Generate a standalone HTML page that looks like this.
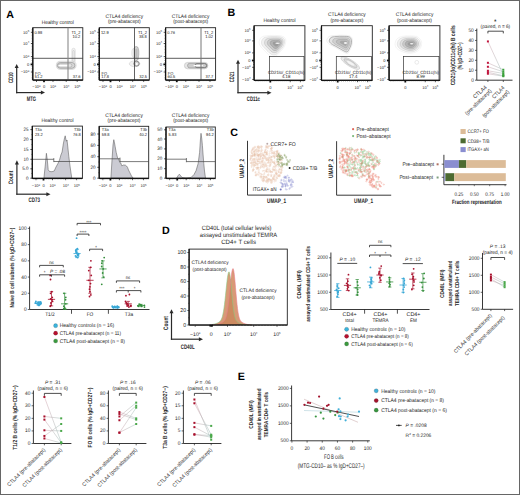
<!DOCTYPE html>
<html><head><meta charset="utf-8"><style>
html,body{margin:0;padding:0;background:#fff;width:520px;height:495px;overflow:hidden}
svg{display:block;font-family:"Liberation Sans", sans-serif;text-rendering:geometricPrecision}

</style></head><body>
<svg width="520" height="495" viewBox="0 0 520 495" font-family='"Liberation Sans", sans-serif'>
<rect width="520" height="495" fill="#fff"/>
<defs><linearGradient id="pg1" gradientUnits="userSpaceOnUse" x1="487.9" y1="0" x2="503.3" y2="0"><stop offset="0" stop-color="#d4a2ae"/><stop offset="1" stop-color="#9ac0b8"/></linearGradient>
<linearGradient id="pg2" gradientUnits="userSpaceOnUse" x1="490.9" y1="0" x2="504.6" y2="0"><stop offset="0" stop-color="#d4a2ae"/><stop offset="1" stop-color="#9ac0b8"/></linearGradient>
<linearGradient id="pg3" gradientUnits="userSpaceOnUse" x1="44.4" y1="0" x2="61.2" y2="0"><stop offset="0" stop-color="#d4a2ae"/><stop offset="1" stop-color="#9ac0b8"/></linearGradient>
<linearGradient id="pg4" gradientUnits="userSpaceOnUse" x1="119.4" y1="0" x2="136.20000000000002" y2="0"><stop offset="0" stop-color="#d4a2ae"/><stop offset="1" stop-color="#9ac0b8"/></linearGradient>
<linearGradient id="pg5" gradientUnits="userSpaceOnUse" x1="194.4" y1="0" x2="211.20000000000002" y2="0"><stop offset="0" stop-color="#d4a2ae"/><stop offset="1" stop-color="#9ac0b8"/></linearGradient></defs>
<rect x="0.5" y="0.5" width="519" height="494" fill="none" stroke="#666" stroke-width="1" />
<text x="6.2" y="17.5" font-size="10.7" font-weight="bold" fill="#000">A</text>
<text x="227.4" y="15.5" font-size="10.7" font-weight="bold" fill="#000">B</text>
<text x="230.2" y="136.1" font-size="10.7" font-weight="bold" fill="#000">C</text>
<text x="161.9" y="234.1" font-size="10.7" font-weight="bold" fill="#000">D</text>
<text x="237.7" y="379.8" font-size="10.7" font-weight="bold" fill="#000">E</text>
<text x="57.8" y="24" font-size="5.18" text-anchor="middle" fill="#262626" textLength="32.02" lengthAdjust="spacingAndGlyphs">Healthy control</text>
<rect x="71.9" y="48.3" width="3.3" height="14.5" rx="1.65" fill="#f4f4f4" stroke="#c4c4c4" stroke-width="0.45"/>
<rect x="72.8" y="50.5" width="1.5" height="11" rx="0.75" fill="none" stroke="#b4b4b4" stroke-width="0.4"/>
<rect x="56.3" y="61.2" width="19.8" height="8.2" rx="4.1" fill="#ededed" stroke="#bdbdbd" stroke-width="0.45"/>
<rect x="57.3" y="62.5" width="17.6" height="5.8" rx="2.9" fill="#d6d6d6" stroke="#8c8c8c" stroke-width="0.6"/>
<rect x="58.4" y="63.7" width="13.5" height="3.5" rx="1.75" fill="#e4e4e4" stroke="#9a9a9a" stroke-width="0.5"/>
<rect x="58.3" y="64.95" width="9.5" height="1.2" rx="0.6" fill="#fff"/>
<rect x="32.8" y="27.7" width="50" height="52.3" fill="none" stroke="#222" stroke-width="0.9" />
<line x1="32.8" y1="58.3" x2="82.8" y2="58.3" stroke="#333" stroke-width="0.8" />
<line x1="68" y1="27.7" x2="68" y2="80" stroke="#8a8a8a" stroke-width="1.1" />
<text x="34.4" y="33.6" font-size="4.32" fill="#262626" textLength="7.79" lengthAdjust="spacingAndGlyphs">0.98</text>
<text x="80.5" y="33.6" font-size="4.32" text-anchor="end" fill="#262626" textLength="9.12" lengthAdjust="spacingAndGlyphs">T1_2</text>
<text x="80.2" y="38" font-size="4.32" text-anchor="end" fill="#262626" textLength="7.79" lengthAdjust="spacingAndGlyphs">10.2</text>
<text x="35" y="74.6" font-size="4.32" fill="#262626" textLength="5.55" lengthAdjust="spacingAndGlyphs">FO</text>
<text x="34.7" y="78.4" font-size="4.32" fill="#262626" textLength="7.79" lengthAdjust="spacingAndGlyphs">51.2</text>
<text x="80.5" y="78.4" font-size="4.32" text-anchor="end" fill="#262626" textLength="7.79" lengthAdjust="spacingAndGlyphs">37.6</text>
<line x1="32.8" y1="27.7" x2="32.8" y2="80" stroke="#111" stroke-width="1.25" />
<line x1="31.7" y1="29.5" x2="32.8" y2="29.5" stroke="#222" stroke-width="0.5" />
<line x1="31.7" y1="30.8" x2="32.8" y2="30.8" stroke="#222" stroke-width="0.5" />
<line x1="31.7" y1="34" x2="32.8" y2="34" stroke="#222" stroke-width="0.5" />
<line x1="31.7" y1="35.5" x2="32.8" y2="35.5" stroke="#222" stroke-width="0.5" />
<line x1="31.7" y1="37" x2="32.8" y2="37" stroke="#222" stroke-width="0.5" />
<line x1="31.7" y1="38.5" x2="32.8" y2="38.5" stroke="#222" stroke-width="0.5" />
<line x1="31.7" y1="40" x2="32.8" y2="40" stroke="#222" stroke-width="0.5" />
<line x1="31.7" y1="41.5" x2="32.8" y2="41.5" stroke="#222" stroke-width="0.5" />
<line x1="31.7" y1="45" x2="32.8" y2="45" stroke="#222" stroke-width="0.5" />
<line x1="31.7" y1="46.5" x2="32.8" y2="46.5" stroke="#222" stroke-width="0.5" />
<line x1="31.7" y1="48" x2="32.8" y2="48" stroke="#222" stroke-width="0.5" />
<line x1="31.7" y1="49.5" x2="32.8" y2="49.5" stroke="#222" stroke-width="0.5" />
<line x1="31.7" y1="51" x2="32.8" y2="51" stroke="#222" stroke-width="0.5" />
<line x1="31.7" y1="52.5" x2="32.8" y2="52.5" stroke="#222" stroke-width="0.5" />
<line x1="31.7" y1="54" x2="32.8" y2="54" stroke="#222" stroke-width="0.5" />
<line x1="31.7" y1="58.5" x2="32.8" y2="58.5" stroke="#222" stroke-width="0.5" />
<line x1="31.7" y1="60.5" x2="32.8" y2="60.5" stroke="#222" stroke-width="0.5" />
<line x1="31.7" y1="62.5" x2="32.8" y2="62.5" stroke="#222" stroke-width="0.5" />
<line x1="31.7" y1="66.5" x2="32.8" y2="66.5" stroke="#222" stroke-width="0.5" />
<line x1="31.7" y1="68.5" x2="32.8" y2="68.5" stroke="#222" stroke-width="0.5" />
<line x1="31.7" y1="70.3" x2="32.8" y2="70.3" stroke="#222" stroke-width="0.5" />
<line x1="31.7" y1="74" x2="32.8" y2="74" stroke="#222" stroke-width="0.5" />
<line x1="31.7" y1="75.8" x2="32.8" y2="75.8" stroke="#222" stroke-width="0.5" />
<line x1="31.7" y1="77.6" x2="32.8" y2="77.6" stroke="#222" stroke-width="0.5" />
<line x1="31.7" y1="79" x2="32.8" y2="79" stroke="#222" stroke-width="0.5" />
<line x1="30.9" y1="32.3" x2="32.8" y2="32.3" stroke="#111" stroke-width="0.75" />
<text x="29.2" y="33.7" font-size="4.1" text-anchor="end" fill="#262626">10<tspan dy="-1.5" font-size="2.8">5</tspan></text>
<line x1="30.9" y1="43.5" x2="32.8" y2="43.5" stroke="#111" stroke-width="0.75" />
<text x="29.2" y="44.9" font-size="4.1" text-anchor="end" fill="#262626">10<tspan dy="-1.5" font-size="2.8">4</tspan></text>
<line x1="30.9" y1="56.6" x2="32.8" y2="56.6" stroke="#111" stroke-width="0.75" />
<text x="29.2" y="58" font-size="4.1" text-anchor="end" fill="#262626">10<tspan dy="-1.5" font-size="2.8">3</tspan></text>
<rect x="30.6" y="63.5" width="2.2" height="1.8" fill="#111" stroke="none" stroke-width="0.8" />
<text x="29.2" y="65.8" font-size="4.1" text-anchor="end" fill="#262626">0</text>
<line x1="30.9" y1="72" x2="32.8" y2="72" stroke="#111" stroke-width="0.75" />
<text x="29.2" y="73.4" font-size="4.1" text-anchor="end" fill="#262626">−10<tspan dy="-1.5" font-size="2.8">3</tspan></text>
<line x1="32.8" y1="80" x2="82.8" y2="80" stroke="#111" stroke-width="1.25" />
<line x1="33.8" y1="80" x2="33.8" y2="81.1" stroke="#222" stroke-width="0.5" />
<line x1="35.1" y1="80" x2="35.1" y2="81.1" stroke="#222" stroke-width="0.5" />
<line x1="38" y1="80" x2="38" y2="81.1" stroke="#222" stroke-width="0.5" />
<line x1="39.4" y1="80" x2="39.4" y2="81.1" stroke="#222" stroke-width="0.5" />
<line x1="40.8" y1="80" x2="40.8" y2="81.1" stroke="#222" stroke-width="0.5" />
<line x1="42.4" y1="80" x2="42.4" y2="81.1" stroke="#222" stroke-width="0.5" />
<line x1="45.6" y1="80" x2="45.6" y2="81.1" stroke="#222" stroke-width="0.5" />
<line x1="47.2" y1="80" x2="47.2" y2="81.1" stroke="#222" stroke-width="0.5" />
<line x1="48.8" y1="80" x2="48.8" y2="81.1" stroke="#222" stroke-width="0.5" />
<line x1="50.4" y1="80" x2="50.4" y2="81.1" stroke="#222" stroke-width="0.5" />
<line x1="51.8" y1="80" x2="51.8" y2="81.1" stroke="#222" stroke-width="0.5" />
<line x1="54.6" y1="80" x2="54.6" y2="81.1" stroke="#222" stroke-width="0.5" />
<line x1="56.3" y1="80" x2="56.3" y2="81.1" stroke="#222" stroke-width="0.5" />
<line x1="57.8" y1="80" x2="57.8" y2="81.1" stroke="#222" stroke-width="0.5" />
<line x1="59.3" y1="80" x2="59.3" y2="81.1" stroke="#222" stroke-width="0.5" />
<line x1="60.8" y1="80" x2="60.8" y2="81.1" stroke="#222" stroke-width="0.5" />
<line x1="62.3" y1="80" x2="62.3" y2="81.1" stroke="#222" stroke-width="0.5" />
<line x1="63.8" y1="80" x2="63.8" y2="81.1" stroke="#222" stroke-width="0.5" />
<line x1="64.8" y1="80" x2="64.8" y2="81.1" stroke="#222" stroke-width="0.5" />
<line x1="67.8" y1="80" x2="67.8" y2="81.1" stroke="#222" stroke-width="0.5" />
<line x1="69.3" y1="80" x2="69.3" y2="81.1" stroke="#222" stroke-width="0.5" />
<line x1="70.8" y1="80" x2="70.8" y2="81.1" stroke="#222" stroke-width="0.5" />
<line x1="72.3" y1="80" x2="72.3" y2="81.1" stroke="#222" stroke-width="0.5" />
<line x1="73.8" y1="80" x2="73.8" y2="81.1" stroke="#222" stroke-width="0.5" />
<line x1="75.3" y1="80" x2="75.3" y2="81.1" stroke="#222" stroke-width="0.5" />
<line x1="76.3" y1="80" x2="76.3" y2="81.1" stroke="#222" stroke-width="0.5" />
<line x1="78.8" y1="80" x2="78.8" y2="81.1" stroke="#222" stroke-width="0.5" />
<line x1="80.3" y1="80" x2="80.3" y2="81.1" stroke="#222" stroke-width="0.5" />
<line x1="81.8" y1="80" x2="81.8" y2="81.1" stroke="#222" stroke-width="0.5" />
<line x1="36.5" y1="80" x2="36.5" y2="81.9" stroke="#111" stroke-width="0.75" />
<text x="36.5" y="88.4" font-size="4" text-anchor="middle" fill="#262626">−10<tspan dy="-1.5" font-size="2.8">3</tspan></text>
<rect x="43.1" y="80" width="1.8" height="2.2" fill="#111" stroke="none" stroke-width="0.8" />
<text x="44" y="88.4" font-size="4" text-anchor="middle" fill="#262626">0</text>
<line x1="53" y1="80" x2="53" y2="81.9" stroke="#111" stroke-width="0.75" />
<text x="53" y="88.4" font-size="4" text-anchor="middle" fill="#262626">10<tspan dy="-1.5" font-size="2.8">3</tspan></text>
<line x1="66.2" y1="80" x2="66.2" y2="81.9" stroke="#111" stroke-width="0.75" />
<text x="66.2" y="88.4" font-size="4" text-anchor="middle" fill="#262626">10<tspan dy="-1.5" font-size="2.8">4</tspan></text>
<line x1="77.2" y1="80" x2="77.2" y2="81.9" stroke="#111" stroke-width="0.75" />
<text x="77.2" y="88.4" font-size="4" text-anchor="middle" fill="#262626">10<tspan dy="-1.5" font-size="2.8">5</tspan></text>
<text x="124.3" y="18.3" font-size="5.18" text-anchor="middle" fill="#262626" textLength="37.62" lengthAdjust="spacingAndGlyphs">CTLA4 deficiency</text>
<text x="124.3" y="23.4" font-size="5.18" text-anchor="middle" fill="#262626" textLength="32.82" lengthAdjust="spacingAndGlyphs">(pre-abatacept)</text>
<rect x="131.8" y="48.2" width="7.4" height="9.5" rx="3" fill="#f2f2f2" stroke="#d0d0d0" stroke-width="0.45"/>
<ellipse cx="134.6" cy="63.8" rx="5.3" ry="2.9" fill="#f0f0f0" stroke="#c4c4c4" stroke-width="0.45"/>
<rect x="134.2" y="46.6" width="4.0" height="14" rx="2" fill="#d8d8d8" stroke="#8c8c8c" stroke-width="0.6"/>
<rect x="135.3" y="48.5" width="1.8" height="10" rx="0.9" fill="#bdbdbd" stroke="none"/>
<ellipse cx="136.5" cy="63.7" rx="2.7" ry="2.5" fill="#cfcfcf" stroke="#707070" stroke-width="0.7"/>
<ellipse cx="136.8" cy="64.0" rx="1.0" ry="0.9" fill="#fff"/>
<rect x="99.3" y="27.7" width="50" height="52.3" fill="none" stroke="#222" stroke-width="0.9" />
<line x1="99.3" y1="58.3" x2="149.3" y2="58.3" stroke="#333" stroke-width="0.8" />
<line x1="134.5" y1="27.7" x2="134.5" y2="80" stroke="#3a3a3a" stroke-width="0.8" />
<text x="100.9" y="33.6" font-size="4.32" fill="#262626" textLength="7.79" lengthAdjust="spacingAndGlyphs">12.9</text>
<text x="147" y="33.6" font-size="4.32" text-anchor="end" fill="#262626" textLength="9.12" lengthAdjust="spacingAndGlyphs">T1_2</text>
<text x="146.7" y="38" font-size="4.32" text-anchor="end" fill="#262626" textLength="7.79" lengthAdjust="spacingAndGlyphs">38.8</text>
<text x="101.5" y="74.6" font-size="4.32" fill="#262626" textLength="5.55" lengthAdjust="spacingAndGlyphs">FO</text>
<text x="101.2" y="78.4" font-size="4.32" fill="#262626" textLength="7.79" lengthAdjust="spacingAndGlyphs">17.8</text>
<text x="147" y="78.4" font-size="4.32" text-anchor="end" fill="#262626" textLength="7.79" lengthAdjust="spacingAndGlyphs">32.5</text>
<line x1="99.3" y1="27.7" x2="99.3" y2="80" stroke="#111" stroke-width="1.25" />
<line x1="98.2" y1="29.5" x2="99.3" y2="29.5" stroke="#222" stroke-width="0.5" />
<line x1="98.2" y1="30.8" x2="99.3" y2="30.8" stroke="#222" stroke-width="0.5" />
<line x1="98.2" y1="34" x2="99.3" y2="34" stroke="#222" stroke-width="0.5" />
<line x1="98.2" y1="35.5" x2="99.3" y2="35.5" stroke="#222" stroke-width="0.5" />
<line x1="98.2" y1="37" x2="99.3" y2="37" stroke="#222" stroke-width="0.5" />
<line x1="98.2" y1="38.5" x2="99.3" y2="38.5" stroke="#222" stroke-width="0.5" />
<line x1="98.2" y1="40" x2="99.3" y2="40" stroke="#222" stroke-width="0.5" />
<line x1="98.2" y1="41.5" x2="99.3" y2="41.5" stroke="#222" stroke-width="0.5" />
<line x1="98.2" y1="45" x2="99.3" y2="45" stroke="#222" stroke-width="0.5" />
<line x1="98.2" y1="46.5" x2="99.3" y2="46.5" stroke="#222" stroke-width="0.5" />
<line x1="98.2" y1="48" x2="99.3" y2="48" stroke="#222" stroke-width="0.5" />
<line x1="98.2" y1="49.5" x2="99.3" y2="49.5" stroke="#222" stroke-width="0.5" />
<line x1="98.2" y1="51" x2="99.3" y2="51" stroke="#222" stroke-width="0.5" />
<line x1="98.2" y1="52.5" x2="99.3" y2="52.5" stroke="#222" stroke-width="0.5" />
<line x1="98.2" y1="54" x2="99.3" y2="54" stroke="#222" stroke-width="0.5" />
<line x1="98.2" y1="58.5" x2="99.3" y2="58.5" stroke="#222" stroke-width="0.5" />
<line x1="98.2" y1="60.5" x2="99.3" y2="60.5" stroke="#222" stroke-width="0.5" />
<line x1="98.2" y1="62.5" x2="99.3" y2="62.5" stroke="#222" stroke-width="0.5" />
<line x1="98.2" y1="66.5" x2="99.3" y2="66.5" stroke="#222" stroke-width="0.5" />
<line x1="98.2" y1="68.5" x2="99.3" y2="68.5" stroke="#222" stroke-width="0.5" />
<line x1="98.2" y1="70.3" x2="99.3" y2="70.3" stroke="#222" stroke-width="0.5" />
<line x1="98.2" y1="74" x2="99.3" y2="74" stroke="#222" stroke-width="0.5" />
<line x1="98.2" y1="75.8" x2="99.3" y2="75.8" stroke="#222" stroke-width="0.5" />
<line x1="98.2" y1="77.6" x2="99.3" y2="77.6" stroke="#222" stroke-width="0.5" />
<line x1="98.2" y1="79" x2="99.3" y2="79" stroke="#222" stroke-width="0.5" />
<line x1="97.4" y1="32.3" x2="99.3" y2="32.3" stroke="#111" stroke-width="0.75" />
<text x="95.7" y="33.7" font-size="4.1" text-anchor="end" fill="#262626">10<tspan dy="-1.5" font-size="2.8">5</tspan></text>
<line x1="97.4" y1="43.5" x2="99.3" y2="43.5" stroke="#111" stroke-width="0.75" />
<text x="95.7" y="44.9" font-size="4.1" text-anchor="end" fill="#262626">10<tspan dy="-1.5" font-size="2.8">4</tspan></text>
<line x1="97.4" y1="56.6" x2="99.3" y2="56.6" stroke="#111" stroke-width="0.75" />
<text x="95.7" y="58" font-size="4.1" text-anchor="end" fill="#262626">10<tspan dy="-1.5" font-size="2.8">3</tspan></text>
<rect x="97.1" y="63.5" width="2.2" height="1.8" fill="#111" stroke="none" stroke-width="0.8" />
<text x="95.7" y="65.8" font-size="4.1" text-anchor="end" fill="#262626">0</text>
<line x1="97.4" y1="72" x2="99.3" y2="72" stroke="#111" stroke-width="0.75" />
<text x="95.7" y="73.4" font-size="4.1" text-anchor="end" fill="#262626">−10<tspan dy="-1.5" font-size="2.8">3</tspan></text>
<line x1="99.3" y1="80" x2="149.3" y2="80" stroke="#111" stroke-width="1.25" />
<line x1="100.3" y1="80" x2="100.3" y2="81.1" stroke="#222" stroke-width="0.5" />
<line x1="101.6" y1="80" x2="101.6" y2="81.1" stroke="#222" stroke-width="0.5" />
<line x1="104.5" y1="80" x2="104.5" y2="81.1" stroke="#222" stroke-width="0.5" />
<line x1="105.9" y1="80" x2="105.9" y2="81.1" stroke="#222" stroke-width="0.5" />
<line x1="107.3" y1="80" x2="107.3" y2="81.1" stroke="#222" stroke-width="0.5" />
<line x1="108.9" y1="80" x2="108.9" y2="81.1" stroke="#222" stroke-width="0.5" />
<line x1="112.1" y1="80" x2="112.1" y2="81.1" stroke="#222" stroke-width="0.5" />
<line x1="113.7" y1="80" x2="113.7" y2="81.1" stroke="#222" stroke-width="0.5" />
<line x1="115.3" y1="80" x2="115.3" y2="81.1" stroke="#222" stroke-width="0.5" />
<line x1="116.9" y1="80" x2="116.9" y2="81.1" stroke="#222" stroke-width="0.5" />
<line x1="118.3" y1="80" x2="118.3" y2="81.1" stroke="#222" stroke-width="0.5" />
<line x1="121.1" y1="80" x2="121.1" y2="81.1" stroke="#222" stroke-width="0.5" />
<line x1="122.8" y1="80" x2="122.8" y2="81.1" stroke="#222" stroke-width="0.5" />
<line x1="124.3" y1="80" x2="124.3" y2="81.1" stroke="#222" stroke-width="0.5" />
<line x1="125.8" y1="80" x2="125.8" y2="81.1" stroke="#222" stroke-width="0.5" />
<line x1="127.3" y1="80" x2="127.3" y2="81.1" stroke="#222" stroke-width="0.5" />
<line x1="128.8" y1="80" x2="128.8" y2="81.1" stroke="#222" stroke-width="0.5" />
<line x1="130.3" y1="80" x2="130.3" y2="81.1" stroke="#222" stroke-width="0.5" />
<line x1="131.3" y1="80" x2="131.3" y2="81.1" stroke="#222" stroke-width="0.5" />
<line x1="134.3" y1="80" x2="134.3" y2="81.1" stroke="#222" stroke-width="0.5" />
<line x1="135.8" y1="80" x2="135.8" y2="81.1" stroke="#222" stroke-width="0.5" />
<line x1="137.3" y1="80" x2="137.3" y2="81.1" stroke="#222" stroke-width="0.5" />
<line x1="138.8" y1="80" x2="138.8" y2="81.1" stroke="#222" stroke-width="0.5" />
<line x1="140.3" y1="80" x2="140.3" y2="81.1" stroke="#222" stroke-width="0.5" />
<line x1="141.8" y1="80" x2="141.8" y2="81.1" stroke="#222" stroke-width="0.5" />
<line x1="142.8" y1="80" x2="142.8" y2="81.1" stroke="#222" stroke-width="0.5" />
<line x1="145.3" y1="80" x2="145.3" y2="81.1" stroke="#222" stroke-width="0.5" />
<line x1="146.8" y1="80" x2="146.8" y2="81.1" stroke="#222" stroke-width="0.5" />
<line x1="148.3" y1="80" x2="148.3" y2="81.1" stroke="#222" stroke-width="0.5" />
<line x1="103" y1="80" x2="103" y2="81.9" stroke="#111" stroke-width="0.75" />
<text x="103" y="88.4" font-size="4" text-anchor="middle" fill="#262626">−10<tspan dy="-1.5" font-size="2.8">3</tspan></text>
<rect x="109.6" y="80" width="1.8" height="2.2" fill="#111" stroke="none" stroke-width="0.8" />
<text x="110.5" y="88.4" font-size="4" text-anchor="middle" fill="#262626">0</text>
<line x1="119.5" y1="80" x2="119.5" y2="81.9" stroke="#111" stroke-width="0.75" />
<text x="119.5" y="88.4" font-size="4" text-anchor="middle" fill="#262626">10<tspan dy="-1.5" font-size="2.8">3</tspan></text>
<line x1="132.7" y1="80" x2="132.7" y2="81.9" stroke="#111" stroke-width="0.75" />
<text x="132.7" y="88.4" font-size="4" text-anchor="middle" fill="#262626">10<tspan dy="-1.5" font-size="2.8">4</tspan></text>
<line x1="143.7" y1="80" x2="143.7" y2="81.9" stroke="#111" stroke-width="0.75" />
<text x="143.7" y="88.4" font-size="4" text-anchor="middle" fill="#262626">10<tspan dy="-1.5" font-size="2.8">5</tspan></text>
<text x="190.6" y="18.3" font-size="5.18" text-anchor="middle" fill="#262626" textLength="37.62" lengthAdjust="spacingAndGlyphs">CTLA4 deficiency</text>
<text x="190.6" y="23.4" font-size="5.18" text-anchor="middle" fill="#262626" textLength="34.95" lengthAdjust="spacingAndGlyphs">(post-abatacept)</text>
<rect x="184.4" y="62.4" width="23.5" height="6.4" rx="3.2" fill="#e6e6e6" stroke="#b4b4b4" stroke-width="0.5"/>
<rect x="187.5" y="63.3" width="19.6" height="4.6" rx="2.3" fill="#cccccc" stroke="#8a8a8a" stroke-width="0.55"/>
<rect x="195" y="63.6" width="11.6" height="4.0" rx="2.0" fill="none" stroke="#666" stroke-width="0.7"/>
<rect x="193.5" y="64.9" width="9.5" height="1.3" rx="0.65" fill="#fff"/>
<rect x="165.6" y="27.7" width="50" height="52.3" fill="none" stroke="#222" stroke-width="0.9" />
<line x1="165.6" y1="58.3" x2="215.6" y2="58.3" stroke="#333" stroke-width="0.8" />
<line x1="201" y1="27.7" x2="201" y2="80" stroke="#777" stroke-width="1" />
<text x="167.2" y="33.6" font-size="4.32" fill="#262626" textLength="7.79" lengthAdjust="spacingAndGlyphs">0.76</text>
<text x="213.3" y="33.6" font-size="4.32" text-anchor="end" fill="#262626" textLength="9.12" lengthAdjust="spacingAndGlyphs">T1_2</text>
<text x="213" y="38" font-size="4.32" text-anchor="end" fill="#262626" textLength="7.79" lengthAdjust="spacingAndGlyphs">1.02</text>
<text x="167.8" y="74.6" font-size="4.32" fill="#262626" textLength="5.55" lengthAdjust="spacingAndGlyphs">FO</text>
<text x="167.5" y="78.4" font-size="4.32" fill="#262626" textLength="7.79" lengthAdjust="spacingAndGlyphs">60.5</text>
<text x="213.3" y="78.4" font-size="4.32" text-anchor="end" fill="#262626" textLength="7.79" lengthAdjust="spacingAndGlyphs">37.7</text>
<line x1="165.6" y1="27.7" x2="165.6" y2="80" stroke="#111" stroke-width="1.25" />
<line x1="164.5" y1="29.5" x2="165.6" y2="29.5" stroke="#222" stroke-width="0.5" />
<line x1="164.5" y1="30.8" x2="165.6" y2="30.8" stroke="#222" stroke-width="0.5" />
<line x1="164.5" y1="34" x2="165.6" y2="34" stroke="#222" stroke-width="0.5" />
<line x1="164.5" y1="35.5" x2="165.6" y2="35.5" stroke="#222" stroke-width="0.5" />
<line x1="164.5" y1="37" x2="165.6" y2="37" stroke="#222" stroke-width="0.5" />
<line x1="164.5" y1="38.5" x2="165.6" y2="38.5" stroke="#222" stroke-width="0.5" />
<line x1="164.5" y1="40" x2="165.6" y2="40" stroke="#222" stroke-width="0.5" />
<line x1="164.5" y1="41.5" x2="165.6" y2="41.5" stroke="#222" stroke-width="0.5" />
<line x1="164.5" y1="45" x2="165.6" y2="45" stroke="#222" stroke-width="0.5" />
<line x1="164.5" y1="46.5" x2="165.6" y2="46.5" stroke="#222" stroke-width="0.5" />
<line x1="164.5" y1="48" x2="165.6" y2="48" stroke="#222" stroke-width="0.5" />
<line x1="164.5" y1="49.5" x2="165.6" y2="49.5" stroke="#222" stroke-width="0.5" />
<line x1="164.5" y1="51" x2="165.6" y2="51" stroke="#222" stroke-width="0.5" />
<line x1="164.5" y1="52.5" x2="165.6" y2="52.5" stroke="#222" stroke-width="0.5" />
<line x1="164.5" y1="54" x2="165.6" y2="54" stroke="#222" stroke-width="0.5" />
<line x1="164.5" y1="58.5" x2="165.6" y2="58.5" stroke="#222" stroke-width="0.5" />
<line x1="164.5" y1="60.5" x2="165.6" y2="60.5" stroke="#222" stroke-width="0.5" />
<line x1="164.5" y1="62.5" x2="165.6" y2="62.5" stroke="#222" stroke-width="0.5" />
<line x1="164.5" y1="66.5" x2="165.6" y2="66.5" stroke="#222" stroke-width="0.5" />
<line x1="164.5" y1="68.5" x2="165.6" y2="68.5" stroke="#222" stroke-width="0.5" />
<line x1="164.5" y1="70.3" x2="165.6" y2="70.3" stroke="#222" stroke-width="0.5" />
<line x1="164.5" y1="74" x2="165.6" y2="74" stroke="#222" stroke-width="0.5" />
<line x1="164.5" y1="75.8" x2="165.6" y2="75.8" stroke="#222" stroke-width="0.5" />
<line x1="164.5" y1="77.6" x2="165.6" y2="77.6" stroke="#222" stroke-width="0.5" />
<line x1="164.5" y1="79" x2="165.6" y2="79" stroke="#222" stroke-width="0.5" />
<line x1="163.7" y1="32.3" x2="165.6" y2="32.3" stroke="#111" stroke-width="0.75" />
<text x="162" y="33.7" font-size="4.1" text-anchor="end" fill="#262626">10<tspan dy="-1.5" font-size="2.8">5</tspan></text>
<line x1="163.7" y1="43.5" x2="165.6" y2="43.5" stroke="#111" stroke-width="0.75" />
<text x="162" y="44.9" font-size="4.1" text-anchor="end" fill="#262626">10<tspan dy="-1.5" font-size="2.8">4</tspan></text>
<line x1="163.7" y1="56.6" x2="165.6" y2="56.6" stroke="#111" stroke-width="0.75" />
<text x="162" y="58" font-size="4.1" text-anchor="end" fill="#262626">10<tspan dy="-1.5" font-size="2.8">3</tspan></text>
<rect x="163.4" y="63.5" width="2.2" height="1.8" fill="#111" stroke="none" stroke-width="0.8" />
<text x="162" y="65.8" font-size="4.1" text-anchor="end" fill="#262626">0</text>
<line x1="163.7" y1="72" x2="165.6" y2="72" stroke="#111" stroke-width="0.75" />
<text x="162" y="73.4" font-size="4.1" text-anchor="end" fill="#262626">−10<tspan dy="-1.5" font-size="2.8">3</tspan></text>
<line x1="165.6" y1="80" x2="215.6" y2="80" stroke="#111" stroke-width="1.25" />
<line x1="166.6" y1="80" x2="166.6" y2="81.1" stroke="#222" stroke-width="0.5" />
<line x1="167.9" y1="80" x2="167.9" y2="81.1" stroke="#222" stroke-width="0.5" />
<line x1="170.8" y1="80" x2="170.8" y2="81.1" stroke="#222" stroke-width="0.5" />
<line x1="172.2" y1="80" x2="172.2" y2="81.1" stroke="#222" stroke-width="0.5" />
<line x1="173.6" y1="80" x2="173.6" y2="81.1" stroke="#222" stroke-width="0.5" />
<line x1="175.2" y1="80" x2="175.2" y2="81.1" stroke="#222" stroke-width="0.5" />
<line x1="178.4" y1="80" x2="178.4" y2="81.1" stroke="#222" stroke-width="0.5" />
<line x1="180" y1="80" x2="180" y2="81.1" stroke="#222" stroke-width="0.5" />
<line x1="181.6" y1="80" x2="181.6" y2="81.1" stroke="#222" stroke-width="0.5" />
<line x1="183.2" y1="80" x2="183.2" y2="81.1" stroke="#222" stroke-width="0.5" />
<line x1="184.6" y1="80" x2="184.6" y2="81.1" stroke="#222" stroke-width="0.5" />
<line x1="187.4" y1="80" x2="187.4" y2="81.1" stroke="#222" stroke-width="0.5" />
<line x1="189.1" y1="80" x2="189.1" y2="81.1" stroke="#222" stroke-width="0.5" />
<line x1="190.6" y1="80" x2="190.6" y2="81.1" stroke="#222" stroke-width="0.5" />
<line x1="192.1" y1="80" x2="192.1" y2="81.1" stroke="#222" stroke-width="0.5" />
<line x1="193.6" y1="80" x2="193.6" y2="81.1" stroke="#222" stroke-width="0.5" />
<line x1="195.1" y1="80" x2="195.1" y2="81.1" stroke="#222" stroke-width="0.5" />
<line x1="196.6" y1="80" x2="196.6" y2="81.1" stroke="#222" stroke-width="0.5" />
<line x1="197.6" y1="80" x2="197.6" y2="81.1" stroke="#222" stroke-width="0.5" />
<line x1="200.6" y1="80" x2="200.6" y2="81.1" stroke="#222" stroke-width="0.5" />
<line x1="202.1" y1="80" x2="202.1" y2="81.1" stroke="#222" stroke-width="0.5" />
<line x1="203.6" y1="80" x2="203.6" y2="81.1" stroke="#222" stroke-width="0.5" />
<line x1="205.1" y1="80" x2="205.1" y2="81.1" stroke="#222" stroke-width="0.5" />
<line x1="206.6" y1="80" x2="206.6" y2="81.1" stroke="#222" stroke-width="0.5" />
<line x1="208.1" y1="80" x2="208.1" y2="81.1" stroke="#222" stroke-width="0.5" />
<line x1="209.1" y1="80" x2="209.1" y2="81.1" stroke="#222" stroke-width="0.5" />
<line x1="211.6" y1="80" x2="211.6" y2="81.1" stroke="#222" stroke-width="0.5" />
<line x1="213.1" y1="80" x2="213.1" y2="81.1" stroke="#222" stroke-width="0.5" />
<line x1="214.6" y1="80" x2="214.6" y2="81.1" stroke="#222" stroke-width="0.5" />
<line x1="169.3" y1="80" x2="169.3" y2="81.9" stroke="#111" stroke-width="0.75" />
<text x="169.3" y="88.4" font-size="4" text-anchor="middle" fill="#262626">−10<tspan dy="-1.5" font-size="2.8">3</tspan></text>
<rect x="175.9" y="80" width="1.8" height="2.2" fill="#111" stroke="none" stroke-width="0.8" />
<text x="176.8" y="88.4" font-size="4" text-anchor="middle" fill="#262626">0</text>
<line x1="185.8" y1="80" x2="185.8" y2="81.9" stroke="#111" stroke-width="0.75" />
<text x="185.8" y="88.4" font-size="4" text-anchor="middle" fill="#262626">10<tspan dy="-1.5" font-size="2.8">3</tspan></text>
<line x1="199" y1="80" x2="199" y2="81.9" stroke="#111" stroke-width="0.75" />
<text x="199" y="88.4" font-size="4" text-anchor="middle" fill="#262626">10<tspan dy="-1.5" font-size="2.8">4</tspan></text>
<line x1="210" y1="80" x2="210" y2="81.9" stroke="#111" stroke-width="0.75" />
<text x="210" y="88.4" font-size="4" text-anchor="middle" fill="#262626">10<tspan dy="-1.5" font-size="2.8">5</tspan></text>
<line x1="16.7" y1="67.5" x2="16.7" y2="93.2" stroke="#2a2a2a" stroke-width="1.2" />
<line x1="16.1" y1="92.6" x2="41.5" y2="92.6" stroke="#2a2a2a" stroke-width="1.2" />
<path d="M14.7,68.1 L16.7,64.0 L18.7,68.1 Z" fill="#2a2a2a" stroke="none" stroke-width="0.8" />
<path d="M40.9,90.6 L45.0,92.6 L40.9,94.6 Z" fill="#2a2a2a" stroke="none" stroke-width="0.8" />
<text x="31.4" y="101" font-size="6.48" text-anchor="middle" font-weight="bold" fill="#262626" textLength="9.2" lengthAdjust="spacingAndGlyphs">MTG</text>
<text x="12.6" y="77.8" font-size="6.48" text-anchor="middle" font-weight="bold" fill="#262626" textLength="10.6" lengthAdjust="spacingAndGlyphs" transform="rotate(-90 12.6 77.8)">CD10</text>
<text x="57.5" y="122" font-size="5.18" text-anchor="middle" fill="#262626" textLength="32.02" lengthAdjust="spacingAndGlyphs">Healthy control</text>
<path d="M43.9,178.2 L45.2,166 L46.4,153.3 L47.3,160 L48.2,169.7 L49.5,171.5 L52,171.7 L54.2,171 L56,167 L57.9,163.6 L59.5,160 L60.9,155 L62.1,152 L63.3,144 L64.3,139 L65.2,135.8 L65.8,139 L66.4,141.2 L67,140 L67.6,145 L68.8,156.4 L70,166 L71,173 L71.8,178.2 Z" fill="#cbcbd3" stroke="#5a5a5a" stroke-width="0.55" />
<rect x="32.3" y="126.1" width="50.1" height="52.2" fill="none" stroke="#222" stroke-width="0.9" />
<path d="M32.3,159.3 L53.8,159.3 M53.8,158.10000000000002 L53.8,162.1 M53.8,161.5 L82.4,161.5" fill="none" stroke="#444" stroke-width="0.7" />
<text x="34.9" y="131" font-size="4.32" fill="#262626" textLength="6.89" lengthAdjust="spacingAndGlyphs">T3a</text>
<text x="34.9" y="135.7" font-size="4.32" fill="#262626" textLength="7.79" lengthAdjust="spacingAndGlyphs">23.2</text>
<text x="80.8" y="131" font-size="4.32" text-anchor="end" fill="#262626" textLength="6.89" lengthAdjust="spacingAndGlyphs">T3b</text>
<text x="80.8" y="135.7" font-size="4.32" text-anchor="end" fill="#262626" textLength="7.79" lengthAdjust="spacingAndGlyphs">76.8</text>
<line x1="32.3" y1="126.1" x2="32.3" y2="178.3" stroke="#111" stroke-width="1.25" />
<line x1="30.4" y1="129.6" x2="32.3" y2="129.6" stroke="#111" stroke-width="0.75" />
<text x="28.5" y="131.1" font-size="4.86" text-anchor="end" fill="#262626" textLength="5.01" lengthAdjust="spacingAndGlyphs">25</text>
<line x1="30.4" y1="139.6" x2="32.3" y2="139.6" stroke="#111" stroke-width="0.75" />
<text x="28.5" y="141.1" font-size="4.86" text-anchor="end" fill="#262626" textLength="5.01" lengthAdjust="spacingAndGlyphs">20</text>
<line x1="30.4" y1="149.5" x2="32.3" y2="149.5" stroke="#111" stroke-width="0.75" />
<text x="28.5" y="151" font-size="4.86" text-anchor="end" fill="#262626" textLength="5.01" lengthAdjust="spacingAndGlyphs">15</text>
<line x1="30.4" y1="159.3" x2="32.3" y2="159.3" stroke="#111" stroke-width="0.75" />
<text x="28.5" y="160.8" font-size="4.86" text-anchor="end" fill="#262626" textLength="5.01" lengthAdjust="spacingAndGlyphs">10</text>
<line x1="30.4" y1="168.8" x2="32.3" y2="168.8" stroke="#111" stroke-width="0.75" />
<text x="28.5" y="170.3" font-size="4.86" text-anchor="end" fill="#262626" textLength="6.26" lengthAdjust="spacingAndGlyphs">5.0</text>
<line x1="30.4" y1="178.2" x2="32.3" y2="178.2" stroke="#111" stroke-width="0.75" />
<text x="28.5" y="179.7" font-size="4.86" text-anchor="end" fill="#262626" textLength="2.5" lengthAdjust="spacingAndGlyphs">0</text>
<line x1="31.3" y1="134.6" x2="32.3" y2="134.6" stroke="#222" stroke-width="0.45" />
<line x1="31.3" y1="144.55" x2="32.3" y2="144.55" stroke="#222" stroke-width="0.45" />
<line x1="31.3" y1="154.4" x2="32.3" y2="154.4" stroke="#222" stroke-width="0.45" />
<line x1="31.3" y1="164.05" x2="32.3" y2="164.05" stroke="#222" stroke-width="0.45" />
<line x1="31.3" y1="173.5" x2="32.3" y2="173.5" stroke="#222" stroke-width="0.45" />
<line x1="32.3" y1="178.3" x2="82.4" y2="178.3" stroke="#111" stroke-width="1.25" />
<line x1="33.3" y1="178.3" x2="33.3" y2="179.4" stroke="#222" stroke-width="0.5" />
<line x1="34.6" y1="178.3" x2="34.6" y2="179.4" stroke="#222" stroke-width="0.5" />
<line x1="37.5" y1="178.3" x2="37.5" y2="179.4" stroke="#222" stroke-width="0.5" />
<line x1="38.9" y1="178.3" x2="38.9" y2="179.4" stroke="#222" stroke-width="0.5" />
<line x1="40.3" y1="178.3" x2="40.3" y2="179.4" stroke="#222" stroke-width="0.5" />
<line x1="41.9" y1="178.3" x2="41.9" y2="179.4" stroke="#222" stroke-width="0.5" />
<line x1="45.1" y1="178.3" x2="45.1" y2="179.4" stroke="#222" stroke-width="0.5" />
<line x1="46.7" y1="178.3" x2="46.7" y2="179.4" stroke="#222" stroke-width="0.5" />
<line x1="48.3" y1="178.3" x2="48.3" y2="179.4" stroke="#222" stroke-width="0.5" />
<line x1="49.9" y1="178.3" x2="49.9" y2="179.4" stroke="#222" stroke-width="0.5" />
<line x1="51.3" y1="178.3" x2="51.3" y2="179.4" stroke="#222" stroke-width="0.5" />
<line x1="54.1" y1="178.3" x2="54.1" y2="179.4" stroke="#222" stroke-width="0.5" />
<line x1="55.8" y1="178.3" x2="55.8" y2="179.4" stroke="#222" stroke-width="0.5" />
<line x1="57.3" y1="178.3" x2="57.3" y2="179.4" stroke="#222" stroke-width="0.5" />
<line x1="58.8" y1="178.3" x2="58.8" y2="179.4" stroke="#222" stroke-width="0.5" />
<line x1="60.3" y1="178.3" x2="60.3" y2="179.4" stroke="#222" stroke-width="0.5" />
<line x1="61.8" y1="178.3" x2="61.8" y2="179.4" stroke="#222" stroke-width="0.5" />
<line x1="63.3" y1="178.3" x2="63.3" y2="179.4" stroke="#222" stroke-width="0.5" />
<line x1="64.3" y1="178.3" x2="64.3" y2="179.4" stroke="#222" stroke-width="0.5" />
<line x1="67.3" y1="178.3" x2="67.3" y2="179.4" stroke="#222" stroke-width="0.5" />
<line x1="68.8" y1="178.3" x2="68.8" y2="179.4" stroke="#222" stroke-width="0.5" />
<line x1="70.3" y1="178.3" x2="70.3" y2="179.4" stroke="#222" stroke-width="0.5" />
<line x1="71.8" y1="178.3" x2="71.8" y2="179.4" stroke="#222" stroke-width="0.5" />
<line x1="73.3" y1="178.3" x2="73.3" y2="179.4" stroke="#222" stroke-width="0.5" />
<line x1="74.8" y1="178.3" x2="74.8" y2="179.4" stroke="#222" stroke-width="0.5" />
<line x1="75.8" y1="178.3" x2="75.8" y2="179.4" stroke="#222" stroke-width="0.5" />
<line x1="78.3" y1="178.3" x2="78.3" y2="179.4" stroke="#222" stroke-width="0.5" />
<line x1="79.8" y1="178.3" x2="79.8" y2="179.4" stroke="#222" stroke-width="0.5" />
<line x1="81.3" y1="178.3" x2="81.3" y2="179.4" stroke="#222" stroke-width="0.5" />
<line x1="36" y1="178.3" x2="36" y2="180.2" stroke="#111" stroke-width="0.75" />
<text x="36" y="187.4" font-size="4" text-anchor="middle" fill="#262626">−10<tspan dy="-1.5" font-size="2.8">3</tspan></text>
<rect x="42.6" y="178.3" width="1.8" height="2.2" fill="#111" stroke="none" stroke-width="0.8" />
<text x="43.5" y="187.4" font-size="4" text-anchor="middle" fill="#262626">0</text>
<line x1="52.5" y1="178.3" x2="52.5" y2="180.2" stroke="#111" stroke-width="0.75" />
<text x="52.5" y="187.4" font-size="4" text-anchor="middle" fill="#262626">10<tspan dy="-1.5" font-size="2.8">3</tspan></text>
<line x1="65.7" y1="178.3" x2="65.7" y2="180.2" stroke="#111" stroke-width="0.75" />
<text x="65.7" y="187.4" font-size="4" text-anchor="middle" fill="#262626">10<tspan dy="-1.5" font-size="2.8">4</tspan></text>
<line x1="76.7" y1="178.3" x2="76.7" y2="180.2" stroke="#111" stroke-width="0.75" />
<text x="76.7" y="187.4" font-size="4" text-anchor="middle" fill="#262626">10<tspan dy="-1.5" font-size="2.8">5</tspan></text>
<text x="124" y="116.7" font-size="5.18" text-anchor="middle" fill="#262626" textLength="37.62" lengthAdjust="spacingAndGlyphs">CTLA4 deficiency</text>
<text x="124" y="122.3" font-size="5.18" text-anchor="middle" fill="#262626" textLength="32.82" lengthAdjust="spacingAndGlyphs">(pre-abatacept)</text>
<path d="M110.9,178.2 L112,160 L113,145 L113.8,139.7 L114.5,143 L115.2,146.8 L116.2,152.4 L117.6,158 L118.6,159 L119.7,162.3 L120.8,163 L121.8,165.9 L123.5,165 L125.4,165.2 L126.5,166 L127.5,167.3 L128.5,170 L129.6,172.2 L131.5,176 L133.1,178.2 Z" fill="#cbcbd3" stroke="#5a5a5a" stroke-width="0.55" />
<rect x="99.2" y="126.3" width="49.5" height="52" fill="none" stroke="#222" stroke-width="0.9" />
<path d="M99.2,158.8 L120.0,158.8 M120.0,157.60000000000002 L120.0,162.2 M120.0,161.6 L148.7,161.6" fill="none" stroke="#444" stroke-width="0.7" />
<text x="101.8" y="131" font-size="4.32" fill="#262626" textLength="6.89" lengthAdjust="spacingAndGlyphs">T3a</text>
<text x="101.8" y="135.7" font-size="4.32" fill="#262626" textLength="7.79" lengthAdjust="spacingAndGlyphs">59.8</text>
<text x="147.1" y="131" font-size="4.32" text-anchor="end" fill="#262626" textLength="6.89" lengthAdjust="spacingAndGlyphs">T3b</text>
<text x="147.1" y="135.7" font-size="4.32" text-anchor="end" fill="#262626" textLength="7.79" lengthAdjust="spacingAndGlyphs">40.2</text>
<line x1="99.2" y1="126.3" x2="99.2" y2="178.3" stroke="#111" stroke-width="1.25" />
<line x1="97.3" y1="134" x2="99.2" y2="134" stroke="#111" stroke-width="0.75" />
<text x="95.4" y="135.5" font-size="4.86" text-anchor="end" fill="#262626" textLength="5.01" lengthAdjust="spacingAndGlyphs">80</text>
<line x1="97.3" y1="145.4" x2="99.2" y2="145.4" stroke="#111" stroke-width="0.75" />
<text x="95.4" y="146.9" font-size="4.86" text-anchor="end" fill="#262626" textLength="5.01" lengthAdjust="spacingAndGlyphs">60</text>
<line x1="97.3" y1="156.7" x2="99.2" y2="156.7" stroke="#111" stroke-width="0.75" />
<text x="95.4" y="158.2" font-size="4.86" text-anchor="end" fill="#262626" textLength="5.01" lengthAdjust="spacingAndGlyphs">40</text>
<line x1="97.3" y1="167.3" x2="99.2" y2="167.3" stroke="#111" stroke-width="0.75" />
<text x="95.4" y="168.8" font-size="4.86" text-anchor="end" fill="#262626" textLength="5.01" lengthAdjust="spacingAndGlyphs">20</text>
<line x1="97.3" y1="178.2" x2="99.2" y2="178.2" stroke="#111" stroke-width="0.75" />
<text x="95.4" y="179.7" font-size="4.86" text-anchor="end" fill="#262626" textLength="2.5" lengthAdjust="spacingAndGlyphs">0</text>
<line x1="98.2" y1="139.7" x2="99.2" y2="139.7" stroke="#222" stroke-width="0.45" />
<line x1="98.2" y1="151.05" x2="99.2" y2="151.05" stroke="#222" stroke-width="0.45" />
<line x1="98.2" y1="162" x2="99.2" y2="162" stroke="#222" stroke-width="0.45" />
<line x1="98.2" y1="172.75" x2="99.2" y2="172.75" stroke="#222" stroke-width="0.45" />
<line x1="99.2" y1="178.3" x2="148.7" y2="178.3" stroke="#111" stroke-width="1.25" />
<line x1="100.2" y1="178.3" x2="100.2" y2="179.4" stroke="#222" stroke-width="0.5" />
<line x1="101.5" y1="178.3" x2="101.5" y2="179.4" stroke="#222" stroke-width="0.5" />
<line x1="104.4" y1="178.3" x2="104.4" y2="179.4" stroke="#222" stroke-width="0.5" />
<line x1="105.8" y1="178.3" x2="105.8" y2="179.4" stroke="#222" stroke-width="0.5" />
<line x1="107.2" y1="178.3" x2="107.2" y2="179.4" stroke="#222" stroke-width="0.5" />
<line x1="108.8" y1="178.3" x2="108.8" y2="179.4" stroke="#222" stroke-width="0.5" />
<line x1="112" y1="178.3" x2="112" y2="179.4" stroke="#222" stroke-width="0.5" />
<line x1="113.6" y1="178.3" x2="113.6" y2="179.4" stroke="#222" stroke-width="0.5" />
<line x1="115.2" y1="178.3" x2="115.2" y2="179.4" stroke="#222" stroke-width="0.5" />
<line x1="116.8" y1="178.3" x2="116.8" y2="179.4" stroke="#222" stroke-width="0.5" />
<line x1="118.2" y1="178.3" x2="118.2" y2="179.4" stroke="#222" stroke-width="0.5" />
<line x1="121" y1="178.3" x2="121" y2="179.4" stroke="#222" stroke-width="0.5" />
<line x1="122.7" y1="178.3" x2="122.7" y2="179.4" stroke="#222" stroke-width="0.5" />
<line x1="124.2" y1="178.3" x2="124.2" y2="179.4" stroke="#222" stroke-width="0.5" />
<line x1="125.7" y1="178.3" x2="125.7" y2="179.4" stroke="#222" stroke-width="0.5" />
<line x1="127.2" y1="178.3" x2="127.2" y2="179.4" stroke="#222" stroke-width="0.5" />
<line x1="128.7" y1="178.3" x2="128.7" y2="179.4" stroke="#222" stroke-width="0.5" />
<line x1="130.2" y1="178.3" x2="130.2" y2="179.4" stroke="#222" stroke-width="0.5" />
<line x1="131.2" y1="178.3" x2="131.2" y2="179.4" stroke="#222" stroke-width="0.5" />
<line x1="134.2" y1="178.3" x2="134.2" y2="179.4" stroke="#222" stroke-width="0.5" />
<line x1="135.7" y1="178.3" x2="135.7" y2="179.4" stroke="#222" stroke-width="0.5" />
<line x1="137.2" y1="178.3" x2="137.2" y2="179.4" stroke="#222" stroke-width="0.5" />
<line x1="138.7" y1="178.3" x2="138.7" y2="179.4" stroke="#222" stroke-width="0.5" />
<line x1="140.2" y1="178.3" x2="140.2" y2="179.4" stroke="#222" stroke-width="0.5" />
<line x1="141.7" y1="178.3" x2="141.7" y2="179.4" stroke="#222" stroke-width="0.5" />
<line x1="142.7" y1="178.3" x2="142.7" y2="179.4" stroke="#222" stroke-width="0.5" />
<line x1="145.2" y1="178.3" x2="145.2" y2="179.4" stroke="#222" stroke-width="0.5" />
<line x1="146.7" y1="178.3" x2="146.7" y2="179.4" stroke="#222" stroke-width="0.5" />
<line x1="148.2" y1="178.3" x2="148.2" y2="179.4" stroke="#222" stroke-width="0.5" />
<line x1="102.9" y1="178.3" x2="102.9" y2="180.2" stroke="#111" stroke-width="0.75" />
<text x="102.9" y="187.4" font-size="4" text-anchor="middle" fill="#262626">−10<tspan dy="-1.5" font-size="2.8">3</tspan></text>
<rect x="109.5" y="178.3" width="1.8" height="2.2" fill="#111" stroke="none" stroke-width="0.8" />
<text x="110.4" y="187.4" font-size="4" text-anchor="middle" fill="#262626">0</text>
<line x1="119.4" y1="178.3" x2="119.4" y2="180.2" stroke="#111" stroke-width="0.75" />
<text x="119.4" y="187.4" font-size="4" text-anchor="middle" fill="#262626">10<tspan dy="-1.5" font-size="2.8">3</tspan></text>
<line x1="132.6" y1="178.3" x2="132.6" y2="180.2" stroke="#111" stroke-width="0.75" />
<text x="132.6" y="187.4" font-size="4" text-anchor="middle" fill="#262626">10<tspan dy="-1.5" font-size="2.8">4</tspan></text>
<line x1="143.6" y1="178.3" x2="143.6" y2="180.2" stroke="#111" stroke-width="0.75" />
<text x="143.6" y="187.4" font-size="4" text-anchor="middle" fill="#262626">10<tspan dy="-1.5" font-size="2.8">5</tspan></text>
<text x="190.6" y="116.7" font-size="5.18" text-anchor="middle" fill="#262626" textLength="37.62" lengthAdjust="spacingAndGlyphs">CTLA4 deficiency</text>
<text x="190.6" y="122.3" font-size="5.18" text-anchor="middle" fill="#262626" textLength="34.95" lengthAdjust="spacingAndGlyphs">(post-abatacept)</text>
<path d="M176.5,178.2 L178.2,175.5 L179.3,174.2 L180.5,175.5 L182,177.5 L186,178 L191,177.5 L194,174.5 L196,170.8 L198.1,163.7 L199.6,152.4 L200.4,140 L201,133.3 L201.8,139 L202.4,145.4 L203.1,155 L203.8,163.7 L204.5,171 L205.5,178.2 Z" fill="#cbcbd3" stroke="#5a5a5a" stroke-width="0.55" />
<rect x="166" y="127" width="49.3" height="51.3" fill="none" stroke="#222" stroke-width="0.9" />
<path d="M166.0,159.2 L186.4,159.2 M186.4,158.0 L186.4,162.2 M186.4,161.6 L215.3,161.6" fill="none" stroke="#444" stroke-width="0.7" />
<text x="168.6" y="131" font-size="4.32" fill="#262626" textLength="6.89" lengthAdjust="spacingAndGlyphs">T3a</text>
<text x="168.6" y="135.7" font-size="4.32" fill="#262626" textLength="7.79" lengthAdjust="spacingAndGlyphs">5.83</text>
<text x="213.7" y="131" font-size="4.32" text-anchor="end" fill="#262626" textLength="6.89" lengthAdjust="spacingAndGlyphs">T3b</text>
<text x="213.7" y="135.7" font-size="4.32" text-anchor="end" fill="#262626" textLength="7.79" lengthAdjust="spacingAndGlyphs">94.2</text>
<line x1="166" y1="127" x2="166" y2="178.3" stroke="#111" stroke-width="1.25" />
<line x1="164.1" y1="129.8" x2="166" y2="129.8" stroke="#111" stroke-width="0.75" />
<text x="162.2" y="131.3" font-size="4.86" text-anchor="end" fill="#262626" textLength="5.01" lengthAdjust="spacingAndGlyphs">50</text>
<line x1="164.1" y1="139" x2="166" y2="139" stroke="#111" stroke-width="0.75" />
<text x="162.2" y="140.5" font-size="4.86" text-anchor="end" fill="#262626" textLength="5.01" lengthAdjust="spacingAndGlyphs">40</text>
<line x1="164.1" y1="148.9" x2="166" y2="148.9" stroke="#111" stroke-width="0.75" />
<text x="162.2" y="150.4" font-size="4.86" text-anchor="end" fill="#262626" textLength="5.01" lengthAdjust="spacingAndGlyphs">30</text>
<line x1="164.1" y1="158.8" x2="166" y2="158.8" stroke="#111" stroke-width="0.75" />
<text x="162.2" y="160.3" font-size="4.86" text-anchor="end" fill="#262626" textLength="5.01" lengthAdjust="spacingAndGlyphs">20</text>
<line x1="164.1" y1="168.7" x2="166" y2="168.7" stroke="#111" stroke-width="0.75" />
<text x="162.2" y="170.2" font-size="4.86" text-anchor="end" fill="#262626" textLength="5.01" lengthAdjust="spacingAndGlyphs">10</text>
<line x1="164.1" y1="178.2" x2="166" y2="178.2" stroke="#111" stroke-width="0.75" />
<text x="162.2" y="179.7" font-size="4.86" text-anchor="end" fill="#262626" textLength="2.5" lengthAdjust="spacingAndGlyphs">0</text>
<line x1="165" y1="134.4" x2="166" y2="134.4" stroke="#222" stroke-width="0.45" />
<line x1="165" y1="143.95" x2="166" y2="143.95" stroke="#222" stroke-width="0.45" />
<line x1="165" y1="153.85" x2="166" y2="153.85" stroke="#222" stroke-width="0.45" />
<line x1="165" y1="163.75" x2="166" y2="163.75" stroke="#222" stroke-width="0.45" />
<line x1="165" y1="173.45" x2="166" y2="173.45" stroke="#222" stroke-width="0.45" />
<line x1="166" y1="178.3" x2="215.3" y2="178.3" stroke="#111" stroke-width="1.25" />
<line x1="167" y1="178.3" x2="167" y2="179.4" stroke="#222" stroke-width="0.5" />
<line x1="168.3" y1="178.3" x2="168.3" y2="179.4" stroke="#222" stroke-width="0.5" />
<line x1="171.2" y1="178.3" x2="171.2" y2="179.4" stroke="#222" stroke-width="0.5" />
<line x1="172.6" y1="178.3" x2="172.6" y2="179.4" stroke="#222" stroke-width="0.5" />
<line x1="174" y1="178.3" x2="174" y2="179.4" stroke="#222" stroke-width="0.5" />
<line x1="175.6" y1="178.3" x2="175.6" y2="179.4" stroke="#222" stroke-width="0.5" />
<line x1="178.8" y1="178.3" x2="178.8" y2="179.4" stroke="#222" stroke-width="0.5" />
<line x1="180.4" y1="178.3" x2="180.4" y2="179.4" stroke="#222" stroke-width="0.5" />
<line x1="182" y1="178.3" x2="182" y2="179.4" stroke="#222" stroke-width="0.5" />
<line x1="183.6" y1="178.3" x2="183.6" y2="179.4" stroke="#222" stroke-width="0.5" />
<line x1="185" y1="178.3" x2="185" y2="179.4" stroke="#222" stroke-width="0.5" />
<line x1="187.8" y1="178.3" x2="187.8" y2="179.4" stroke="#222" stroke-width="0.5" />
<line x1="189.5" y1="178.3" x2="189.5" y2="179.4" stroke="#222" stroke-width="0.5" />
<line x1="191" y1="178.3" x2="191" y2="179.4" stroke="#222" stroke-width="0.5" />
<line x1="192.5" y1="178.3" x2="192.5" y2="179.4" stroke="#222" stroke-width="0.5" />
<line x1="194" y1="178.3" x2="194" y2="179.4" stroke="#222" stroke-width="0.5" />
<line x1="195.5" y1="178.3" x2="195.5" y2="179.4" stroke="#222" stroke-width="0.5" />
<line x1="197" y1="178.3" x2="197" y2="179.4" stroke="#222" stroke-width="0.5" />
<line x1="198" y1="178.3" x2="198" y2="179.4" stroke="#222" stroke-width="0.5" />
<line x1="201" y1="178.3" x2="201" y2="179.4" stroke="#222" stroke-width="0.5" />
<line x1="202.5" y1="178.3" x2="202.5" y2="179.4" stroke="#222" stroke-width="0.5" />
<line x1="204" y1="178.3" x2="204" y2="179.4" stroke="#222" stroke-width="0.5" />
<line x1="205.5" y1="178.3" x2="205.5" y2="179.4" stroke="#222" stroke-width="0.5" />
<line x1="207" y1="178.3" x2="207" y2="179.4" stroke="#222" stroke-width="0.5" />
<line x1="208.5" y1="178.3" x2="208.5" y2="179.4" stroke="#222" stroke-width="0.5" />
<line x1="209.5" y1="178.3" x2="209.5" y2="179.4" stroke="#222" stroke-width="0.5" />
<line x1="212" y1="178.3" x2="212" y2="179.4" stroke="#222" stroke-width="0.5" />
<line x1="213.5" y1="178.3" x2="213.5" y2="179.4" stroke="#222" stroke-width="0.5" />
<line x1="215" y1="178.3" x2="215" y2="179.4" stroke="#222" stroke-width="0.5" />
<line x1="169.7" y1="178.3" x2="169.7" y2="180.2" stroke="#111" stroke-width="0.75" />
<text x="169.7" y="187.4" font-size="4" text-anchor="middle" fill="#262626">−10<tspan dy="-1.5" font-size="2.8">3</tspan></text>
<rect x="176.3" y="178.3" width="1.8" height="2.2" fill="#111" stroke="none" stroke-width="0.8" />
<text x="177.2" y="187.4" font-size="4" text-anchor="middle" fill="#262626">0</text>
<line x1="186.2" y1="178.3" x2="186.2" y2="180.2" stroke="#111" stroke-width="0.75" />
<text x="186.2" y="187.4" font-size="4" text-anchor="middle" fill="#262626">10<tspan dy="-1.5" font-size="2.8">3</tspan></text>
<line x1="199.4" y1="178.3" x2="199.4" y2="180.2" stroke="#111" stroke-width="0.75" />
<text x="199.4" y="187.4" font-size="4" text-anchor="middle" fill="#262626">10<tspan dy="-1.5" font-size="2.8">4</tspan></text>
<line x1="210.4" y1="178.3" x2="210.4" y2="180.2" stroke="#111" stroke-width="0.75" />
<text x="210.4" y="187.4" font-size="4" text-anchor="middle" fill="#262626">10<tspan dy="-1.5" font-size="2.8">5</tspan></text>
<line x1="16.9" y1="163.8" x2="16.9" y2="194.8" stroke="#2a2a2a" stroke-width="1.2" />
<line x1="16.3" y1="194.2" x2="47" y2="194.2" stroke="#2a2a2a" stroke-width="1.2" />
<path d="M14.899999999999999,164.4 L16.9,160.3 L18.9,164.4 Z" fill="#2a2a2a" stroke="none" stroke-width="0.8" />
<path d="M46.4,192.2 L50.5,194.2 L46.4,196.2 Z" fill="#2a2a2a" stroke="none" stroke-width="0.8" />
<text x="34.3" y="201.6" font-size="6.48" text-anchor="middle" font-weight="bold" fill="#262626" textLength="11.4" lengthAdjust="spacingAndGlyphs">CD73</text>
<text x="12.6" y="177.5" font-size="6.48" text-anchor="middle" font-weight="bold" fill="#262626" textLength="13.5" lengthAdjust="spacingAndGlyphs" transform="rotate(-90 12.6 177.5)">Count</text>
<text x="279.5" y="22.3" font-size="5.18" text-anchor="middle" fill="#262626" textLength="32.02" lengthAdjust="spacingAndGlyphs">Healthy control</text>
<path d="M259.18,41.20 C259.46,39.86 260.23,38.08 261.48,37.17 C262.72,36.27 264.64,36.08 266.65,35.79 C268.66,35.51 271.25,35.45 273.55,35.45 C275.85,35.45 278.57,35.41 280.45,35.79 C282.33,36.18 283.94,36.75 284.82,37.75 C285.70,38.75 285.86,40.24 285.74,41.77 C285.62,43.31 285.01,45.32 284.13,46.95 C283.25,48.58 281.83,50.02 280.45,51.55 C279.07,53.08 277.48,55.38 275.85,56.15 C274.22,56.92 272.21,56.72 270.68,56.15 C269.14,55.58 267.99,53.95 266.65,52.70 C265.31,51.45 263.77,49.92 262.62,48.67 C261.48,47.43 260.32,46.47 259.75,45.23 C259.18,43.98 258.89,42.54 259.18,41.20 Z" fill="none" stroke="#e0e0e0" stroke-width="0.35" />
<path d="M261.50,41.50 C261.75,40.33 262.42,38.78 263.50,38.00 C264.58,37.22 266.25,37.05 268.00,36.80 C269.75,36.55 272.00,36.50 274.00,36.50 C276.00,36.50 278.37,36.47 280.00,36.80 C281.63,37.13 283.03,37.63 283.80,38.50 C284.57,39.37 284.70,40.67 284.60,42.00 C284.50,43.33 283.97,45.08 283.20,46.50 C282.43,47.92 281.20,49.17 280.00,50.50 C278.80,51.83 277.42,53.83 276.00,54.50 C274.58,55.17 272.83,55.00 271.50,54.50 C270.17,54.00 269.17,52.58 268.00,51.50 C266.83,50.42 265.50,49.08 264.50,48.00 C263.50,46.92 262.50,46.08 262.00,45.00 C261.50,43.92 261.25,42.67 261.50,41.50 Z" fill="#f0f0f0" stroke="#cdcdcd" stroke-width="0.4" />
<path d="M264.60,41.90 C264.80,40.97 265.33,39.73 266.20,39.10 C267.07,38.47 268.40,38.34 269.80,38.14 C271.20,37.94 273.00,37.90 274.60,37.90 C276.20,37.90 278.09,37.87 279.40,38.14 C280.71,38.41 281.83,38.81 282.44,39.50 C283.05,40.19 283.16,41.23 283.08,42.30 C283.00,43.37 282.57,44.77 281.96,45.90 C281.35,47.03 280.36,48.03 279.40,49.10 C278.44,50.17 277.33,51.77 276.20,52.30 C275.07,52.83 273.67,52.70 272.60,52.30 C271.53,51.90 270.73,50.77 269.80,49.90 C268.87,49.03 267.80,47.97 267.00,47.10 C266.20,46.23 265.40,45.57 265.00,44.70 C264.60,43.83 264.40,42.83 264.60,41.90 Z" fill="#e0e0e0" stroke="#b6b6b6" stroke-width="0.45" />
<path d="M267.39,42.26 C267.54,41.54 267.96,40.58 268.63,40.09 C269.30,39.60 270.34,39.50 271.42,39.35 C272.50,39.19 273.90,39.16 275.14,39.16 C276.38,39.16 277.85,39.14 278.86,39.35 C279.87,39.55 280.74,39.86 281.22,40.40 C281.69,40.94 281.77,41.74 281.71,42.57 C281.65,43.40 281.32,44.48 280.84,45.36 C280.37,46.24 279.60,47.01 278.86,47.84 C278.12,48.67 277.26,49.91 276.38,50.32 C275.50,50.73 274.42,50.63 273.59,50.32 C272.76,50.01 272.14,49.13 271.42,48.46 C270.70,47.79 269.87,46.96 269.25,46.29 C268.63,45.62 268.01,45.10 267.70,44.43 C267.39,43.76 267.24,42.98 267.39,42.26 Z" fill="#cbcbcb" stroke="#a2a2a2" stroke-width="0.45" />
<path d="M270.18,42.62 C270.29,42.11 270.58,41.42 271.06,41.08 C271.54,40.74 272.27,40.66 273.04,40.55 C273.81,40.44 274.80,40.42 275.68,40.42 C276.56,40.42 277.60,40.41 278.32,40.55 C279.04,40.70 279.65,40.92 279.99,41.30 C280.33,41.68 280.39,42.25 280.34,42.84 C280.30,43.43 280.07,44.20 279.73,44.82 C279.39,45.44 278.85,45.99 278.32,46.58 C277.79,47.17 277.18,48.05 276.56,48.34 C275.94,48.63 275.17,48.56 274.58,48.34 C273.99,48.12 273.55,47.50 273.04,47.02 C272.53,46.54 271.94,45.96 271.50,45.48 C271.06,45.00 270.62,44.64 270.40,44.16 C270.18,43.68 270.07,43.13 270.18,42.62 Z" fill="#b3b3b3" stroke="#929292" stroke-width="0.45" />
<path d="M272.81,42.96 C272.88,42.65 273.06,42.23 273.36,42.02 C273.65,41.80 274.10,41.76 274.57,41.69 C275.04,41.62 275.65,41.61 276.19,41.61 C276.73,41.61 277.37,41.60 277.81,41.69 C278.25,41.78 278.63,41.92 278.84,42.15 C279.04,42.38 279.08,42.73 279.05,43.09 C279.03,43.45 278.88,43.93 278.67,44.31 C278.47,44.69 278.13,45.03 277.81,45.39 C277.49,45.75 277.11,46.29 276.73,46.47 C276.35,46.65 275.88,46.60 275.51,46.47 C275.15,46.34 274.88,45.95 274.57,45.66 C274.25,45.37 273.89,45.01 273.62,44.72 C273.36,44.42 273.08,44.20 272.95,43.91 C272.81,43.61 272.75,43.27 272.81,42.96 Z" fill="#9c9c9c" stroke="none" stroke-width="0" />
<ellipse cx="277.5" cy="43.2" rx="2.2" ry="0.8" fill="#fff" fill-opacity="0.85"/>
<rect x="254.1" y="25.7" width="50.8" height="54.6" fill="none" stroke="#222" stroke-width="0.9" />
<rect x="269.4" y="56.4" width="34.6" height="23.9" fill="none" stroke="#333" stroke-width="0.7" />
<text x="286.15" y="73.6" font-size="4.64" text-anchor="middle" fill="#262626" textLength="36.5" lengthAdjust="spacingAndGlyphs">CD21lo/_CD11c(hi)</text>
<text x="286.15" y="77.7" font-size="4.64" text-anchor="middle" fill="#262626" textLength="8.37" lengthAdjust="spacingAndGlyphs">4.18</text>
<line x1="254.1" y1="25.7" x2="254.1" y2="80.3" stroke="#111" stroke-width="1.25" />
<line x1="253" y1="28" x2="254.1" y2="28" stroke="#222" stroke-width="0.5" />
<line x1="253" y1="29" x2="254.1" y2="29" stroke="#222" stroke-width="0.5" />
<line x1="253" y1="32" x2="254.1" y2="32" stroke="#222" stroke-width="0.5" />
<line x1="253" y1="34" x2="254.1" y2="34" stroke="#222" stroke-width="0.5" />
<line x1="253" y1="36" x2="254.1" y2="36" stroke="#222" stroke-width="0.5" />
<line x1="253" y1="38" x2="254.1" y2="38" stroke="#222" stroke-width="0.5" />
<line x1="253" y1="43" x2="254.1" y2="43" stroke="#222" stroke-width="0.5" />
<line x1="253" y1="45" x2="254.1" y2="45" stroke="#222" stroke-width="0.5" />
<line x1="253" y1="47" x2="254.1" y2="47" stroke="#222" stroke-width="0.5" />
<line x1="253" y1="49" x2="254.1" y2="49" stroke="#222" stroke-width="0.5" />
<line x1="253" y1="51" x2="254.1" y2="51" stroke="#222" stroke-width="0.5" />
<line x1="253" y1="55" x2="254.1" y2="55" stroke="#222" stroke-width="0.5" />
<line x1="253" y1="57" x2="254.1" y2="57" stroke="#222" stroke-width="0.5" />
<line x1="253" y1="58.5" x2="254.1" y2="58.5" stroke="#222" stroke-width="0.5" />
<line x1="253" y1="62.5" x2="254.1" y2="62.5" stroke="#222" stroke-width="0.5" />
<line x1="253" y1="64.5" x2="254.1" y2="64.5" stroke="#222" stroke-width="0.5" />
<line x1="253" y1="69" x2="254.1" y2="69" stroke="#222" stroke-width="0.5" />
<line x1="253" y1="71" x2="254.1" y2="71" stroke="#222" stroke-width="0.5" />
<line x1="253" y1="73" x2="254.1" y2="73" stroke="#222" stroke-width="0.5" />
<line x1="253" y1="75" x2="254.1" y2="75" stroke="#222" stroke-width="0.5" />
<line x1="253" y1="77" x2="254.1" y2="77" stroke="#222" stroke-width="0.5" />
<line x1="252.2" y1="30.3" x2="254.1" y2="30.3" stroke="#111" stroke-width="0.75" />
<text x="250.5" y="31.7" font-size="4.1" text-anchor="end" fill="#262626">10<tspan dy="-1.5" font-size="2.8">5</tspan></text>
<line x1="252.2" y1="40.9" x2="254.1" y2="40.9" stroke="#111" stroke-width="0.75" />
<text x="250.5" y="42.3" font-size="4.1" text-anchor="end" fill="#262626">10<tspan dy="-1.5" font-size="2.8">4</tspan></text>
<line x1="252.2" y1="52.9" x2="254.1" y2="52.9" stroke="#111" stroke-width="0.75" />
<text x="250.5" y="54.3" font-size="4.1" text-anchor="end" fill="#262626">10<tspan dy="-1.5" font-size="2.8">3</tspan></text>
<rect x="251.9" y="59.6" width="2.2" height="1.8" fill="#111" stroke="none" stroke-width="0.8" />
<text x="250.5" y="61.9" font-size="4.1" text-anchor="end" fill="#262626">0</text>
<line x1="252.2" y1="67.3" x2="254.1" y2="67.3" stroke="#111" stroke-width="0.75" />
<text x="250.5" y="68.7" font-size="4.1" text-anchor="end" fill="#262626">−10<tspan dy="-1.5" font-size="2.8">3</tspan></text>
<line x1="252.2" y1="79.4" x2="254.1" y2="79.4" stroke="#111" stroke-width="0.75" />
<text x="250.5" y="80.8" font-size="4.1" text-anchor="end" fill="#262626">−10<tspan dy="-1.5" font-size="2.8">4</tspan></text>
<line x1="254.1" y1="80.3" x2="304.9" y2="80.3" stroke="#111" stroke-width="1.25" />
<line x1="255.6" y1="80.3" x2="255.6" y2="81.4" stroke="#222" stroke-width="0.5" />
<line x1="257.1" y1="80.3" x2="257.1" y2="81.4" stroke="#222" stroke-width="0.5" />
<line x1="258.6" y1="80.3" x2="258.6" y2="81.4" stroke="#222" stroke-width="0.5" />
<line x1="260.1" y1="80.3" x2="260.1" y2="81.4" stroke="#222" stroke-width="0.5" />
<line x1="262.1" y1="80.3" x2="262.1" y2="81.4" stroke="#222" stroke-width="0.5" />
<line x1="264.1" y1="80.3" x2="264.1" y2="81.4" stroke="#222" stroke-width="0.5" />
<line x1="266.1" y1="80.3" x2="266.1" y2="81.4" stroke="#222" stroke-width="0.5" />
<line x1="268.1" y1="80.3" x2="268.1" y2="81.4" stroke="#222" stroke-width="0.5" />
<line x1="272.1" y1="80.3" x2="272.1" y2="81.4" stroke="#222" stroke-width="0.5" />
<line x1="274.1" y1="80.3" x2="274.1" y2="81.4" stroke="#222" stroke-width="0.5" />
<line x1="276.1" y1="80.3" x2="276.1" y2="81.4" stroke="#222" stroke-width="0.5" />
<line x1="278.1" y1="80.3" x2="278.1" y2="81.4" stroke="#222" stroke-width="0.5" />
<line x1="280.1" y1="80.3" x2="280.1" y2="81.4" stroke="#222" stroke-width="0.5" />
<line x1="282.1" y1="80.3" x2="282.1" y2="81.4" stroke="#222" stroke-width="0.5" />
<line x1="284.1" y1="80.3" x2="284.1" y2="81.4" stroke="#222" stroke-width="0.5" />
<line x1="286.1" y1="80.3" x2="286.1" y2="81.4" stroke="#222" stroke-width="0.5" />
<line x1="288.1" y1="80.3" x2="288.1" y2="81.4" stroke="#222" stroke-width="0.5" />
<line x1="292.1" y1="80.3" x2="292.1" y2="81.4" stroke="#222" stroke-width="0.5" />
<line x1="294.1" y1="80.3" x2="294.1" y2="81.4" stroke="#222" stroke-width="0.5" />
<line x1="296.1" y1="80.3" x2="296.1" y2="81.4" stroke="#222" stroke-width="0.5" />
<line x1="298.1" y1="80.3" x2="298.1" y2="81.4" stroke="#222" stroke-width="0.5" />
<line x1="302.1" y1="80.3" x2="302.1" y2="81.4" stroke="#222" stroke-width="0.5" />
<line x1="303.6" y1="80.3" x2="303.6" y2="81.4" stroke="#222" stroke-width="0.5" />
<rect x="269.4" y="80.3" width="1.8" height="2.2" fill="#111" stroke="none" stroke-width="0.8" />
<text x="270.3" y="88.8" font-size="4" text-anchor="middle" fill="#262626">0</text>
<line x1="290.2" y1="80.3" x2="290.2" y2="82.2" stroke="#111" stroke-width="0.75" />
<text x="290.2" y="88.8" font-size="4" text-anchor="middle" fill="#262626">10<tspan dy="-1.5" font-size="2.8">4</tspan></text>
<line x1="300.3" y1="80.3" x2="300.3" y2="82.2" stroke="#111" stroke-width="0.75" />
<text x="300.3" y="88.8" font-size="4" text-anchor="middle" fill="#262626">10<tspan dy="-1.5" font-size="2.8">5</tspan></text>
<text x="346.9" y="15.7" font-size="5.18" text-anchor="middle" fill="#262626" textLength="37.62" lengthAdjust="spacingAndGlyphs">CTLA4 deficiency</text>
<text x="346.9" y="21.7" font-size="5.18" text-anchor="middle" fill="#262626" textLength="32.82" lengthAdjust="spacingAndGlyphs">(pre-abatacept)</text>
<path d="M326.83,40.70 C326.73,39.45 327.60,37.54 328.90,36.67 C330.20,35.81 332.35,35.75 334.65,35.52 C336.95,35.30 340.11,35.20 342.70,35.29 C345.29,35.39 348.55,35.30 350.18,36.10 C351.80,36.91 352.19,38.59 352.48,40.12 C352.76,41.66 352.38,43.57 351.90,45.30 C351.42,47.02 350.37,49.13 349.60,50.48 C348.83,51.82 348.45,53.16 347.30,53.35 C346.15,53.54 344.62,52.58 342.70,51.62 C340.78,50.67 338.00,48.85 335.80,47.60 C333.60,46.35 330.97,45.30 329.48,44.15 C327.98,43.00 326.93,41.95 326.83,40.70 Z" fill="none" stroke="#d4d4d4" stroke-width="0.35" />
<path d="M329.20,41.00 C329.12,39.92 329.87,38.25 331.00,37.50 C332.13,36.75 334.00,36.70 336.00,36.50 C338.00,36.30 340.75,36.22 343.00,36.30 C345.25,36.38 348.08,36.30 349.50,37.00 C350.92,37.70 351.25,39.17 351.50,40.50 C351.75,41.83 351.42,43.50 351.00,45.00 C350.58,46.50 349.67,48.33 349.00,49.50 C348.33,50.67 348.00,51.83 347.00,52.00 C346.00,52.17 344.67,51.33 343.00,50.50 C341.33,49.67 338.92,48.08 337.00,47.00 C335.08,45.92 332.80,45.00 331.50,44.00 C330.20,43.00 329.28,42.08 329.20,41.00 Z" fill="#e4e4e4" stroke="#8a8a8a" stroke-width="0.6" />
<path d="M332.68,41.44 C332.61,40.59 333.20,39.30 334.08,38.71 C334.96,38.12 336.42,38.09 337.98,37.93 C339.54,37.77 341.69,37.71 343.44,37.77 C345.19,37.84 347.40,37.77 348.51,38.32 C349.62,38.87 349.88,40.01 350.07,41.05 C350.26,42.09 350.00,43.39 349.68,44.56 C349.36,45.73 348.64,47.16 348.12,48.07 C347.60,48.98 347.34,49.89 346.56,50.02 C345.78,50.15 344.74,49.50 343.44,48.85 C342.14,48.20 340.25,46.96 338.76,46.12 C337.26,45.27 335.48,44.56 334.47,43.78 C333.46,43.00 332.74,42.28 332.68,41.44 Z" fill="#d0d0d0" stroke="#a0a0a0" stroke-width="0.45" />
<path d="M336.31,41.90 C336.26,41.30 336.68,40.39 337.30,39.98 C337.92,39.56 338.95,39.53 340.05,39.42 C341.15,39.31 342.66,39.27 343.90,39.31 C345.14,39.36 346.70,39.32 347.48,39.70 C348.25,40.09 348.44,40.89 348.57,41.62 C348.71,42.36 348.53,43.27 348.30,44.10 C348.07,44.93 347.57,45.93 347.20,46.58 C346.83,47.22 346.65,47.86 346.10,47.95 C345.55,48.04 344.82,47.58 343.90,47.12 C342.98,46.67 341.65,45.80 340.60,45.20 C339.55,44.60 338.29,44.10 337.57,43.55 C336.86,43.00 336.36,42.50 336.31,41.90 Z" fill="#c0c0c0" stroke="#9a9a9a" stroke-width="0.45" />
<path d="M339.79,42.34 C339.76,41.98 340.01,41.43 340.38,41.19 C340.75,40.94 341.37,40.92 342.03,40.85 C342.69,40.79 343.60,40.76 344.34,40.79 C345.08,40.82 346.02,40.79 346.49,41.02 C346.95,41.25 347.06,41.73 347.14,42.17 C347.23,42.61 347.12,43.16 346.98,43.66 C346.84,44.16 346.54,44.76 346.32,45.15 C346.10,45.53 345.99,45.91 345.66,45.97 C345.33,46.02 344.89,45.75 344.34,45.48 C343.79,45.20 342.99,44.68 342.36,44.32 C341.73,43.96 340.97,43.66 340.55,43.33 C340.12,43.00 339.81,42.70 339.79,42.34 Z" fill="#a8a8a8" stroke="none" stroke-width="0" />
<ellipse cx="345.5" cy="43.0" rx="1.6" ry="1.0" fill="#fff" fill-opacity="0.85"/>
<path d="M359.46,68.82 C359.18,69.28 358.39,69.50 357.38,69.41 C356.38,69.33 354.87,68.91 353.41,68.31 C351.95,67.71 350.13,66.77 348.60,65.81 C347.08,64.86 345.43,63.64 344.25,62.59 C343.07,61.54 342.04,60.37 341.52,59.50 C341.00,58.63 340.86,57.83 341.14,57.38 C341.42,56.92 342.21,56.70 343.22,56.79 C344.22,56.87 345.73,57.29 347.19,57.89 C348.65,58.49 350.47,59.43 352.00,60.39 C353.52,61.34 355.17,62.56 356.35,63.61 C357.53,64.66 358.56,65.83 359.08,66.70 C359.60,67.57 359.74,68.37 359.46,68.82 Z" fill="#ececec" stroke="#b4b4b4" stroke-width="0.45" />
<path d="M356.92,67.20 C356.72,67.51 356.17,67.67 355.47,67.61 C354.76,67.55 353.71,67.26 352.69,66.84 C351.66,66.42 350.39,65.76 349.32,65.09 C348.25,64.42 347.10,63.57 346.28,62.83 C345.45,62.10 344.73,61.28 344.36,60.67 C344.00,60.06 343.90,59.50 344.10,59.18 C344.30,58.87 344.85,58.71 345.55,58.77 C346.26,58.83 347.31,59.12 348.33,59.54 C349.36,59.96 350.63,60.62 351.70,61.29 C352.77,61.96 353.92,62.81 354.74,63.55 C355.57,64.28 356.29,65.10 356.66,65.71 C357.02,66.32 357.12,66.88 356.92,67.20 Z" fill="#dadada" stroke="#a0a0a0" stroke-width="0.45" />
<path d="M354.38,65.57 C354.27,65.75 353.96,65.84 353.55,65.81 C353.15,65.77 352.55,65.60 351.96,65.36 C351.38,65.12 350.65,64.75 350.04,64.37 C349.43,63.98 348.77,63.50 348.30,63.08 C347.83,62.65 347.42,62.19 347.21,61.84 C347.00,61.49 346.94,61.17 347.06,60.99 C347.17,60.81 347.48,60.72 347.89,60.75 C348.29,60.79 348.89,60.96 349.48,61.20 C350.06,61.44 350.79,61.81 351.40,62.19 C352.01,62.58 352.67,63.06 353.14,63.48 C353.61,63.91 354.02,64.37 354.23,64.72 C354.44,65.07 354.50,65.39 354.38,65.57 Z" fill="#f4f4f4" stroke="none" stroke-width="0" />
<rect x="321.5" y="25.7" width="50.8" height="54.6" fill="none" stroke="#222" stroke-width="0.9" />
<rect x="336.3" y="56.4" width="35.1" height="23.9" fill="none" stroke="#333" stroke-width="0.7" />
<text x="353.3" y="73.6" font-size="4.64" text-anchor="middle" fill="#262626" textLength="36.5" lengthAdjust="spacingAndGlyphs">CD21lo/_CD11c(hi)</text>
<text x="353.3" y="77.7" font-size="4.64" text-anchor="middle" fill="#262626" textLength="8.37" lengthAdjust="spacingAndGlyphs">17.4</text>
<line x1="321.5" y1="25.7" x2="321.5" y2="80.3" stroke="#111" stroke-width="1.25" />
<line x1="320.4" y1="28" x2="321.5" y2="28" stroke="#222" stroke-width="0.5" />
<line x1="320.4" y1="29" x2="321.5" y2="29" stroke="#222" stroke-width="0.5" />
<line x1="320.4" y1="32" x2="321.5" y2="32" stroke="#222" stroke-width="0.5" />
<line x1="320.4" y1="34" x2="321.5" y2="34" stroke="#222" stroke-width="0.5" />
<line x1="320.4" y1="36" x2="321.5" y2="36" stroke="#222" stroke-width="0.5" />
<line x1="320.4" y1="38" x2="321.5" y2="38" stroke="#222" stroke-width="0.5" />
<line x1="320.4" y1="43" x2="321.5" y2="43" stroke="#222" stroke-width="0.5" />
<line x1="320.4" y1="45" x2="321.5" y2="45" stroke="#222" stroke-width="0.5" />
<line x1="320.4" y1="47" x2="321.5" y2="47" stroke="#222" stroke-width="0.5" />
<line x1="320.4" y1="49" x2="321.5" y2="49" stroke="#222" stroke-width="0.5" />
<line x1="320.4" y1="51" x2="321.5" y2="51" stroke="#222" stroke-width="0.5" />
<line x1="320.4" y1="55" x2="321.5" y2="55" stroke="#222" stroke-width="0.5" />
<line x1="320.4" y1="57" x2="321.5" y2="57" stroke="#222" stroke-width="0.5" />
<line x1="320.4" y1="58.5" x2="321.5" y2="58.5" stroke="#222" stroke-width="0.5" />
<line x1="320.4" y1="62.5" x2="321.5" y2="62.5" stroke="#222" stroke-width="0.5" />
<line x1="320.4" y1="64.5" x2="321.5" y2="64.5" stroke="#222" stroke-width="0.5" />
<line x1="320.4" y1="69" x2="321.5" y2="69" stroke="#222" stroke-width="0.5" />
<line x1="320.4" y1="71" x2="321.5" y2="71" stroke="#222" stroke-width="0.5" />
<line x1="320.4" y1="73" x2="321.5" y2="73" stroke="#222" stroke-width="0.5" />
<line x1="320.4" y1="75" x2="321.5" y2="75" stroke="#222" stroke-width="0.5" />
<line x1="320.4" y1="77" x2="321.5" y2="77" stroke="#222" stroke-width="0.5" />
<line x1="319.6" y1="30.3" x2="321.5" y2="30.3" stroke="#111" stroke-width="0.75" />
<text x="317.9" y="31.7" font-size="4.1" text-anchor="end" fill="#262626">10<tspan dy="-1.5" font-size="2.8">5</tspan></text>
<line x1="319.6" y1="40.9" x2="321.5" y2="40.9" stroke="#111" stroke-width="0.75" />
<text x="317.9" y="42.3" font-size="4.1" text-anchor="end" fill="#262626">10<tspan dy="-1.5" font-size="2.8">4</tspan></text>
<line x1="319.6" y1="52.9" x2="321.5" y2="52.9" stroke="#111" stroke-width="0.75" />
<text x="317.9" y="54.3" font-size="4.1" text-anchor="end" fill="#262626">10<tspan dy="-1.5" font-size="2.8">3</tspan></text>
<rect x="319.3" y="59.6" width="2.2" height="1.8" fill="#111" stroke="none" stroke-width="0.8" />
<text x="317.9" y="61.9" font-size="4.1" text-anchor="end" fill="#262626">0</text>
<line x1="319.6" y1="67.3" x2="321.5" y2="67.3" stroke="#111" stroke-width="0.75" />
<text x="317.9" y="68.7" font-size="4.1" text-anchor="end" fill="#262626">−10<tspan dy="-1.5" font-size="2.8">3</tspan></text>
<line x1="319.6" y1="79.4" x2="321.5" y2="79.4" stroke="#111" stroke-width="0.75" />
<text x="317.9" y="80.8" font-size="4.1" text-anchor="end" fill="#262626">−10<tspan dy="-1.5" font-size="2.8">4</tspan></text>
<line x1="321.5" y1="80.3" x2="372.3" y2="80.3" stroke="#111" stroke-width="1.25" />
<line x1="323" y1="80.3" x2="323" y2="81.4" stroke="#222" stroke-width="0.5" />
<line x1="324.5" y1="80.3" x2="324.5" y2="81.4" stroke="#222" stroke-width="0.5" />
<line x1="326" y1="80.3" x2="326" y2="81.4" stroke="#222" stroke-width="0.5" />
<line x1="327.5" y1="80.3" x2="327.5" y2="81.4" stroke="#222" stroke-width="0.5" />
<line x1="329.5" y1="80.3" x2="329.5" y2="81.4" stroke="#222" stroke-width="0.5" />
<line x1="331.5" y1="80.3" x2="331.5" y2="81.4" stroke="#222" stroke-width="0.5" />
<line x1="333.5" y1="80.3" x2="333.5" y2="81.4" stroke="#222" stroke-width="0.5" />
<line x1="335.5" y1="80.3" x2="335.5" y2="81.4" stroke="#222" stroke-width="0.5" />
<line x1="339.5" y1="80.3" x2="339.5" y2="81.4" stroke="#222" stroke-width="0.5" />
<line x1="341.5" y1="80.3" x2="341.5" y2="81.4" stroke="#222" stroke-width="0.5" />
<line x1="343.5" y1="80.3" x2="343.5" y2="81.4" stroke="#222" stroke-width="0.5" />
<line x1="345.5" y1="80.3" x2="345.5" y2="81.4" stroke="#222" stroke-width="0.5" />
<line x1="347.5" y1="80.3" x2="347.5" y2="81.4" stroke="#222" stroke-width="0.5" />
<line x1="349.5" y1="80.3" x2="349.5" y2="81.4" stroke="#222" stroke-width="0.5" />
<line x1="351.5" y1="80.3" x2="351.5" y2="81.4" stroke="#222" stroke-width="0.5" />
<line x1="353.5" y1="80.3" x2="353.5" y2="81.4" stroke="#222" stroke-width="0.5" />
<line x1="355.5" y1="80.3" x2="355.5" y2="81.4" stroke="#222" stroke-width="0.5" />
<line x1="359.5" y1="80.3" x2="359.5" y2="81.4" stroke="#222" stroke-width="0.5" />
<line x1="361.5" y1="80.3" x2="361.5" y2="81.4" stroke="#222" stroke-width="0.5" />
<line x1="363.5" y1="80.3" x2="363.5" y2="81.4" stroke="#222" stroke-width="0.5" />
<line x1="365.5" y1="80.3" x2="365.5" y2="81.4" stroke="#222" stroke-width="0.5" />
<line x1="369.5" y1="80.3" x2="369.5" y2="81.4" stroke="#222" stroke-width="0.5" />
<line x1="371" y1="80.3" x2="371" y2="81.4" stroke="#222" stroke-width="0.5" />
<rect x="336.8" y="80.3" width="1.8" height="2.2" fill="#111" stroke="none" stroke-width="0.8" />
<text x="337.7" y="88.8" font-size="4" text-anchor="middle" fill="#262626">0</text>
<line x1="357.6" y1="80.3" x2="357.6" y2="82.2" stroke="#111" stroke-width="0.75" />
<text x="357.6" y="88.8" font-size="4" text-anchor="middle" fill="#262626">10<tspan dy="-1.5" font-size="2.8">4</tspan></text>
<line x1="367.7" y1="80.3" x2="367.7" y2="82.2" stroke="#111" stroke-width="0.75" />
<text x="367.7" y="88.8" font-size="4" text-anchor="middle" fill="#262626">10<tspan dy="-1.5" font-size="2.8">5</tspan></text>
<text x="414.5" y="15.7" font-size="5.18" text-anchor="middle" fill="#262626" textLength="37.62" lengthAdjust="spacingAndGlyphs">CTLA4 deficiency</text>
<text x="414.5" y="21.7" font-size="5.18" text-anchor="middle" fill="#262626" textLength="34.95" lengthAdjust="spacingAndGlyphs">(post-abatacept)</text>
<path d="M395.06,44.00 C395.15,42.47 395.82,40.11 397.12,38.83 C398.43,37.54 400.77,36.77 402.88,36.29 C404.98,35.82 407.47,35.91 409.77,35.95 C412.07,35.99 414.85,35.85 416.68,36.52 C418.50,37.20 419.88,38.63 420.70,39.98 C421.52,41.32 421.81,43.04 421.62,44.58 C421.43,46.11 420.76,47.83 419.55,49.17 C418.34,50.52 416.39,51.95 414.38,52.62 C412.36,53.30 409.78,53.49 407.48,53.20 C405.18,52.91 402.40,51.76 400.57,50.90 C398.75,50.04 397.47,49.17 396.55,48.02 C395.63,46.88 394.96,45.53 395.06,44.00 Z" fill="none" stroke="#e0e0e0" stroke-width="0.35" />
<path d="M397.20,44.00 C397.28,42.67 397.87,40.62 399.00,39.50 C400.13,38.38 402.17,37.72 404.00,37.30 C405.83,36.88 408.00,36.97 410.00,37.00 C412.00,37.03 414.42,36.92 416.00,37.50 C417.58,38.08 418.78,39.33 419.50,40.50 C420.22,41.67 420.47,43.17 420.30,44.50 C420.13,45.83 419.55,47.33 418.50,48.50 C417.45,49.67 415.75,50.92 414.00,51.50 C412.25,52.08 410.00,52.25 408.00,52.00 C406.00,51.75 403.58,50.75 402.00,50.00 C400.42,49.25 399.30,48.50 398.50,47.50 C397.70,46.50 397.12,45.33 397.20,44.00 Z" fill="#f0f0f0" stroke="#cdcdcd" stroke-width="0.4" />
<path d="M400.06,44.00 C400.13,42.93 400.59,41.29 401.50,40.40 C402.41,39.51 404.03,38.97 405.50,38.64 C406.97,38.31 408.70,38.37 410.30,38.40 C411.90,38.43 413.83,38.33 415.10,38.80 C416.37,39.27 417.33,40.27 417.90,41.20 C418.47,42.13 418.67,43.33 418.54,44.40 C418.41,45.47 417.94,46.67 417.10,47.60 C416.26,48.53 414.90,49.53 413.50,50.00 C412.10,50.47 410.30,50.60 408.70,50.40 C407.10,50.20 405.17,49.40 403.90,48.80 C402.63,48.20 401.74,47.60 401.10,46.80 C400.46,46.00 399.99,45.07 400.06,44.00 Z" fill="#e0e0e0" stroke="#b6b6b6" stroke-width="0.45" />
<path d="M402.63,44.00 C402.69,43.17 403.05,41.90 403.75,41.21 C404.45,40.52 405.71,40.10 406.85,39.85 C407.99,39.59 409.33,39.64 410.57,39.66 C411.81,39.68 413.31,39.61 414.29,39.97 C415.27,40.33 416.02,41.11 416.46,41.83 C416.90,42.55 417.06,43.48 416.96,44.31 C416.85,45.14 416.49,46.07 415.84,46.79 C415.19,47.51 414.13,48.29 413.05,48.65 C411.97,49.01 410.57,49.12 409.33,48.96 C408.09,48.80 406.59,48.19 405.61,47.72 C404.63,47.25 403.94,46.79 403.44,46.17 C402.94,45.55 402.58,44.83 402.63,44.00 Z" fill="#cbcbcb" stroke="#a2a2a2" stroke-width="0.45" />
<path d="M405.21,44.00 C405.24,43.41 405.50,42.51 406.00,42.02 C406.50,41.53 407.39,41.24 408.20,41.05 C409.01,40.87 409.96,40.91 410.84,40.92 C411.72,40.93 412.78,40.88 413.48,41.14 C414.18,41.40 414.70,41.95 415.02,42.46 C415.34,42.97 415.45,43.63 415.37,44.22 C415.30,44.81 415.04,45.47 414.58,45.98 C414.12,46.49 413.37,47.04 412.60,47.30 C411.83,47.56 410.84,47.63 409.96,47.52 C409.08,47.41 408.02,46.97 407.32,46.64 C406.62,46.31 406.13,45.98 405.78,45.54 C405.43,45.10 405.17,44.59 405.21,44.00 Z" fill="#b3b3b3" stroke="#929292" stroke-width="0.45" />
<path d="M407.64,44.00 C407.66,43.64 407.82,43.09 408.12,42.78 C408.43,42.48 408.98,42.30 409.48,42.19 C409.97,42.08 410.56,42.10 411.10,42.11 C411.63,42.12 412.29,42.09 412.71,42.24 C413.14,42.40 413.47,42.74 413.66,43.05 C413.85,43.37 413.92,43.77 413.88,44.13 C413.83,44.49 413.67,44.90 413.39,45.22 C413.11,45.53 412.65,45.87 412.18,46.02 C411.70,46.18 411.10,46.23 410.56,46.16 C410.01,46.09 409.36,45.82 408.94,45.62 C408.51,45.42 408.21,45.22 407.99,44.95 C407.77,44.67 407.62,44.36 407.64,44.00 Z" fill="#9c9c9c" stroke="none" stroke-width="0" />
<ellipse cx="411.7" cy="43.8" rx="1.8" ry="0.8" fill="#fff" fill-opacity="0.85"/>
<circle cx="416.8" cy="62.3" r="1.9" fill="none" stroke="#cfcfcf" stroke-width="0.45"/>
<rect x="389.1" y="25.7" width="50.8" height="54.6" fill="none" stroke="#222" stroke-width="0.9" />
<rect x="403.6" y="56.4" width="35.4" height="23.9" fill="none" stroke="#333" stroke-width="0.7" />
<text x="420.75" y="73.6" font-size="4.64" text-anchor="middle" fill="#262626" textLength="36.5" lengthAdjust="spacingAndGlyphs">CD21lo/_CD11c(hi)</text>
<text x="420.75" y="77.7" font-size="4.64" text-anchor="middle" fill="#262626" textLength="8.37" lengthAdjust="spacingAndGlyphs">8.99</text>
<line x1="389.1" y1="25.7" x2="389.1" y2="80.3" stroke="#111" stroke-width="1.25" />
<line x1="388" y1="28" x2="389.1" y2="28" stroke="#222" stroke-width="0.5" />
<line x1="388" y1="29" x2="389.1" y2="29" stroke="#222" stroke-width="0.5" />
<line x1="388" y1="32" x2="389.1" y2="32" stroke="#222" stroke-width="0.5" />
<line x1="388" y1="34" x2="389.1" y2="34" stroke="#222" stroke-width="0.5" />
<line x1="388" y1="36" x2="389.1" y2="36" stroke="#222" stroke-width="0.5" />
<line x1="388" y1="38" x2="389.1" y2="38" stroke="#222" stroke-width="0.5" />
<line x1="388" y1="43" x2="389.1" y2="43" stroke="#222" stroke-width="0.5" />
<line x1="388" y1="45" x2="389.1" y2="45" stroke="#222" stroke-width="0.5" />
<line x1="388" y1="47" x2="389.1" y2="47" stroke="#222" stroke-width="0.5" />
<line x1="388" y1="49" x2="389.1" y2="49" stroke="#222" stroke-width="0.5" />
<line x1="388" y1="51" x2="389.1" y2="51" stroke="#222" stroke-width="0.5" />
<line x1="388" y1="55" x2="389.1" y2="55" stroke="#222" stroke-width="0.5" />
<line x1="388" y1="57" x2="389.1" y2="57" stroke="#222" stroke-width="0.5" />
<line x1="388" y1="58.5" x2="389.1" y2="58.5" stroke="#222" stroke-width="0.5" />
<line x1="388" y1="62.5" x2="389.1" y2="62.5" stroke="#222" stroke-width="0.5" />
<line x1="388" y1="64.5" x2="389.1" y2="64.5" stroke="#222" stroke-width="0.5" />
<line x1="388" y1="69" x2="389.1" y2="69" stroke="#222" stroke-width="0.5" />
<line x1="388" y1="71" x2="389.1" y2="71" stroke="#222" stroke-width="0.5" />
<line x1="388" y1="73" x2="389.1" y2="73" stroke="#222" stroke-width="0.5" />
<line x1="388" y1="75" x2="389.1" y2="75" stroke="#222" stroke-width="0.5" />
<line x1="388" y1="77" x2="389.1" y2="77" stroke="#222" stroke-width="0.5" />
<line x1="387.2" y1="30.3" x2="389.1" y2="30.3" stroke="#111" stroke-width="0.75" />
<text x="385.5" y="31.7" font-size="4.1" text-anchor="end" fill="#262626">10<tspan dy="-1.5" font-size="2.8">5</tspan></text>
<line x1="387.2" y1="40.9" x2="389.1" y2="40.9" stroke="#111" stroke-width="0.75" />
<text x="385.5" y="42.3" font-size="4.1" text-anchor="end" fill="#262626">10<tspan dy="-1.5" font-size="2.8">4</tspan></text>
<line x1="387.2" y1="52.9" x2="389.1" y2="52.9" stroke="#111" stroke-width="0.75" />
<text x="385.5" y="54.3" font-size="4.1" text-anchor="end" fill="#262626">10<tspan dy="-1.5" font-size="2.8">3</tspan></text>
<rect x="386.9" y="59.6" width="2.2" height="1.8" fill="#111" stroke="none" stroke-width="0.8" />
<text x="385.5" y="61.9" font-size="4.1" text-anchor="end" fill="#262626">0</text>
<line x1="387.2" y1="67.3" x2="389.1" y2="67.3" stroke="#111" stroke-width="0.75" />
<text x="385.5" y="68.7" font-size="4.1" text-anchor="end" fill="#262626">−10<tspan dy="-1.5" font-size="2.8">3</tspan></text>
<line x1="387.2" y1="79.4" x2="389.1" y2="79.4" stroke="#111" stroke-width="0.75" />
<text x="385.5" y="80.8" font-size="4.1" text-anchor="end" fill="#262626">−10<tspan dy="-1.5" font-size="2.8">4</tspan></text>
<line x1="389.1" y1="80.3" x2="439.9" y2="80.3" stroke="#111" stroke-width="1.25" />
<line x1="390.6" y1="80.3" x2="390.6" y2="81.4" stroke="#222" stroke-width="0.5" />
<line x1="392.1" y1="80.3" x2="392.1" y2="81.4" stroke="#222" stroke-width="0.5" />
<line x1="393.6" y1="80.3" x2="393.6" y2="81.4" stroke="#222" stroke-width="0.5" />
<line x1="395.1" y1="80.3" x2="395.1" y2="81.4" stroke="#222" stroke-width="0.5" />
<line x1="397.1" y1="80.3" x2="397.1" y2="81.4" stroke="#222" stroke-width="0.5" />
<line x1="399.1" y1="80.3" x2="399.1" y2="81.4" stroke="#222" stroke-width="0.5" />
<line x1="401.1" y1="80.3" x2="401.1" y2="81.4" stroke="#222" stroke-width="0.5" />
<line x1="403.1" y1="80.3" x2="403.1" y2="81.4" stroke="#222" stroke-width="0.5" />
<line x1="407.1" y1="80.3" x2="407.1" y2="81.4" stroke="#222" stroke-width="0.5" />
<line x1="409.1" y1="80.3" x2="409.1" y2="81.4" stroke="#222" stroke-width="0.5" />
<line x1="411.1" y1="80.3" x2="411.1" y2="81.4" stroke="#222" stroke-width="0.5" />
<line x1="413.1" y1="80.3" x2="413.1" y2="81.4" stroke="#222" stroke-width="0.5" />
<line x1="415.1" y1="80.3" x2="415.1" y2="81.4" stroke="#222" stroke-width="0.5" />
<line x1="417.1" y1="80.3" x2="417.1" y2="81.4" stroke="#222" stroke-width="0.5" />
<line x1="419.1" y1="80.3" x2="419.1" y2="81.4" stroke="#222" stroke-width="0.5" />
<line x1="421.1" y1="80.3" x2="421.1" y2="81.4" stroke="#222" stroke-width="0.5" />
<line x1="423.1" y1="80.3" x2="423.1" y2="81.4" stroke="#222" stroke-width="0.5" />
<line x1="427.1" y1="80.3" x2="427.1" y2="81.4" stroke="#222" stroke-width="0.5" />
<line x1="429.1" y1="80.3" x2="429.1" y2="81.4" stroke="#222" stroke-width="0.5" />
<line x1="431.1" y1="80.3" x2="431.1" y2="81.4" stroke="#222" stroke-width="0.5" />
<line x1="433.1" y1="80.3" x2="433.1" y2="81.4" stroke="#222" stroke-width="0.5" />
<line x1="437.1" y1="80.3" x2="437.1" y2="81.4" stroke="#222" stroke-width="0.5" />
<line x1="438.6" y1="80.3" x2="438.6" y2="81.4" stroke="#222" stroke-width="0.5" />
<rect x="404.4" y="80.3" width="1.8" height="2.2" fill="#111" stroke="none" stroke-width="0.8" />
<text x="405.3" y="88.8" font-size="4" text-anchor="middle" fill="#262626">0</text>
<line x1="425.2" y1="80.3" x2="425.2" y2="82.2" stroke="#111" stroke-width="0.75" />
<text x="425.2" y="88.8" font-size="4" text-anchor="middle" fill="#262626">10<tspan dy="-1.5" font-size="2.8">4</tspan></text>
<line x1="435.3" y1="80.3" x2="435.3" y2="82.2" stroke="#111" stroke-width="0.75" />
<text x="435.3" y="88.8" font-size="4" text-anchor="middle" fill="#262626">10<tspan dy="-1.5" font-size="2.8">5</tspan></text>
<line x1="238" y1="63.2" x2="238" y2="93.3" stroke="#2a2a2a" stroke-width="1.2" />
<line x1="237.4" y1="92.7" x2="268" y2="92.7" stroke="#2a2a2a" stroke-width="1.2" />
<path d="M236.0,63.800000000000004 L238.0,59.7 L240.0,63.800000000000004 Z" fill="#2a2a2a" stroke="none" stroke-width="0.8" />
<path d="M267.4,90.7 L271.5,92.7 L267.4,94.7 Z" fill="#2a2a2a" stroke="none" stroke-width="0.8" />
<text x="253.4" y="101" font-size="6.48" text-anchor="middle" font-weight="bold" fill="#262626" textLength="13.2" lengthAdjust="spacingAndGlyphs">CD11c</text>
<text x="233.6" y="77" font-size="6.48" text-anchor="middle" font-weight="bold" fill="#262626" textLength="10.6" lengthAdjust="spacingAndGlyphs" transform="rotate(-90 233.6 77)">CD21</text>
<line x1="476.8" y1="28.6" x2="476.8" y2="80.2" stroke="#222" stroke-width="0.9" />
<line x1="476.8" y1="80.2" x2="512.5" y2="80.2" stroke="#222" stroke-width="0.9" />
<line x1="475" y1="80.2" x2="476.8" y2="80.2" stroke="#222" stroke-width="0.7" />
<text x="473.8" y="81.7" font-size="5.18" text-anchor="end" fill="#262626" textLength="2.67" lengthAdjust="spacingAndGlyphs">0</text>
<line x1="475" y1="70.26" x2="476.8" y2="70.26" stroke="#222" stroke-width="0.7" />
<text x="473.8" y="71.76" font-size="5.18" text-anchor="end" fill="#262626" textLength="5.34" lengthAdjust="spacingAndGlyphs">10</text>
<line x1="475" y1="60.32" x2="476.8" y2="60.32" stroke="#222" stroke-width="0.7" />
<text x="473.8" y="61.82" font-size="5.18" text-anchor="end" fill="#262626" textLength="5.34" lengthAdjust="spacingAndGlyphs">20</text>
<line x1="475" y1="50.38" x2="476.8" y2="50.38" stroke="#222" stroke-width="0.7" />
<text x="473.8" y="51.88" font-size="5.18" text-anchor="end" fill="#262626" textLength="5.34" lengthAdjust="spacingAndGlyphs">30</text>
<line x1="475" y1="40.44" x2="476.8" y2="40.44" stroke="#222" stroke-width="0.7" />
<text x="473.8" y="41.94" font-size="5.18" text-anchor="end" fill="#262626" textLength="5.34" lengthAdjust="spacingAndGlyphs">40</text>
<line x1="475" y1="30.5" x2="476.8" y2="30.5" stroke="#222" stroke-width="0.7" />
<text x="473.8" y="32" font-size="5.18" text-anchor="end" fill="#262626" textLength="5.34" lengthAdjust="spacingAndGlyphs">50</text>
<line x1="487.9" y1="80.2" x2="487.9" y2="82" stroke="#222" stroke-width="0.7" />
<line x1="503.3" y1="80.2" x2="503.3" y2="82" stroke="#222" stroke-width="0.7" />
<line x1="487.9" y1="41.43" x2="503.3" y2="74.73" stroke="url(#pg1)" stroke-width="0.5" />
<line x1="487.9" y1="62.8" x2="503.3" y2="69.76" stroke="url(#pg1)" stroke-width="0.5" />
<line x1="487.9" y1="66.78" x2="503.3" y2="71.75" stroke="url(#pg1)" stroke-width="0.5" />
<line x1="487.9" y1="70.76" x2="503.3" y2="73.44" stroke="url(#pg1)" stroke-width="0.5" />
<line x1="487.9" y1="72.25" x2="503.3" y2="75.73" stroke="url(#pg1)" stroke-width="0.5" />
<line x1="487.9" y1="73.74" x2="503.3" y2="76.22" stroke="url(#pg1)" stroke-width="0.5" />
<rect x="486.9" y="40.43" width="2" height="2" fill="#c0143c" stroke="none" stroke-width="0.8" />
<rect x="486.9" y="61.8" width="2" height="2" fill="#c0143c" stroke="none" stroke-width="0.8" />
<rect x="486.9" y="65.78" width="2" height="2" fill="#c0143c" stroke="none" stroke-width="0.8" />
<rect x="486.9" y="69.76" width="2" height="2" fill="#c0143c" stroke="none" stroke-width="0.8" />
<rect x="486.9" y="71.25" width="2" height="2" fill="#c0143c" stroke="none" stroke-width="0.8" />
<rect x="486.9" y="72.74" width="2" height="2" fill="#c0143c" stroke="none" stroke-width="0.8" />
<rect x="502.3" y="68.76" width="2" height="2" fill="#3aa03a" stroke="none" stroke-width="0.8" />
<rect x="502.3" y="70.75" width="2" height="2" fill="#3aa03a" stroke="none" stroke-width="0.8" />
<rect x="502.3" y="72.44" width="2" height="2" fill="#3aa03a" stroke="none" stroke-width="0.8" />
<rect x="502.3" y="73.73" width="2" height="2" fill="#3aa03a" stroke="none" stroke-width="0.8" />
<rect x="502.3" y="74.73" width="2" height="2" fill="#3aa03a" stroke="none" stroke-width="0.8" />
<rect x="502.3" y="75.22" width="2" height="2" fill="#3aa03a" stroke="none" stroke-width="0.8" />
<path d="M487.9,33.4 L487.9,31.2 L503.3,31.2 L503.3,33.4" fill="none" stroke="#222" stroke-width="0.8" />
<text x="495.4" y="28" font-size="4.97" text-anchor="middle" fill="#262626" textLength="29.6" lengthAdjust="spacingAndGlyphs">(paired, n = 6)</text>
<text x="495.3" y="24.4" font-size="7.02" text-anchor="middle" textLength="2.53" lengthAdjust="spacingAndGlyphs">*</text>
<text x="455" y="55.3" font-size="6.16" text-anchor="middle" font-weight="bold" fill="#262626" textLength="60" lengthAdjust="spacingAndGlyphs" transform="rotate(-90 455 55.3)">CD21(lo)CD11c(hi) B cells</text>
<text x="461.8" y="56" font-size="6.16" text-anchor="middle" font-weight="bold" fill="#262626" textLength="27" lengthAdjust="spacingAndGlyphs" transform="rotate(-90 461.8 56)">(% IgD+CD27−)</text>
<text x="475.03" y="98.86" font-size="5.51" fill="#333" textLength="16.43" lengthAdjust="spacingAndGlyphs" transform="rotate(-42.04 475.03 98.86)">CTLA4</text>
<text x="467.08" y="115.51" font-size="5.51" fill="#333" textLength="34.65" lengthAdjust="spacingAndGlyphs" transform="rotate(-44.3 467.08 115.51)">(pre-abatacept)</text>
<text x="494.32" y="99.07" font-size="5.51" fill="#333" textLength="15.28" lengthAdjust="spacingAndGlyphs" transform="rotate(-46.06 494.32 99.07)">CTLA4</text>
<text x="484.4" y="117.8" font-size="5.51" fill="#333" textLength="35.85" lengthAdjust="spacingAndGlyphs" transform="rotate(-45.11 484.4 117.8)">(post-abatacept)</text>
<line x1="247.5" y1="140.8" x2="247.5" y2="195.1" stroke="#222" stroke-width="0.9" />
<line x1="247.5" y1="195.1" x2="302" y2="195.1" stroke="#222" stroke-width="0.9" />
<text x="276.5" y="203" font-size="6.48" text-anchor="middle" font-weight="bold" fill="#262626" textLength="19" lengthAdjust="spacingAndGlyphs">UMAP_1</text>
<text x="243.8" y="168.5" font-size="6.48" text-anchor="middle" font-weight="bold" fill="#262626" textLength="19" lengthAdjust="spacingAndGlyphs" transform="rotate(-90 243.8 168.5)">UMAP_2</text>
<circle cx="260.82" cy="151.32" r="0.62" fill="none" stroke="#e8c2aa" stroke-width="0.3" />
<circle cx="271.46" cy="148.35" r="0.62" fill="none" stroke="#e8c2aa" stroke-width="0.3" />
<circle cx="267.72" cy="159.46" r="0.62" fill="none" stroke="#e8c2aa" stroke-width="0.3" />
<circle cx="252.18" cy="164.83" r="0.62" fill="none" stroke="#e8c2aa" stroke-width="0.3" />
<circle cx="251.52" cy="162.04" r="0.62" fill="none" stroke="#e8c2aa" stroke-width="0.3" />
<circle cx="252.57" cy="149.04" r="0.62" fill="none" stroke="#e8c2aa" stroke-width="0.3" />
<circle cx="264.1" cy="176.94" r="0.62" fill="none" stroke="#e8c2aa" stroke-width="0.3" />
<circle cx="254.32" cy="154.06" r="0.62" fill="none" stroke="#e8c2aa" stroke-width="0.3" />
<circle cx="270.69" cy="181.52" r="0.62" fill="none" stroke="#e8c2aa" stroke-width="0.3" />
<circle cx="269.06" cy="160.63" r="0.62" fill="none" stroke="#e8c2aa" stroke-width="0.3" />
<circle cx="278.2" cy="156.58" r="0.62" fill="none" stroke="#e8c2aa" stroke-width="0.3" />
<circle cx="254.99" cy="150.06" r="0.62" fill="none" stroke="#e8c2aa" stroke-width="0.3" />
<circle cx="260.33" cy="176.53" r="0.62" fill="none" stroke="#e8c2aa" stroke-width="0.3" />
<circle cx="256.17" cy="167.64" r="0.62" fill="none" stroke="#e8c2aa" stroke-width="0.3" />
<circle cx="271.06" cy="159.71" r="0.62" fill="none" stroke="#e8c2aa" stroke-width="0.3" />
<circle cx="268.1" cy="147.98" r="0.62" fill="none" stroke="#e8c2aa" stroke-width="0.3" />
<circle cx="252.24" cy="153.41" r="0.62" fill="none" stroke="#e8c2aa" stroke-width="0.3" />
<circle cx="272.41" cy="161.81" r="0.62" fill="none" stroke="#e8c2aa" stroke-width="0.3" />
<circle cx="260.51" cy="167.79" r="0.62" fill="none" stroke="#e8c2aa" stroke-width="0.3" />
<circle cx="265.03" cy="156.96" r="0.62" fill="none" stroke="#e8c2aa" stroke-width="0.3" />
<circle cx="276.12" cy="172.09" r="0.62" fill="none" stroke="#e8c2aa" stroke-width="0.3" />
<circle cx="258.23" cy="167.37" r="0.62" fill="none" stroke="#e8c2aa" stroke-width="0.3" />
<circle cx="267.37" cy="178.77" r="0.62" fill="none" stroke="#e8c2aa" stroke-width="0.3" />
<circle cx="274.01" cy="156.51" r="0.62" fill="none" stroke="#e8c2aa" stroke-width="0.3" />
<circle cx="263.89" cy="174.3" r="0.62" fill="none" stroke="#e8c2aa" stroke-width="0.3" />
<circle cx="255.24" cy="164.13" r="0.62" fill="none" stroke="#e8c2aa" stroke-width="0.3" />
<circle cx="275.15" cy="167.32" r="0.62" fill="none" stroke="#e8c2aa" stroke-width="0.3" />
<circle cx="278.75" cy="157.49" r="0.62" fill="none" stroke="#e8c2aa" stroke-width="0.3" />
<circle cx="272.9" cy="168.13" r="0.62" fill="none" stroke="#e8c2aa" stroke-width="0.3" />
<circle cx="269.15" cy="162.89" r="0.62" fill="none" stroke="#e8c2aa" stroke-width="0.3" />
<circle cx="265.71" cy="170.77" r="0.62" fill="none" stroke="#e8c2aa" stroke-width="0.3" />
<circle cx="277.01" cy="156.39" r="0.62" fill="none" stroke="#e8c2aa" stroke-width="0.3" />
<circle cx="262.84" cy="170.94" r="0.62" fill="none" stroke="#e8c2aa" stroke-width="0.3" />
<circle cx="251.03" cy="163.1" r="0.62" fill="none" stroke="#e8c2aa" stroke-width="0.3" />
<circle cx="255.76" cy="150.04" r="0.62" fill="none" stroke="#e8c2aa" stroke-width="0.3" />
<circle cx="254.5" cy="154.98" r="0.62" fill="none" stroke="#e8c2aa" stroke-width="0.3" />
<circle cx="263.01" cy="178.63" r="0.62" fill="none" stroke="#e8c2aa" stroke-width="0.3" />
<circle cx="252.92" cy="162.62" r="0.62" fill="none" stroke="#e8c2aa" stroke-width="0.3" />
<circle cx="268.16" cy="179.08" r="0.62" fill="none" stroke="#e8c2aa" stroke-width="0.3" />
<circle cx="276.93" cy="178.35" r="0.62" fill="none" stroke="#e8c2aa" stroke-width="0.3" />
<circle cx="259.35" cy="161.34" r="0.62" fill="none" stroke="#e8c2aa" stroke-width="0.3" />
<circle cx="261.96" cy="179.11" r="0.62" fill="none" stroke="#e8c2aa" stroke-width="0.3" />
<circle cx="256.03" cy="154.39" r="0.62" fill="none" stroke="#e8c2aa" stroke-width="0.3" />
<circle cx="257.88" cy="163.98" r="0.62" fill="none" stroke="#e8c2aa" stroke-width="0.3" />
<circle cx="269.45" cy="155.56" r="0.62" fill="none" stroke="#e8c2aa" stroke-width="0.3" />
<circle cx="262.3" cy="167.06" r="0.62" fill="none" stroke="#e8c2aa" stroke-width="0.3" />
<circle cx="281.28" cy="171.77" r="0.62" fill="none" stroke="#e8c2aa" stroke-width="0.3" />
<circle cx="267.05" cy="169.01" r="0.62" fill="none" stroke="#e8c2aa" stroke-width="0.3" />
<circle cx="272.28" cy="147.65" r="0.62" fill="none" stroke="#e8c2aa" stroke-width="0.3" />
<circle cx="279.53" cy="175.16" r="0.62" fill="none" stroke="#e8c2aa" stroke-width="0.3" />
<circle cx="278.72" cy="175.84" r="0.62" fill="none" stroke="#e8c2aa" stroke-width="0.3" />
<circle cx="263.05" cy="160.72" r="0.62" fill="none" stroke="#e8c2aa" stroke-width="0.3" />
<circle cx="253.66" cy="169.64" r="0.62" fill="none" stroke="#e8c2aa" stroke-width="0.3" />
<circle cx="257.08" cy="151.75" r="0.62" fill="none" stroke="#e8c2aa" stroke-width="0.3" />
<circle cx="261.35" cy="147.59" r="0.62" fill="none" stroke="#e8c2aa" stroke-width="0.3" />
<circle cx="253.6" cy="159.38" r="0.62" fill="none" stroke="#e8c2aa" stroke-width="0.3" />
<circle cx="270.26" cy="151.23" r="0.62" fill="none" stroke="#e8c2aa" stroke-width="0.3" />
<circle cx="258.5" cy="158.77" r="0.62" fill="none" stroke="#e8c2aa" stroke-width="0.3" />
<circle cx="262.14" cy="150.26" r="0.62" fill="none" stroke="#e8c2aa" stroke-width="0.3" />
<circle cx="265.44" cy="163.94" r="0.62" fill="none" stroke="#e8c2aa" stroke-width="0.3" />
<circle cx="253.09" cy="149.47" r="0.62" fill="none" stroke="#e8c2aa" stroke-width="0.3" />
<circle cx="261.44" cy="155.63" r="0.62" fill="none" stroke="#e8c2aa" stroke-width="0.3" />
<circle cx="277.24" cy="151.72" r="0.62" fill="none" stroke="#e8c2aa" stroke-width="0.3" />
<circle cx="267.47" cy="151.16" r="0.62" fill="none" stroke="#e8c2aa" stroke-width="0.3" />
<circle cx="267.95" cy="146.62" r="0.62" fill="none" stroke="#e8c2aa" stroke-width="0.3" />
<circle cx="267.46" cy="182.69" r="0.62" fill="none" stroke="#e8c2aa" stroke-width="0.3" />
<circle cx="278.36" cy="171.99" r="0.62" fill="none" stroke="#e8c2aa" stroke-width="0.3" />
<circle cx="258.79" cy="159.5" r="0.62" fill="none" stroke="#e8c2aa" stroke-width="0.3" />
<circle cx="255.73" cy="174.86" r="0.62" fill="none" stroke="#e8c2aa" stroke-width="0.3" />
<circle cx="267.61" cy="175.13" r="0.62" fill="none" stroke="#e8c2aa" stroke-width="0.3" />
<circle cx="261.01" cy="154.05" r="0.62" fill="none" stroke="#e8c2aa" stroke-width="0.3" />
<circle cx="278.01" cy="176.15" r="0.62" fill="none" stroke="#e8c2aa" stroke-width="0.3" />
<circle cx="276.9" cy="173.64" r="0.62" fill="none" stroke="#e8c2aa" stroke-width="0.3" />
<circle cx="257.67" cy="165.22" r="0.62" fill="none" stroke="#e8c2aa" stroke-width="0.3" />
<circle cx="261.86" cy="146.7" r="0.62" fill="none" stroke="#e8c2aa" stroke-width="0.3" />
<circle cx="251.21" cy="156.19" r="0.62" fill="none" stroke="#e8c2aa" stroke-width="0.3" />
<circle cx="258.72" cy="171.85" r="0.62" fill="none" stroke="#e8c2aa" stroke-width="0.3" />
<circle cx="281.39" cy="162.55" r="0.62" fill="none" stroke="#e8c2aa" stroke-width="0.3" />
<circle cx="281.34" cy="159.42" r="0.62" fill="none" stroke="#e8c2aa" stroke-width="0.3" />
<circle cx="257.47" cy="154.2" r="0.62" fill="none" stroke="#e8c2aa" stroke-width="0.3" />
<circle cx="256.69" cy="153.35" r="0.62" fill="none" stroke="#e8c2aa" stroke-width="0.3" />
<circle cx="270.58" cy="179.72" r="0.62" fill="none" stroke="#e8c2aa" stroke-width="0.3" />
<circle cx="277.61" cy="163.77" r="0.62" fill="none" stroke="#e8c2aa" stroke-width="0.3" />
<circle cx="271.52" cy="175.91" r="0.62" fill="none" stroke="#e8c2aa" stroke-width="0.3" />
<circle cx="253.06" cy="170.64" r="0.62" fill="none" stroke="#e8c2aa" stroke-width="0.3" />
<circle cx="279.87" cy="175.25" r="0.62" fill="none" stroke="#e8c2aa" stroke-width="0.3" />
<circle cx="274.68" cy="163.72" r="0.62" fill="none" stroke="#e8c2aa" stroke-width="0.3" />
<circle cx="256.1" cy="175.51" r="0.62" fill="none" stroke="#e8c2aa" stroke-width="0.3" />
<circle cx="261.11" cy="175.95" r="0.62" fill="none" stroke="#e8c2aa" stroke-width="0.3" />
<circle cx="281.88" cy="160.6" r="0.62" fill="none" stroke="#e8c2aa" stroke-width="0.3" />
<circle cx="263.35" cy="181.48" r="0.62" fill="none" stroke="#e8c2aa" stroke-width="0.3" />
<circle cx="273.86" cy="152.04" r="0.62" fill="none" stroke="#e8c2aa" stroke-width="0.3" />
<circle cx="254.43" cy="151.33" r="0.62" fill="none" stroke="#e8c2aa" stroke-width="0.3" />
<circle cx="279.71" cy="176.17" r="0.62" fill="none" stroke="#e8c2aa" stroke-width="0.3" />
<circle cx="261.69" cy="166.39" r="0.62" fill="none" stroke="#e8c2aa" stroke-width="0.3" />
<circle cx="281.85" cy="170.22" r="0.62" fill="none" stroke="#e8c2aa" stroke-width="0.3" />
<circle cx="267.41" cy="180.98" r="0.62" fill="none" stroke="#e8c2aa" stroke-width="0.3" />
<circle cx="264.4" cy="178.64" r="0.62" fill="none" stroke="#e8c2aa" stroke-width="0.3" />
<circle cx="277.15" cy="153.6" r="0.62" fill="none" stroke="#e8c2aa" stroke-width="0.3" />
<circle cx="258.48" cy="156.7" r="0.62" fill="none" stroke="#e8c2aa" stroke-width="0.3" />
<circle cx="258.12" cy="167.83" r="0.62" fill="none" stroke="#e8c2aa" stroke-width="0.3" />
<circle cx="258.73" cy="161.48" r="0.62" fill="none" stroke="#e8c2aa" stroke-width="0.3" />
<circle cx="261.8" cy="162.96" r="0.62" fill="none" stroke="#e8c2aa" stroke-width="0.3" />
<circle cx="269.26" cy="179.87" r="0.62" fill="none" stroke="#e8c2aa" stroke-width="0.3" />
<circle cx="263.97" cy="180.38" r="0.62" fill="none" stroke="#e8c2aa" stroke-width="0.3" />
<circle cx="266.6" cy="165.76" r="0.62" fill="none" stroke="#e8c2aa" stroke-width="0.3" />
<circle cx="267.31" cy="146.31" r="0.62" fill="none" stroke="#e8c2aa" stroke-width="0.3" />
<circle cx="264.6" cy="152.54" r="0.62" fill="none" stroke="#e8c2aa" stroke-width="0.3" />
<circle cx="255.9" cy="163.55" r="0.62" fill="none" stroke="#e8c2aa" stroke-width="0.3" />
<circle cx="273.87" cy="166.69" r="0.62" fill="none" stroke="#e8c2aa" stroke-width="0.3" />
<circle cx="260.89" cy="165.25" r="0.62" fill="none" stroke="#e8c2aa" stroke-width="0.3" />
<circle cx="268.35" cy="175.32" r="0.62" fill="none" stroke="#e8c2aa" stroke-width="0.3" />
<circle cx="253.75" cy="166.84" r="0.62" fill="none" stroke="#e8c2aa" stroke-width="0.3" />
<circle cx="258.38" cy="156.1" r="0.62" fill="none" stroke="#e8c2aa" stroke-width="0.3" />
<circle cx="275.4" cy="164.84" r="0.62" fill="none" stroke="#e8c2aa" stroke-width="0.3" />
<circle cx="268.56" cy="174.4" r="0.62" fill="none" stroke="#e8c2aa" stroke-width="0.3" />
<circle cx="279.96" cy="162.4" r="0.62" fill="none" stroke="#e8c2aa" stroke-width="0.3" />
<circle cx="270.21" cy="164.76" r="0.62" fill="none" stroke="#e8c2aa" stroke-width="0.3" />
<circle cx="266.95" cy="171.85" r="0.62" fill="none" stroke="#e8c2aa" stroke-width="0.3" />
<circle cx="265" cy="165.81" r="0.62" fill="none" stroke="#e8c2aa" stroke-width="0.3" />
<circle cx="265.84" cy="181.28" r="0.62" fill="none" stroke="#e8c2aa" stroke-width="0.3" />
<circle cx="273.02" cy="178.82" r="0.62" fill="none" stroke="#e8c2aa" stroke-width="0.3" />
<circle cx="280.92" cy="155.44" r="0.62" fill="none" stroke="#e8c2aa" stroke-width="0.3" />
<circle cx="268.48" cy="181.35" r="0.62" fill="none" stroke="#e8c2aa" stroke-width="0.3" />
<circle cx="277.6" cy="150.8" r="0.62" fill="none" stroke="#e8c2aa" stroke-width="0.3" />
<circle cx="254.25" cy="162.36" r="0.62" fill="none" stroke="#e8c2aa" stroke-width="0.3" />
<circle cx="252.66" cy="154.72" r="0.62" fill="none" stroke="#e8c2aa" stroke-width="0.3" />
<circle cx="252.68" cy="170.97" r="0.62" fill="none" stroke="#e8c2aa" stroke-width="0.3" />
<circle cx="275.78" cy="179.6" r="0.62" fill="none" stroke="#e8c2aa" stroke-width="0.3" />
<circle cx="255.32" cy="172.74" r="0.62" fill="none" stroke="#e8c2aa" stroke-width="0.3" />
<circle cx="271.76" cy="151.02" r="0.62" fill="none" stroke="#e8c2aa" stroke-width="0.3" />
<circle cx="263.24" cy="164.07" r="0.62" fill="none" stroke="#e8c2aa" stroke-width="0.3" />
<circle cx="255.55" cy="161.95" r="0.62" fill="none" stroke="#e8c2aa" stroke-width="0.3" />
<circle cx="267.06" cy="158.45" r="0.62" fill="none" stroke="#e8c2aa" stroke-width="0.3" />
<circle cx="256.66" cy="157.67" r="0.62" fill="none" stroke="#e8c2aa" stroke-width="0.3" />
<circle cx="268.31" cy="162.29" r="0.62" fill="none" stroke="#e8c2aa" stroke-width="0.3" />
<circle cx="250.89" cy="158.16" r="0.62" fill="none" stroke="#e8c2aa" stroke-width="0.3" />
<circle cx="270.58" cy="165.01" r="0.62" fill="none" stroke="#e8c2aa" stroke-width="0.3" />
<circle cx="253.71" cy="155.66" r="0.62" fill="none" stroke="#e8c2aa" stroke-width="0.3" />
<circle cx="259.09" cy="150.51" r="0.62" fill="none" stroke="#e8c2aa" stroke-width="0.3" />
<circle cx="264.02" cy="180.14" r="0.62" fill="none" stroke="#e8c2aa" stroke-width="0.3" />
<circle cx="276.92" cy="155.4" r="0.62" fill="none" stroke="#e8c2aa" stroke-width="0.3" />
<circle cx="268.84" cy="172.15" r="0.62" fill="none" stroke="#e8c2aa" stroke-width="0.3" />
<circle cx="253.21" cy="147.78" r="0.62" fill="none" stroke="#e8c2aa" stroke-width="0.3" />
<circle cx="272.67" cy="161.72" r="0.62" fill="none" stroke="#e8c2aa" stroke-width="0.3" />
<circle cx="270.92" cy="175.98" r="0.62" fill="none" stroke="#e8c2aa" stroke-width="0.3" />
<circle cx="265.05" cy="158.45" r="0.62" fill="none" stroke="#e8c2aa" stroke-width="0.3" />
<circle cx="268.27" cy="180.72" r="0.62" fill="none" stroke="#e8c2aa" stroke-width="0.3" />
<circle cx="259.01" cy="150.5" r="0.62" fill="none" stroke="#e8c2aa" stroke-width="0.3" />
<circle cx="267.42" cy="154.64" r="0.62" fill="none" stroke="#e8c2aa" stroke-width="0.3" />
<circle cx="253.86" cy="151.72" r="0.62" fill="none" stroke="#e8c2aa" stroke-width="0.3" />
<circle cx="251.94" cy="153.25" r="0.62" fill="none" stroke="#e8c2aa" stroke-width="0.3" />
<circle cx="260.44" cy="157.16" r="0.62" fill="none" stroke="#e8c2aa" stroke-width="0.3" />
<circle cx="274.98" cy="156.59" r="0.62" fill="none" stroke="#e8c2aa" stroke-width="0.3" />
<circle cx="266.55" cy="152.34" r="0.62" fill="none" stroke="#e8c2aa" stroke-width="0.3" />
<circle cx="261.58" cy="146.29" r="0.62" fill="none" stroke="#e8c2aa" stroke-width="0.3" />
<circle cx="258.44" cy="146.18" r="0.62" fill="none" stroke="#e8c2aa" stroke-width="0.3" />
<circle cx="274.13" cy="166.48" r="0.62" fill="none" stroke="#e8c2aa" stroke-width="0.3" />
<circle cx="256.46" cy="163.59" r="0.62" fill="none" stroke="#e8c2aa" stroke-width="0.3" />
<circle cx="276.91" cy="161.98" r="0.62" fill="none" stroke="#e8c2aa" stroke-width="0.3" />
<circle cx="266.39" cy="177.23" r="0.62" fill="none" stroke="#e8c2aa" stroke-width="0.3" />
<circle cx="263.08" cy="164.8" r="0.62" fill="none" stroke="#e8c2aa" stroke-width="0.3" />
<circle cx="261.44" cy="177.14" r="0.62" fill="none" stroke="#e8c2aa" stroke-width="0.3" />
<circle cx="273.27" cy="169.7" r="0.62" fill="none" stroke="#e8c2aa" stroke-width="0.3" />
<circle cx="263.45" cy="158.77" r="0.62" fill="none" stroke="#e8c2aa" stroke-width="0.3" />
<circle cx="252.07" cy="150.52" r="0.62" fill="none" stroke="#e8c2aa" stroke-width="0.3" />
<circle cx="258.61" cy="151.79" r="0.62" fill="none" stroke="#e8c2aa" stroke-width="0.3" />
<circle cx="278.59" cy="171.01" r="0.62" fill="none" stroke="#e8c2aa" stroke-width="0.3" />
<circle cx="259.46" cy="154.78" r="0.62" fill="none" stroke="#e8c2aa" stroke-width="0.3" />
<circle cx="259.82" cy="163.01" r="0.62" fill="none" stroke="#e8c2aa" stroke-width="0.3" />
<circle cx="255.42" cy="162.5" r="0.62" fill="none" stroke="#e8c2aa" stroke-width="0.3" />
<circle cx="281.91" cy="166.33" r="0.62" fill="none" stroke="#e8c2aa" stroke-width="0.3" />
<circle cx="260.36" cy="159.11" r="0.62" fill="none" stroke="#e8c2aa" stroke-width="0.3" />
<circle cx="250.33" cy="160.06" r="0.62" fill="none" stroke="#e8c2aa" stroke-width="0.3" />
<circle cx="265.73" cy="164.65" r="0.62" fill="none" stroke="#e8c2aa" stroke-width="0.3" />
<circle cx="256.83" cy="164.73" r="0.62" fill="none" stroke="#e8c2aa" stroke-width="0.3" />
<circle cx="250.46" cy="155.61" r="0.62" fill="none" stroke="#e8c2aa" stroke-width="0.3" />
<circle cx="253.22" cy="160.74" r="0.62" fill="none" stroke="#e8c2aa" stroke-width="0.3" />
<circle cx="260.19" cy="154.42" r="0.62" fill="none" stroke="#e8c2aa" stroke-width="0.3" />
<circle cx="269.33" cy="165.66" r="0.62" fill="none" stroke="#e8c2aa" stroke-width="0.3" />
<circle cx="274.69" cy="170.52" r="0.62" fill="none" stroke="#e8c2aa" stroke-width="0.3" />
<circle cx="273.57" cy="178.92" r="0.62" fill="none" stroke="#e8c2aa" stroke-width="0.3" />
<circle cx="262.96" cy="157.96" r="0.62" fill="none" stroke="#e8c2aa" stroke-width="0.3" />
<circle cx="273.84" cy="169.98" r="0.62" fill="none" stroke="#e8c2aa" stroke-width="0.3" />
<circle cx="279.29" cy="169.38" r="0.62" fill="none" stroke="#e8c2aa" stroke-width="0.3" />
<circle cx="274.15" cy="176.38" r="0.62" fill="none" stroke="#e8c2aa" stroke-width="0.3" />
<circle cx="254.83" cy="165.45" r="0.62" fill="none" stroke="#e8c2aa" stroke-width="0.3" />
<circle cx="266.69" cy="177.24" r="0.62" fill="none" stroke="#e8c2aa" stroke-width="0.3" />
<circle cx="276.45" cy="176.92" r="0.62" fill="none" stroke="#e8c2aa" stroke-width="0.3" />
<circle cx="269.28" cy="179.44" r="0.62" fill="none" stroke="#e8c2aa" stroke-width="0.3" />
<circle cx="272.49" cy="171.88" r="0.62" fill="none" stroke="#e8c2aa" stroke-width="0.3" />
<circle cx="257.77" cy="146.78" r="0.62" fill="none" stroke="#e8c2aa" stroke-width="0.3" />
<circle cx="254.63" cy="159.27" r="0.62" fill="none" stroke="#e8c2aa" stroke-width="0.3" />
<circle cx="268.45" cy="169.39" r="0.62" fill="none" stroke="#e8c2aa" stroke-width="0.3" />
<circle cx="270.65" cy="171.4" r="0.62" fill="none" stroke="#e8c2aa" stroke-width="0.3" />
<circle cx="266.2" cy="145.73" r="0.62" fill="none" stroke="#e8c2aa" stroke-width="0.3" />
<circle cx="276.23" cy="173.96" r="0.62" fill="none" stroke="#e8c2aa" stroke-width="0.3" />
<circle cx="266.65" cy="165.88" r="0.62" fill="none" stroke="#e8c2aa" stroke-width="0.3" />
<circle cx="271.73" cy="148.1" r="0.62" fill="none" stroke="#e8c2aa" stroke-width="0.3" />
<circle cx="274.25" cy="155.16" r="0.62" fill="none" stroke="#e8c2aa" stroke-width="0.3" />
<circle cx="252.72" cy="155.66" r="0.62" fill="none" stroke="#e8c2aa" stroke-width="0.3" />
<circle cx="274" cy="153.38" r="0.62" fill="none" stroke="#e8c2aa" stroke-width="0.3" />
<circle cx="266.35" cy="160.1" r="0.62" fill="none" stroke="#e8c2aa" stroke-width="0.3" />
<circle cx="265.87" cy="171.51" r="0.62" fill="none" stroke="#e8c2aa" stroke-width="0.3" />
<circle cx="275.23" cy="168.98" r="0.62" fill="none" stroke="#e8c2aa" stroke-width="0.3" />
<circle cx="271.19" cy="148.54" r="0.62" fill="none" stroke="#e8c2aa" stroke-width="0.3" />
<circle cx="255.09" cy="155.22" r="0.62" fill="none" stroke="#e8c2aa" stroke-width="0.3" />
<circle cx="274.45" cy="157.14" r="0.62" fill="none" stroke="#e8c2aa" stroke-width="0.3" />
<circle cx="268.75" cy="146.07" r="0.62" fill="none" stroke="#e8c2aa" stroke-width="0.3" />
<circle cx="252.27" cy="155.79" r="0.62" fill="none" stroke="#e8c2aa" stroke-width="0.3" />
<circle cx="272.14" cy="171.83" r="0.62" fill="none" stroke="#e8c2aa" stroke-width="0.3" />
<circle cx="272.26" cy="156.62" r="0.62" fill="none" stroke="#e8c2aa" stroke-width="0.3" />
<circle cx="267.09" cy="163.21" r="0.62" fill="none" stroke="#e8c2aa" stroke-width="0.3" />
<circle cx="265.46" cy="150.09" r="0.62" fill="none" stroke="#e8c2aa" stroke-width="0.3" />
<circle cx="279.34" cy="153.15" r="0.62" fill="none" stroke="#e8c2aa" stroke-width="0.3" />
<circle cx="250.87" cy="162.99" r="0.62" fill="none" stroke="#e8c2aa" stroke-width="0.3" />
<circle cx="264.91" cy="155.78" r="0.62" fill="none" stroke="#e8c2aa" stroke-width="0.3" />
<circle cx="257.15" cy="167.64" r="0.62" fill="none" stroke="#e8c2aa" stroke-width="0.3" />
<circle cx="254.91" cy="165.46" r="0.62" fill="none" stroke="#e8c2aa" stroke-width="0.3" />
<circle cx="276.96" cy="164.88" r="0.62" fill="none" stroke="#e8c2aa" stroke-width="0.3" />
<circle cx="279.12" cy="172.26" r="0.62" fill="none" stroke="#e8c2aa" stroke-width="0.3" />
<circle cx="266.1" cy="146.54" r="0.62" fill="none" stroke="#e8c2aa" stroke-width="0.3" />
<circle cx="264.95" cy="157.04" r="0.62" fill="none" stroke="#e8c2aa" stroke-width="0.3" />
<circle cx="254.87" cy="158.64" r="0.62" fill="none" stroke="#e8c2aa" stroke-width="0.3" />
<circle cx="260.57" cy="177.44" r="0.62" fill="none" stroke="#e8c2aa" stroke-width="0.3" />
<circle cx="280.41" cy="172.62" r="0.62" fill="none" stroke="#e8c2aa" stroke-width="0.3" />
<circle cx="279.6" cy="156.58" r="0.62" fill="none" stroke="#e8c2aa" stroke-width="0.3" />
<circle cx="262.4" cy="160.49" r="0.62" fill="none" stroke="#e8c2aa" stroke-width="0.3" />
<circle cx="262.02" cy="161.82" r="0.62" fill="none" stroke="#e8c2aa" stroke-width="0.3" />
<circle cx="259.24" cy="147.43" r="0.62" fill="none" stroke="#e8c2aa" stroke-width="0.3" />
<circle cx="258.4" cy="155.67" r="0.62" fill="none" stroke="#e8c2aa" stroke-width="0.3" />
<circle cx="266.91" cy="152.8" r="0.62" fill="none" stroke="#e8c2aa" stroke-width="0.3" />
<circle cx="279.04" cy="176.37" r="0.62" fill="none" stroke="#e8c2aa" stroke-width="0.3" />
<circle cx="270.8" cy="180.22" r="0.62" fill="none" stroke="#e8c2aa" stroke-width="0.3" />
<circle cx="280.87" cy="166.42" r="0.62" fill="none" stroke="#e8c2aa" stroke-width="0.3" />
<circle cx="274.1" cy="162.69" r="0.62" fill="none" stroke="#e8c2aa" stroke-width="0.3" />
<circle cx="274.76" cy="170.03" r="0.62" fill="none" stroke="#e8c2aa" stroke-width="0.3" />
<circle cx="259.6" cy="147.46" r="0.62" fill="none" stroke="#e8c2aa" stroke-width="0.3" />
<circle cx="265.65" cy="158.62" r="0.62" fill="none" stroke="#e8c2aa" stroke-width="0.3" />
<circle cx="259.98" cy="173.61" r="0.62" fill="none" stroke="#e8c2aa" stroke-width="0.3" />
<circle cx="271.62" cy="157" r="0.62" fill="none" stroke="#e8c2aa" stroke-width="0.3" />
<circle cx="268.41" cy="160.55" r="0.62" fill="none" stroke="#e8c2aa" stroke-width="0.3" />
<circle cx="255.74" cy="151.73" r="0.62" fill="none" stroke="#e8c2aa" stroke-width="0.3" />
<circle cx="266.45" cy="153.94" r="0.62" fill="none" stroke="#e8c2aa" stroke-width="0.3" />
<circle cx="264.92" cy="150.89" r="0.62" fill="none" stroke="#e8c2aa" stroke-width="0.3" />
<circle cx="256.55" cy="149.04" r="0.62" fill="none" stroke="#e8c2aa" stroke-width="0.3" />
<circle cx="261.41" cy="149.05" r="0.62" fill="none" stroke="#e8c2aa" stroke-width="0.3" />
<circle cx="258.07" cy="155.39" r="0.62" fill="none" stroke="#e8c2aa" stroke-width="0.3" />
<circle cx="268.81" cy="179.23" r="0.62" fill="none" stroke="#e8c2aa" stroke-width="0.3" />
<circle cx="274.66" cy="161.24" r="0.62" fill="none" stroke="#e8c2aa" stroke-width="0.3" />
<circle cx="263.75" cy="165.47" r="0.62" fill="none" stroke="#e8c2aa" stroke-width="0.3" />
<circle cx="262.55" cy="158.42" r="0.62" fill="none" stroke="#e8c2aa" stroke-width="0.3" />
<circle cx="252.32" cy="156.12" r="0.62" fill="none" stroke="#e8c2aa" stroke-width="0.3" />
<circle cx="266.66" cy="169.46" r="0.62" fill="none" stroke="#e8c2aa" stroke-width="0.3" />
<circle cx="278.34" cy="153.79" r="0.62" fill="none" stroke="#e8c2aa" stroke-width="0.3" />
<circle cx="259.11" cy="155.02" r="0.62" fill="none" stroke="#e8c2aa" stroke-width="0.3" />
<circle cx="263.29" cy="162.5" r="0.62" fill="none" stroke="#e8c2aa" stroke-width="0.3" />
<circle cx="279.41" cy="163.54" r="0.62" fill="none" stroke="#e8c2aa" stroke-width="0.3" />
<circle cx="263.02" cy="180.73" r="0.62" fill="none" stroke="#e8c2aa" stroke-width="0.3" />
<circle cx="277.13" cy="178.02" r="0.62" fill="none" stroke="#e8c2aa" stroke-width="0.3" />
<circle cx="253.84" cy="151.45" r="0.62" fill="none" stroke="#e8c2aa" stroke-width="0.3" />
<circle cx="267.28" cy="171.45" r="0.62" fill="none" stroke="#e8c2aa" stroke-width="0.3" />
<circle cx="280.9" cy="172.95" r="0.62" fill="none" stroke="#e8c2aa" stroke-width="0.3" />
<circle cx="271.34" cy="174.59" r="0.62" fill="none" stroke="#e8c2aa" stroke-width="0.3" />
<circle cx="265.16" cy="166.5" r="0.62" fill="none" stroke="#e8c2aa" stroke-width="0.3" />
<circle cx="271.28" cy="157.11" r="0.62" fill="none" stroke="#e8c2aa" stroke-width="0.3" />
<circle cx="254.46" cy="155.14" r="0.62" fill="none" stroke="#e8c2aa" stroke-width="0.3" />
<circle cx="270.98" cy="172.08" r="0.62" fill="none" stroke="#e8c2aa" stroke-width="0.3" />
<circle cx="253.94" cy="148.27" r="0.62" fill="none" stroke="#e8c2aa" stroke-width="0.3" />
<circle cx="267.34" cy="167.69" r="0.62" fill="none" stroke="#e8c2aa" stroke-width="0.3" />
<circle cx="262.91" cy="154.07" r="0.62" fill="none" stroke="#e8c2aa" stroke-width="0.3" />
<circle cx="269.83" cy="146" r="0.62" fill="none" stroke="#e8c2aa" stroke-width="0.3" />
<circle cx="260.1" cy="163.06" r="0.62" fill="none" stroke="#e8c2aa" stroke-width="0.3" />
<circle cx="281.47" cy="170.03" r="0.62" fill="none" stroke="#e8c2aa" stroke-width="0.3" />
<circle cx="279.02" cy="163.61" r="0.62" fill="none" stroke="#e8c2aa" stroke-width="0.3" />
<circle cx="257.93" cy="154.96" r="0.62" fill="none" stroke="#e8c2aa" stroke-width="0.3" />
<circle cx="281.52" cy="172.31" r="0.62" fill="none" stroke="#e8c2aa" stroke-width="0.3" />
<circle cx="260.29" cy="146.43" r="0.62" fill="none" stroke="#e8c2aa" stroke-width="0.3" />
<circle cx="266.5" cy="171.16" r="0.62" fill="none" stroke="#e8c2aa" stroke-width="0.3" />
<circle cx="263.95" cy="155.35" r="0.62" fill="none" stroke="#e8c2aa" stroke-width="0.3" />
<circle cx="271.99" cy="180.66" r="0.62" fill="none" stroke="#e8c2aa" stroke-width="0.3" />
<circle cx="257.67" cy="146.89" r="0.62" fill="none" stroke="#e8c2aa" stroke-width="0.3" />
<circle cx="261.29" cy="161.54" r="0.62" fill="none" stroke="#e8c2aa" stroke-width="0.3" />
<circle cx="272.48" cy="153.11" r="0.62" fill="none" stroke="#e8c2aa" stroke-width="0.3" />
<circle cx="276.2" cy="173.61" r="0.62" fill="none" stroke="#e8c2aa" stroke-width="0.3" />
<circle cx="266.71" cy="153.38" r="0.62" fill="none" stroke="#e8c2aa" stroke-width="0.3" />
<circle cx="276.95" cy="154.35" r="0.62" fill="none" stroke="#e8c2aa" stroke-width="0.3" />
<circle cx="257.5" cy="174.42" r="0.62" fill="none" stroke="#e8c2aa" stroke-width="0.3" />
<circle cx="266.41" cy="152.7" r="0.62" fill="none" stroke="#e8c2aa" stroke-width="0.3" />
<circle cx="257.56" cy="161.41" r="0.62" fill="none" stroke="#e8c2aa" stroke-width="0.3" />
<circle cx="271.92" cy="181.56" r="0.62" fill="none" stroke="#e8c2aa" stroke-width="0.3" />
<circle cx="255.06" cy="160.51" r="0.62" fill="none" stroke="#e8c2aa" stroke-width="0.3" />
<circle cx="254.91" cy="147.56" r="0.62" fill="none" stroke="#e8c2aa" stroke-width="0.3" />
<circle cx="252.25" cy="160.51" r="0.62" fill="none" stroke="#e8c2aa" stroke-width="0.3" />
<circle cx="280.58" cy="158.08" r="0.62" fill="none" stroke="#e8c2aa" stroke-width="0.3" />
<circle cx="271.89" cy="159.95" r="0.62" fill="none" stroke="#e8c2aa" stroke-width="0.3" />
<circle cx="262.45" cy="158.17" r="0.62" fill="none" stroke="#e8c2aa" stroke-width="0.3" />
<circle cx="259.39" cy="158.92" r="0.62" fill="none" stroke="#e8c2aa" stroke-width="0.3" />
<circle cx="261.89" cy="176.74" r="0.62" fill="none" stroke="#e8c2aa" stroke-width="0.3" />
<circle cx="277.02" cy="161.99" r="0.62" fill="none" stroke="#e8c2aa" stroke-width="0.3" />
<circle cx="251.9" cy="163.54" r="0.62" fill="none" stroke="#e8c2aa" stroke-width="0.3" />
<circle cx="262.41" cy="180.45" r="0.62" fill="none" stroke="#e8c2aa" stroke-width="0.3" />
<circle cx="256.57" cy="159.41" r="0.62" fill="none" stroke="#e8c2aa" stroke-width="0.3" />
<circle cx="263.65" cy="176.37" r="0.62" fill="none" stroke="#e8c2aa" stroke-width="0.3" />
<circle cx="280.2" cy="155.34" r="0.62" fill="none" stroke="#e8c2aa" stroke-width="0.3" />
<circle cx="274.59" cy="179.66" r="0.62" fill="none" stroke="#e8c2aa" stroke-width="0.3" />
<circle cx="261.32" cy="155.92" r="0.62" fill="none" stroke="#e8c2aa" stroke-width="0.3" />
<circle cx="281.42" cy="168.98" r="0.62" fill="none" stroke="#e8c2aa" stroke-width="0.3" />
<circle cx="258.82" cy="172.76" r="0.62" fill="none" stroke="#e8c2aa" stroke-width="0.3" />
<circle cx="260.59" cy="156.05" r="0.62" fill="none" stroke="#e8c2aa" stroke-width="0.3" />
<circle cx="280.08" cy="169.63" r="0.62" fill="none" stroke="#e8c2aa" stroke-width="0.3" />
<circle cx="257.9" cy="163.61" r="0.62" fill="none" stroke="#e8c2aa" stroke-width="0.3" />
<circle cx="262.86" cy="155.11" r="0.62" fill="none" stroke="#e8c2aa" stroke-width="0.3" />
<circle cx="264.27" cy="164.3" r="0.62" fill="none" stroke="#e8c2aa" stroke-width="0.3" />
<circle cx="276.38" cy="173.59" r="0.62" fill="none" stroke="#e8c2aa" stroke-width="0.3" />
<circle cx="277.04" cy="174.89" r="0.62" fill="none" stroke="#e8c2aa" stroke-width="0.3" />
<circle cx="270.04" cy="158.02" r="0.62" fill="none" stroke="#e8c2aa" stroke-width="0.3" />
<circle cx="260.69" cy="159.31" r="0.62" fill="none" stroke="#e8c2aa" stroke-width="0.3" />
<circle cx="256.71" cy="174.13" r="0.62" fill="none" stroke="#e8c2aa" stroke-width="0.3" />
<circle cx="258.34" cy="148.05" r="0.62" fill="none" stroke="#e8c2aa" stroke-width="0.3" />
<circle cx="258.91" cy="148.79" r="0.62" fill="none" stroke="#e8c2aa" stroke-width="0.3" />
<circle cx="253.43" cy="164.49" r="0.62" fill="none" stroke="#e8c2aa" stroke-width="0.3" />
<circle cx="273.37" cy="162.54" r="0.62" fill="none" stroke="#e8c2aa" stroke-width="0.3" />
<circle cx="257.91" cy="161.4" r="0.62" fill="none" stroke="#e8c2aa" stroke-width="0.3" />
<circle cx="270.46" cy="171.15" r="0.62" fill="none" stroke="#e8c2aa" stroke-width="0.3" />
<circle cx="274.61" cy="177.7" r="0.62" fill="none" stroke="#e8c2aa" stroke-width="0.3" />
<circle cx="271.89" cy="150.19" r="0.62" fill="none" stroke="#e8c2aa" stroke-width="0.3" />
<circle cx="277.63" cy="156.73" r="0.62" fill="none" stroke="#e8c2aa" stroke-width="0.3" />
<circle cx="268.72" cy="159.74" r="0.62" fill="none" stroke="#e8c2aa" stroke-width="0.3" />
<circle cx="274.29" cy="153.15" r="0.62" fill="none" stroke="#e8c2aa" stroke-width="0.3" />
<circle cx="258.34" cy="154.9" r="0.62" fill="none" stroke="#e8c2aa" stroke-width="0.3" />
<circle cx="269.09" cy="157.97" r="0.62" fill="none" stroke="#e8c2aa" stroke-width="0.3" />
<circle cx="266.79" cy="154.37" r="0.62" fill="none" stroke="#e8c2aa" stroke-width="0.3" />
<circle cx="276.57" cy="170.36" r="0.62" fill="none" stroke="#e8c2aa" stroke-width="0.3" />
<circle cx="265.73" cy="176.64" r="0.62" fill="none" stroke="#e8c2aa" stroke-width="0.3" />
<circle cx="251.61" cy="156.73" r="0.62" fill="none" stroke="#e8c2aa" stroke-width="0.3" />
<circle cx="254.17" cy="152.78" r="0.62" fill="none" stroke="#e8c2aa" stroke-width="0.3" />
<circle cx="281.92" cy="167.7" r="0.62" fill="none" stroke="#e8c2aa" stroke-width="0.3" />
<circle cx="280.53" cy="159.71" r="0.62" fill="none" stroke="#e8c2aa" stroke-width="0.3" />
<circle cx="278.45" cy="162.62" r="0.62" fill="none" stroke="#e8c2aa" stroke-width="0.3" />
<circle cx="258.75" cy="175.08" r="0.62" fill="none" stroke="#e8c2aa" stroke-width="0.3" />
<circle cx="269.67" cy="169.1" r="0.62" fill="none" stroke="#e8c2aa" stroke-width="0.3" />
<circle cx="257.37" cy="159.57" r="0.62" fill="none" stroke="#e8c2aa" stroke-width="0.3" />
<circle cx="254.89" cy="153.33" r="0.62" fill="none" stroke="#e8c2aa" stroke-width="0.3" />
<circle cx="258.58" cy="168.32" r="0.62" fill="none" stroke="#e8c2aa" stroke-width="0.3" />
<circle cx="271.48" cy="153.31" r="0.62" fill="none" stroke="#e8c2aa" stroke-width="0.3" />
<circle cx="250.67" cy="158" r="0.62" fill="none" stroke="#e8c2aa" stroke-width="0.3" />
<circle cx="272.35" cy="152.62" r="0.62" fill="none" stroke="#e8c2aa" stroke-width="0.3" />
<circle cx="260.45" cy="153.31" r="0.62" fill="none" stroke="#e8c2aa" stroke-width="0.3" />
<circle cx="276.15" cy="166.37" r="0.62" fill="none" stroke="#e8c2aa" stroke-width="0.3" />
<circle cx="252.36" cy="149.44" r="0.62" fill="none" stroke="#e8c2aa" stroke-width="0.3" />
<circle cx="263.15" cy="166.45" r="0.62" fill="none" stroke="#e8c2aa" stroke-width="0.3" />
<circle cx="271.07" cy="149.05" r="0.62" fill="none" stroke="#e8c2aa" stroke-width="0.3" />
<circle cx="255.62" cy="171.96" r="0.62" fill="none" stroke="#e8c2aa" stroke-width="0.3" />
<circle cx="263.62" cy="156.34" r="0.62" fill="none" stroke="#e8c2aa" stroke-width="0.3" />
<circle cx="260.45" cy="167.07" r="0.62" fill="none" stroke="#e8c2aa" stroke-width="0.3" />
<circle cx="261.91" cy="161.38" r="0.62" fill="none" stroke="#e8c2aa" stroke-width="0.3" />
<circle cx="262.12" cy="153.07" r="0.62" fill="none" stroke="#e8c2aa" stroke-width="0.3" />
<circle cx="273.96" cy="153.32" r="0.62" fill="none" stroke="#e8c2aa" stroke-width="0.3" />
<circle cx="264.07" cy="176.69" r="0.62" fill="none" stroke="#e8c2aa" stroke-width="0.3" />
<circle cx="263.5" cy="179.06" r="0.62" fill="none" stroke="#e8c2aa" stroke-width="0.3" />
<circle cx="265.28" cy="151.76" r="0.62" fill="none" stroke="#e8c2aa" stroke-width="0.3" />
<circle cx="271.12" cy="180.08" r="0.62" fill="none" stroke="#e8c2aa" stroke-width="0.3" />
<circle cx="253.19" cy="169.18" r="0.62" fill="none" stroke="#e8c2aa" stroke-width="0.3" />
<circle cx="262.35" cy="164.72" r="0.62" fill="none" stroke="#e8c2aa" stroke-width="0.3" />
<circle cx="255.04" cy="156.34" r="0.62" fill="none" stroke="#e8c2aa" stroke-width="0.3" />
<circle cx="267.24" cy="180.68" r="0.62" fill="none" stroke="#e8c2aa" stroke-width="0.3" />
<circle cx="253.84" cy="164.19" r="0.62" fill="none" stroke="#e8c2aa" stroke-width="0.3" />
<circle cx="256.71" cy="150.4" r="0.62" fill="none" stroke="#e8c2aa" stroke-width="0.3" />
<circle cx="265.99" cy="147.62" r="0.62" fill="none" stroke="#e8c2aa" stroke-width="0.3" />
<circle cx="280.4" cy="160.3" r="0.62" fill="none" stroke="#e8c2aa" stroke-width="0.3" />
<circle cx="279.69" cy="169.11" r="0.62" fill="none" stroke="#e8c2aa" stroke-width="0.3" />
<circle cx="277.1" cy="151.67" r="0.62" fill="none" stroke="#e8c2aa" stroke-width="0.3" />
<circle cx="275.84" cy="154.02" r="0.62" fill="none" stroke="#e8c2aa" stroke-width="0.3" />
<circle cx="263.45" cy="177.68" r="0.62" fill="none" stroke="#e8c2aa" stroke-width="0.3" />
<circle cx="277.25" cy="152.53" r="0.62" fill="none" stroke="#e8c2aa" stroke-width="0.3" />
<circle cx="257.39" cy="160.75" r="0.62" fill="none" stroke="#e8c2aa" stroke-width="0.3" />
<circle cx="267.13" cy="160.14" r="0.62" fill="none" stroke="#e8c2aa" stroke-width="0.3" />
<circle cx="254.3" cy="154.96" r="0.62" fill="none" stroke="#e8c2aa" stroke-width="0.3" />
<circle cx="273.86" cy="179.61" r="0.62" fill="none" stroke="#e8c2aa" stroke-width="0.3" />
<circle cx="251.64" cy="166.91" r="0.62" fill="none" stroke="#e8c2aa" stroke-width="0.3" />
<circle cx="269.78" cy="166.45" r="0.62" fill="none" stroke="#e8c2aa" stroke-width="0.3" />
<circle cx="270.68" cy="157.21" r="0.62" fill="none" stroke="#e8c2aa" stroke-width="0.3" />
<circle cx="263.95" cy="167.68" r="0.62" fill="none" stroke="#e8c2aa" stroke-width="0.3" />
<circle cx="264.14" cy="170.57" r="0.62" fill="none" stroke="#e8c2aa" stroke-width="0.3" />
<circle cx="264.82" cy="162.21" r="0.62" fill="none" stroke="#e8c2aa" stroke-width="0.3" />
<circle cx="266.21" cy="154.52" r="0.62" fill="none" stroke="#e8c2aa" stroke-width="0.3" />
<circle cx="275.12" cy="175.16" r="0.62" fill="none" stroke="#e8c2aa" stroke-width="0.3" />
<circle cx="265.19" cy="152.41" r="0.62" fill="none" stroke="#e8c2aa" stroke-width="0.3" />
<circle cx="265.68" cy="149.66" r="0.62" fill="none" stroke="#e8c2aa" stroke-width="0.3" />
<circle cx="254.47" cy="161.92" r="0.62" fill="none" stroke="#e8c2aa" stroke-width="0.3" />
<circle cx="253.28" cy="162.35" r="0.62" fill="none" stroke="#e8c2aa" stroke-width="0.3" />
<circle cx="266.88" cy="147.15" r="0.62" fill="none" stroke="#e8c2aa" stroke-width="0.3" />
<circle cx="270.98" cy="148.72" r="0.62" fill="none" stroke="#e8c2aa" stroke-width="0.3" />
<circle cx="274.14" cy="175.07" r="0.62" fill="none" stroke="#e8c2aa" stroke-width="0.3" />
<circle cx="266.92" cy="147.66" r="0.62" fill="none" stroke="#e8c2aa" stroke-width="0.3" />
<circle cx="266.68" cy="159.92" r="0.62" fill="none" stroke="#e8c2aa" stroke-width="0.3" />
<circle cx="274.09" cy="176.49" r="0.62" fill="none" stroke="#e8c2aa" stroke-width="0.3" />
<circle cx="266.29" cy="181.86" r="0.62" fill="none" stroke="#e8c2aa" stroke-width="0.3" />
<circle cx="275.92" cy="180.87" r="0.62" fill="none" stroke="#e8c2aa" stroke-width="0.3" />
<circle cx="252.43" cy="158.9" r="0.62" fill="none" stroke="#e8c2aa" stroke-width="0.3" />
<circle cx="274.88" cy="151.62" r="0.62" fill="none" stroke="#e8c2aa" stroke-width="0.3" />
<circle cx="279.44" cy="156.02" r="0.62" fill="none" stroke="#e8c2aa" stroke-width="0.3" />
<circle cx="276.81" cy="151.04" r="0.62" fill="none" stroke="#e8c2aa" stroke-width="0.3" />
<circle cx="266.62" cy="180.46" r="0.62" fill="none" stroke="#e8c2aa" stroke-width="0.3" />
<circle cx="257.07" cy="155.56" r="0.62" fill="none" stroke="#e8c2aa" stroke-width="0.3" />
<circle cx="266.75" cy="157.69" r="0.62" fill="none" stroke="#e8c2aa" stroke-width="0.3" />
<circle cx="251.5" cy="152.5" r="0.62" fill="none" stroke="#e8c2aa" stroke-width="0.3" />
<circle cx="272.39" cy="179.54" r="0.62" fill="none" stroke="#e8c2aa" stroke-width="0.3" />
<circle cx="255.78" cy="175.35" r="0.62" fill="none" stroke="#e8c2aa" stroke-width="0.3" />
<circle cx="254.04" cy="165.71" r="0.62" fill="none" stroke="#e8c2aa" stroke-width="0.3" />
<circle cx="270.98" cy="159.24" r="0.62" fill="none" stroke="#e8c2aa" stroke-width="0.3" />
<circle cx="278.67" cy="166.64" r="0.62" fill="none" stroke="#e8c2aa" stroke-width="0.3" />
<circle cx="269.15" cy="179.05" r="0.62" fill="none" stroke="#e8c2aa" stroke-width="0.3" />
<circle cx="270.77" cy="160.54" r="0.62" fill="none" stroke="#e8c2aa" stroke-width="0.3" />
<circle cx="276.22" cy="155.63" r="0.62" fill="none" stroke="#e8c2aa" stroke-width="0.3" />
<circle cx="282.49" cy="167.48" r="0.62" fill="none" stroke="#e8c2aa" stroke-width="0.3" />
<circle cx="262.01" cy="174.58" r="0.62" fill="none" stroke="#e8c2aa" stroke-width="0.3" />
<circle cx="264.67" cy="152.3" r="0.62" fill="none" stroke="#e8c2aa" stroke-width="0.3" />
<circle cx="276.94" cy="155.21" r="0.62" fill="none" stroke="#e8c2aa" stroke-width="0.3" />
<circle cx="271.08" cy="182.9" r="0.62" fill="none" stroke="#e8c2aa" stroke-width="0.3" />
<circle cx="269.34" cy="170.75" r="0.62" fill="none" stroke="#e8c2aa" stroke-width="0.3" />
<circle cx="251.4" cy="151.26" r="0.62" fill="none" stroke="#e8c2aa" stroke-width="0.3" />
<circle cx="270.32" cy="161.98" r="0.62" fill="none" stroke="#e8c2aa" stroke-width="0.3" />
<circle cx="266.96" cy="179.54" r="0.62" fill="none" stroke="#e8c2aa" stroke-width="0.3" />
<circle cx="254.59" cy="154.21" r="0.62" fill="none" stroke="#e8c2aa" stroke-width="0.3" />
<circle cx="271.53" cy="146.44" r="0.62" fill="none" stroke="#e8c2aa" stroke-width="0.3" />
<circle cx="250.39" cy="159.05" r="0.62" fill="none" stroke="#e8c2aa" stroke-width="0.3" />
<circle cx="253.76" cy="159.14" r="0.62" fill="none" stroke="#e8c2aa" stroke-width="0.3" />
<circle cx="257.59" cy="167.72" r="0.62" fill="none" stroke="#e8c2aa" stroke-width="0.3" />
<circle cx="269.45" cy="153.34" r="0.62" fill="none" stroke="#e8c2aa" stroke-width="0.3" />
<circle cx="270.58" cy="163.6" r="0.62" fill="none" stroke="#e8c2aa" stroke-width="0.3" />
<circle cx="258.22" cy="151.26" r="0.62" fill="none" stroke="#e8c2aa" stroke-width="0.3" />
<circle cx="253.41" cy="169.79" r="0.62" fill="none" stroke="#e8c2aa" stroke-width="0.3" />
<circle cx="278.62" cy="175.24" r="0.62" fill="none" stroke="#e8c2aa" stroke-width="0.3" />
<circle cx="263.36" cy="155.61" r="0.62" fill="none" stroke="#e8c2aa" stroke-width="0.3" />
<circle cx="268.58" cy="158.88" r="0.62" fill="none" stroke="#e8c2aa" stroke-width="0.3" />
<circle cx="271.28" cy="162.42" r="0.62" fill="none" stroke="#e8c2aa" stroke-width="0.3" />
<circle cx="280.76" cy="173.4" r="0.62" fill="none" stroke="#e8c2aa" stroke-width="0.3" />
<circle cx="251.73" cy="165.74" r="0.62" fill="none" stroke="#e8c2aa" stroke-width="0.3" />
<circle cx="263.49" cy="154.61" r="0.62" fill="none" stroke="#e8c2aa" stroke-width="0.3" />
<circle cx="256.78" cy="168.65" r="0.62" fill="none" stroke="#e8c2aa" stroke-width="0.3" />
<circle cx="266.78" cy="169.92" r="0.62" fill="none" stroke="#e8c2aa" stroke-width="0.3" />
<circle cx="276.73" cy="152.22" r="0.62" fill="none" stroke="#e8c2aa" stroke-width="0.3" />
<circle cx="260.35" cy="156.98" r="0.62" fill="none" stroke="#e8c2aa" stroke-width="0.3" />
<circle cx="275.75" cy="172.71" r="0.62" fill="none" stroke="#e8c2aa" stroke-width="0.3" />
<circle cx="274.52" cy="163.23" r="0.62" fill="none" stroke="#e8c2aa" stroke-width="0.3" />
<circle cx="274.41" cy="162.75" r="0.62" fill="none" stroke="#e8c2aa" stroke-width="0.3" />
<circle cx="257.64" cy="149.59" r="0.62" fill="none" stroke="#e8c2aa" stroke-width="0.3" />
<circle cx="257.85" cy="147.07" r="0.62" fill="none" stroke="#e8c2aa" stroke-width="0.3" />
<circle cx="261.2" cy="174.01" r="0.62" fill="none" stroke="#e8c2aa" stroke-width="0.3" />
<circle cx="272.89" cy="177.64" r="0.62" fill="none" stroke="#e8c2aa" stroke-width="0.3" />
<circle cx="273.43" cy="155.68" r="0.62" fill="none" stroke="#e8c2aa" stroke-width="0.3" />
<circle cx="268.3" cy="162.13" r="0.62" fill="none" stroke="#e8c2aa" stroke-width="0.3" />
<circle cx="275.92" cy="165.43" r="0.62" fill="none" stroke="#e8c2aa" stroke-width="0.3" />
<circle cx="258.92" cy="169.93" r="0.62" fill="none" stroke="#e8c2aa" stroke-width="0.3" />
<circle cx="258.76" cy="154.55" r="0.62" fill="none" stroke="#e8c2aa" stroke-width="0.3" />
<circle cx="274.48" cy="181.4" r="0.62" fill="none" stroke="#e8c2aa" stroke-width="0.3" />
<circle cx="274.55" cy="157.99" r="0.62" fill="none" stroke="#e8c2aa" stroke-width="0.3" />
<circle cx="278.91" cy="158.05" r="0.62" fill="none" stroke="#e8c2aa" stroke-width="0.3" />
<circle cx="270.8" cy="171.86" r="0.62" fill="none" stroke="#e8c2aa" stroke-width="0.3" />
<circle cx="271.92" cy="182.7" r="0.62" fill="none" stroke="#e8c2aa" stroke-width="0.3" />
<circle cx="265.56" cy="177.43" r="0.62" fill="none" stroke="#e8c2aa" stroke-width="0.3" />
<circle cx="272.97" cy="178.1" r="0.62" fill="none" stroke="#e8c2aa" stroke-width="0.3" />
<circle cx="264.51" cy="173.06" r="0.62" fill="none" stroke="#e8c2aa" stroke-width="0.3" />
<circle cx="268.84" cy="157.26" r="0.62" fill="none" stroke="#e8c2aa" stroke-width="0.3" />
<circle cx="257.19" cy="169.2" r="0.62" fill="none" stroke="#e8c2aa" stroke-width="0.3" />
<circle cx="255" cy="146.62" r="0.62" fill="none" stroke="#e8c2aa" stroke-width="0.3" />
<circle cx="261.51" cy="150.98" r="0.62" fill="none" stroke="#e8c2aa" stroke-width="0.3" />
<circle cx="272.81" cy="169.62" r="0.62" fill="none" stroke="#e8c2aa" stroke-width="0.3" />
<circle cx="287.11" cy="163.55" r="0.6" fill="none" stroke="#7a9450" stroke-width="0.32" />
<circle cx="277.95" cy="161.36" r="0.6" fill="none" stroke="#7a9450" stroke-width="0.32" />
<circle cx="282.27" cy="164.76" r="0.6" fill="none" stroke="#7a9450" stroke-width="0.32" />
<circle cx="278.55" cy="155.59" r="0.6" fill="none" stroke="#7a9450" stroke-width="0.32" />
<circle cx="286.2" cy="164.88" r="0.6" fill="none" stroke="#7a9450" stroke-width="0.32" />
<circle cx="286.16" cy="156.81" r="0.6" fill="none" stroke="#7a9450" stroke-width="0.32" />
<circle cx="278.45" cy="153.97" r="0.6" fill="none" stroke="#7a9450" stroke-width="0.32" />
<circle cx="281.63" cy="158.86" r="0.6" fill="none" stroke="#7a9450" stroke-width="0.32" />
<circle cx="277.3" cy="156.35" r="0.6" fill="none" stroke="#7a9450" stroke-width="0.32" />
<circle cx="281.1" cy="163.24" r="0.6" fill="none" stroke="#7a9450" stroke-width="0.32" />
<circle cx="282.34" cy="157.31" r="0.6" fill="none" stroke="#7a9450" stroke-width="0.32" />
<circle cx="289.34" cy="161.77" r="0.6" fill="none" stroke="#7a9450" stroke-width="0.32" />
<circle cx="277.45" cy="158.69" r="0.6" fill="none" stroke="#7a9450" stroke-width="0.32" />
<circle cx="283.33" cy="164.1" r="0.6" fill="none" stroke="#7a9450" stroke-width="0.32" />
<circle cx="282.03" cy="163.07" r="0.6" fill="none" stroke="#7a9450" stroke-width="0.32" />
<circle cx="284.8" cy="155.75" r="0.6" fill="none" stroke="#7a9450" stroke-width="0.32" />
<circle cx="277.06" cy="159.86" r="0.6" fill="none" stroke="#7a9450" stroke-width="0.32" />
<circle cx="284.13" cy="164.45" r="0.6" fill="none" stroke="#7a9450" stroke-width="0.32" />
<circle cx="279.68" cy="159.92" r="0.6" fill="none" stroke="#7a9450" stroke-width="0.32" />
<circle cx="282.03" cy="164.98" r="0.6" fill="none" stroke="#7a9450" stroke-width="0.32" />
<circle cx="280.78" cy="166.66" r="0.6" fill="none" stroke="#7a9450" stroke-width="0.32" />
<circle cx="281.11" cy="155.72" r="0.6" fill="none" stroke="#7a9450" stroke-width="0.32" />
<circle cx="287.14" cy="159.97" r="0.6" fill="none" stroke="#7a9450" stroke-width="0.32" />
<circle cx="278.59" cy="162.05" r="0.6" fill="none" stroke="#7a9450" stroke-width="0.32" />
<circle cx="278.17" cy="164.32" r="0.6" fill="none" stroke="#7a9450" stroke-width="0.32" />
<circle cx="287.11" cy="164.3" r="0.6" fill="none" stroke="#7a9450" stroke-width="0.32" />
<circle cx="286.11" cy="157.83" r="0.6" fill="none" stroke="#7a9450" stroke-width="0.32" />
<circle cx="282.82" cy="158.42" r="0.6" fill="none" stroke="#7a9450" stroke-width="0.32" />
<circle cx="279.99" cy="156.45" r="0.6" fill="none" stroke="#7a9450" stroke-width="0.32" />
<circle cx="290.07" cy="160.02" r="0.6" fill="none" stroke="#7a9450" stroke-width="0.32" />
<circle cx="282.5" cy="165.76" r="0.6" fill="none" stroke="#7a9450" stroke-width="0.32" />
<circle cx="280.39" cy="159.41" r="0.6" fill="none" stroke="#7a9450" stroke-width="0.32" />
<circle cx="284.71" cy="163.82" r="0.6" fill="none" stroke="#7a9450" stroke-width="0.32" />
<circle cx="287.92" cy="162.19" r="0.6" fill="none" stroke="#7a9450" stroke-width="0.32" />
<circle cx="282.05" cy="157.4" r="0.6" fill="none" stroke="#7a9450" stroke-width="0.32" />
<circle cx="279.25" cy="165.15" r="0.6" fill="none" stroke="#7a9450" stroke-width="0.32" />
<circle cx="286.6" cy="163.63" r="0.6" fill="none" stroke="#7a9450" stroke-width="0.32" />
<circle cx="279.46" cy="159.08" r="0.6" fill="none" stroke="#7a9450" stroke-width="0.32" />
<circle cx="288.21" cy="161.19" r="0.6" fill="none" stroke="#7a9450" stroke-width="0.32" />
<circle cx="278.83" cy="159.43" r="0.6" fill="none" stroke="#7a9450" stroke-width="0.32" />
<circle cx="279.78" cy="157.02" r="0.6" fill="none" stroke="#7a9450" stroke-width="0.32" />
<circle cx="287.2" cy="165.15" r="0.6" fill="none" stroke="#7a9450" stroke-width="0.32" />
<circle cx="279.24" cy="154.84" r="0.6" fill="none" stroke="#7a9450" stroke-width="0.32" />
<circle cx="280.59" cy="157.4" r="0.6" fill="none" stroke="#7a9450" stroke-width="0.32" />
<circle cx="284.57" cy="154.91" r="0.6" fill="none" stroke="#7a9450" stroke-width="0.32" />
<circle cx="284.53" cy="176.62" r="0.6" fill="none" stroke="#9496d2" stroke-width="0.32" />
<circle cx="281.4" cy="179.84" r="0.6" fill="none" stroke="#9496d2" stroke-width="0.32" />
<circle cx="290.12" cy="180.68" r="0.6" fill="none" stroke="#9496d2" stroke-width="0.32" />
<circle cx="282.71" cy="184.03" r="0.6" fill="none" stroke="#9496d2" stroke-width="0.32" />
<circle cx="285.51" cy="186.55" r="0.6" fill="none" stroke="#9496d2" stroke-width="0.32" />
<circle cx="289.57" cy="181.76" r="0.6" fill="none" stroke="#9496d2" stroke-width="0.32" />
<circle cx="288.73" cy="181.14" r="0.6" fill="none" stroke="#9496d2" stroke-width="0.32" />
<circle cx="281.96" cy="183.46" r="0.6" fill="none" stroke="#9496d2" stroke-width="0.32" />
<circle cx="285.59" cy="185.73" r="0.6" fill="none" stroke="#9496d2" stroke-width="0.32" />
<circle cx="292.53" cy="180.6" r="0.6" fill="none" stroke="#9496d2" stroke-width="0.32" />
<circle cx="287.92" cy="185.86" r="0.6" fill="none" stroke="#9496d2" stroke-width="0.32" />
<circle cx="285.81" cy="177.27" r="0.6" fill="none" stroke="#9496d2" stroke-width="0.32" />
<circle cx="289.97" cy="188.02" r="0.6" fill="none" stroke="#9496d2" stroke-width="0.32" />
<circle cx="290.68" cy="185.05" r="0.6" fill="none" stroke="#9496d2" stroke-width="0.32" />
<circle cx="291.76" cy="184.71" r="0.6" fill="none" stroke="#9496d2" stroke-width="0.32" />
<circle cx="288.85" cy="180.99" r="0.6" fill="none" stroke="#9496d2" stroke-width="0.32" />
<circle cx="284.32" cy="183.87" r="0.6" fill="none" stroke="#9496d2" stroke-width="0.32" />
<circle cx="281.35" cy="180.42" r="0.6" fill="none" stroke="#9496d2" stroke-width="0.32" />
<circle cx="290.8" cy="185.27" r="0.6" fill="none" stroke="#9496d2" stroke-width="0.32" />
<circle cx="288.69" cy="177.63" r="0.6" fill="none" stroke="#9496d2" stroke-width="0.32" />
<circle cx="285.85" cy="181.01" r="0.6" fill="none" stroke="#9496d2" stroke-width="0.32" />
<circle cx="288.58" cy="180.25" r="0.6" fill="none" stroke="#9496d2" stroke-width="0.32" />
<circle cx="289.32" cy="188.85" r="0.6" fill="none" stroke="#9496d2" stroke-width="0.32" />
<circle cx="282.53" cy="184.3" r="0.6" fill="none" stroke="#9496d2" stroke-width="0.32" />
<circle cx="290.74" cy="179.91" r="0.6" fill="none" stroke="#9496d2" stroke-width="0.32" />
<circle cx="286.76" cy="189.58" r="0.6" fill="none" stroke="#9496d2" stroke-width="0.32" />
<circle cx="280.53" cy="182.47" r="0.6" fill="none" stroke="#9496d2" stroke-width="0.32" />
<circle cx="282.22" cy="186.4" r="0.6" fill="none" stroke="#9496d2" stroke-width="0.32" />
<circle cx="292.98" cy="182.07" r="0.6" fill="none" stroke="#9496d2" stroke-width="0.32" />
<circle cx="281.4" cy="182.98" r="0.6" fill="none" stroke="#9496d2" stroke-width="0.32" />
<circle cx="287.47" cy="185.34" r="0.6" fill="none" stroke="#9496d2" stroke-width="0.32" />
<circle cx="287.07" cy="184.05" r="0.6" fill="none" stroke="#9496d2" stroke-width="0.32" />
<circle cx="291.44" cy="182.11" r="0.6" fill="none" stroke="#9496d2" stroke-width="0.32" />
<circle cx="285.66" cy="189.14" r="0.6" fill="none" stroke="#9496d2" stroke-width="0.32" />
<circle cx="282.9" cy="184.79" r="0.6" fill="none" stroke="#9496d2" stroke-width="0.32" />
<circle cx="285.42" cy="186.08" r="0.6" fill="none" stroke="#9496d2" stroke-width="0.32" />
<circle cx="283.79" cy="180.09" r="0.6" fill="none" stroke="#9496d2" stroke-width="0.32" />
<circle cx="285.8" cy="185.02" r="0.6" fill="none" stroke="#9496d2" stroke-width="0.32" />
<circle cx="284.86" cy="177.88" r="0.6" fill="none" stroke="#9496d2" stroke-width="0.32" />
<circle cx="283.1" cy="185.73" r="0.6" fill="none" stroke="#9496d2" stroke-width="0.32" />
<circle cx="292.97" cy="182.2" r="0.6" fill="none" stroke="#9496d2" stroke-width="0.32" />
<circle cx="283.02" cy="186.72" r="0.6" fill="none" stroke="#9496d2" stroke-width="0.32" />
<circle cx="285.41" cy="177" r="0.6" fill="none" stroke="#9496d2" stroke-width="0.32" />
<circle cx="281.78" cy="186.31" r="0.6" fill="none" stroke="#9496d2" stroke-width="0.32" />
<circle cx="291.17" cy="183.97" r="0.6" fill="none" stroke="#9496d2" stroke-width="0.32" />
<circle cx="286.47" cy="182.77" r="0.6" fill="none" stroke="#9496d2" stroke-width="0.32" />
<circle cx="284.87" cy="184.04" r="0.6" fill="none" stroke="#9496d2" stroke-width="0.32" />
<circle cx="291.3" cy="186.97" r="0.6" fill="none" stroke="#9496d2" stroke-width="0.32" />
<circle cx="286.46" cy="178.36" r="0.6" fill="none" stroke="#9496d2" stroke-width="0.32" />
<circle cx="287.57" cy="175.57" r="0.6" fill="none" stroke="#9496d2" stroke-width="0.32" />
<circle cx="291.51" cy="179.35" r="0.6" fill="none" stroke="#9496d2" stroke-width="0.32" />
<circle cx="285.19" cy="177.68" r="0.6" fill="none" stroke="#9496d2" stroke-width="0.32" />
<circle cx="285.88" cy="176.57" r="0.6" fill="none" stroke="#9496d2" stroke-width="0.32" />
<circle cx="283.88" cy="177.54" r="0.6" fill="none" stroke="#9496d2" stroke-width="0.32" />
<circle cx="284.17" cy="181.41" r="0.6" fill="none" stroke="#9496d2" stroke-width="0.32" />
<circle cx="285.91" cy="184.02" r="0.6" fill="none" stroke="#9496d2" stroke-width="0.32" />
<circle cx="289.1" cy="179.48" r="0.6" fill="none" stroke="#9496d2" stroke-width="0.32" />
<circle cx="292.5" cy="186.44" r="0.6" fill="none" stroke="#9496d2" stroke-width="0.32" />
<circle cx="281.94" cy="187.22" r="0.6" fill="none" stroke="#9496d2" stroke-width="0.32" />
<circle cx="289.05" cy="177.63" r="0.6" fill="none" stroke="#9496d2" stroke-width="0.32" />
<circle cx="267.3" cy="143.7" r="0.95" fill="#b8a8a8" stroke="none" stroke-width="0.5" />
<text x="270.4" y="145.5" font-size="5.4" fill="#262626" textLength="25.4" lengthAdjust="spacingAndGlyphs">CCR7+ FO</text>
<circle cx="289.6" cy="168" r="1" fill="#222" stroke="none" stroke-width="0.5" />
<text x="292.7" y="169.8" font-size="5.4" fill="#262626" textLength="24.6" lengthAdjust="spacingAndGlyphs">CD38+ T/B</text>
<text x="252.7" y="191.3" font-size="5.4" fill="#262626" textLength="23.8" lengthAdjust="spacingAndGlyphs">ITGAX+ aN</text>
<circle cx="280.7" cy="189.5" r="1" fill="#7a7ac0" stroke="none" stroke-width="0.5" />
<line x1="336.6" y1="141.2" x2="336.6" y2="195.2" stroke="#222" stroke-width="0.9" />
<line x1="336.6" y1="195.2" x2="391.2" y2="195.2" stroke="#222" stroke-width="0.9" />
<text x="363.6" y="203" font-size="6.48" text-anchor="middle" font-weight="bold" fill="#262626" textLength="19" lengthAdjust="spacingAndGlyphs">UMAP_1</text>
<text x="332.8" y="168.5" font-size="6.48" text-anchor="middle" font-weight="bold" fill="#262626" textLength="19" lengthAdjust="spacingAndGlyphs" transform="rotate(-90 332.8 168.5)">UMAP_2</text>
<circle cx="357.93" cy="164.85" r="0.62" fill="none" stroke="#86c486" stroke-width="0.3" />
<circle cx="377.46" cy="161.94" r="0.62" fill="none" stroke="#86c486" stroke-width="0.3" />
<circle cx="360.22" cy="165.71" r="0.62" fill="none" stroke="#86c486" stroke-width="0.3" />
<circle cx="346.84" cy="163.37" r="0.62" fill="none" stroke="#ec7e6e" stroke-width="0.3" />
<circle cx="365.28" cy="172.08" r="0.62" fill="none" stroke="#86c486" stroke-width="0.3" />
<circle cx="343.1" cy="156.91" r="0.62" fill="none" stroke="#86c486" stroke-width="0.3" />
<circle cx="342.95" cy="172.6" r="0.62" fill="none" stroke="#ec7e6e" stroke-width="0.3" />
<circle cx="366.27" cy="166.58" r="0.62" fill="none" stroke="#ec7e6e" stroke-width="0.3" />
<circle cx="345.72" cy="147.97" r="0.62" fill="none" stroke="#86c486" stroke-width="0.3" />
<circle cx="361.07" cy="149.35" r="0.62" fill="none" stroke="#86c486" stroke-width="0.3" />
<circle cx="347.07" cy="155" r="0.62" fill="none" stroke="#ec7e6e" stroke-width="0.3" />
<circle cx="340.45" cy="161.88" r="0.62" fill="none" stroke="#ec7e6e" stroke-width="0.3" />
<circle cx="357.44" cy="173.62" r="0.62" fill="none" stroke="#ec7e6e" stroke-width="0.3" />
<circle cx="360.69" cy="167.35" r="0.62" fill="none" stroke="#86c486" stroke-width="0.3" />
<circle cx="359.89" cy="168.04" r="0.62" fill="none" stroke="#86c486" stroke-width="0.3" />
<circle cx="358.13" cy="156.12" r="0.62" fill="none" stroke="#86c486" stroke-width="0.3" />
<circle cx="373.98" cy="169.44" r="0.62" fill="none" stroke="#86c486" stroke-width="0.3" />
<circle cx="352.25" cy="154.62" r="0.62" fill="none" stroke="#ec7e6e" stroke-width="0.3" />
<circle cx="351.17" cy="149.68" r="0.62" fill="none" stroke="#86c486" stroke-width="0.3" />
<circle cx="370.92" cy="159.91" r="0.62" fill="none" stroke="#86c486" stroke-width="0.3" />
<circle cx="374.25" cy="159.48" r="0.62" fill="none" stroke="#86c486" stroke-width="0.3" />
<circle cx="376.89" cy="162.07" r="0.62" fill="none" stroke="#86c486" stroke-width="0.3" />
<circle cx="379.79" cy="159.82" r="0.62" fill="none" stroke="#86c486" stroke-width="0.3" />
<circle cx="342.22" cy="167.01" r="0.62" fill="none" stroke="#ec7e6e" stroke-width="0.3" />
<circle cx="371.43" cy="155.86" r="0.62" fill="none" stroke="#86c486" stroke-width="0.3" />
<circle cx="342.81" cy="157.81" r="0.62" fill="none" stroke="#ec7e6e" stroke-width="0.3" />
<circle cx="344.08" cy="155.14" r="0.62" fill="none" stroke="#ec7e6e" stroke-width="0.3" />
<circle cx="343.38" cy="149.36" r="0.62" fill="none" stroke="#ec7e6e" stroke-width="0.3" />
<circle cx="362.35" cy="161.37" r="0.62" fill="none" stroke="#86c486" stroke-width="0.3" />
<circle cx="347.09" cy="170.19" r="0.62" fill="none" stroke="#ec7e6e" stroke-width="0.3" />
<circle cx="344.62" cy="167.46" r="0.62" fill="none" stroke="#86c486" stroke-width="0.3" />
<circle cx="344.02" cy="160.54" r="0.62" fill="none" stroke="#ec7e6e" stroke-width="0.3" />
<circle cx="348.01" cy="155.86" r="0.62" fill="none" stroke="#ec7e6e" stroke-width="0.3" />
<circle cx="351.79" cy="174.93" r="0.62" fill="none" stroke="#ec7e6e" stroke-width="0.3" />
<circle cx="347.92" cy="159.72" r="0.62" fill="none" stroke="#ec7e6e" stroke-width="0.3" />
<circle cx="374.57" cy="167.4" r="0.62" fill="none" stroke="#ec7e6e" stroke-width="0.3" />
<circle cx="348.03" cy="155.51" r="0.62" fill="none" stroke="#ec7e6e" stroke-width="0.3" />
<circle cx="371.19" cy="157.7" r="0.62" fill="none" stroke="#ec7e6e" stroke-width="0.3" />
<circle cx="351.47" cy="149.78" r="0.62" fill="none" stroke="#ec7e6e" stroke-width="0.3" />
<circle cx="342.93" cy="165.56" r="0.62" fill="none" stroke="#ec7e6e" stroke-width="0.3" />
<circle cx="349.26" cy="166.14" r="0.62" fill="none" stroke="#86c486" stroke-width="0.3" />
<circle cx="354.59" cy="161.55" r="0.62" fill="none" stroke="#ec7e6e" stroke-width="0.3" />
<circle cx="378.91" cy="162.5" r="0.62" fill="none" stroke="#86c486" stroke-width="0.3" />
<circle cx="362.99" cy="174.36" r="0.62" fill="none" stroke="#ec7e6e" stroke-width="0.3" />
<circle cx="346.77" cy="152.28" r="0.62" fill="none" stroke="#ec7e6e" stroke-width="0.3" />
<circle cx="349.53" cy="153.38" r="0.62" fill="none" stroke="#ec7e6e" stroke-width="0.3" />
<circle cx="375.72" cy="166.21" r="0.62" fill="none" stroke="#ec7e6e" stroke-width="0.3" />
<circle cx="356.65" cy="150.72" r="0.62" fill="none" stroke="#86c486" stroke-width="0.3" />
<circle cx="349.07" cy="169.34" r="0.62" fill="none" stroke="#86c486" stroke-width="0.3" />
<circle cx="349.84" cy="173.04" r="0.62" fill="none" stroke="#86c486" stroke-width="0.3" />
<circle cx="363.89" cy="156.6" r="0.62" fill="none" stroke="#86c486" stroke-width="0.3" />
<circle cx="346.46" cy="169.83" r="0.62" fill="none" stroke="#ec7e6e" stroke-width="0.3" />
<circle cx="342.05" cy="154.58" r="0.62" fill="none" stroke="#ec7e6e" stroke-width="0.3" />
<circle cx="362.36" cy="173.92" r="0.62" fill="none" stroke="#86c486" stroke-width="0.3" />
<circle cx="364.63" cy="156.19" r="0.62" fill="none" stroke="#86c486" stroke-width="0.3" />
<circle cx="339.89" cy="155.85" r="0.62" fill="none" stroke="#ec7e6e" stroke-width="0.3" />
<circle cx="357.65" cy="149.37" r="0.62" fill="none" stroke="#ec7e6e" stroke-width="0.3" />
<circle cx="346.5" cy="158.93" r="0.62" fill="none" stroke="#ec7e6e" stroke-width="0.3" />
<circle cx="362.89" cy="151.58" r="0.62" fill="none" stroke="#86c486" stroke-width="0.3" />
<circle cx="354.19" cy="175.12" r="0.62" fill="none" stroke="#86c486" stroke-width="0.3" />
<circle cx="367.82" cy="165.62" r="0.62" fill="none" stroke="#86c486" stroke-width="0.3" />
<circle cx="345.01" cy="148.59" r="0.62" fill="none" stroke="#ec7e6e" stroke-width="0.3" />
<circle cx="340.08" cy="167.22" r="0.62" fill="none" stroke="#ec7e6e" stroke-width="0.3" />
<circle cx="359.16" cy="170.15" r="0.62" fill="none" stroke="#ec7e6e" stroke-width="0.3" />
<circle cx="342.32" cy="164.43" r="0.62" fill="none" stroke="#ec7e6e" stroke-width="0.3" />
<circle cx="369.72" cy="169.31" r="0.62" fill="none" stroke="#ec7e6e" stroke-width="0.3" />
<circle cx="353.77" cy="168.74" r="0.62" fill="none" stroke="#ec7e6e" stroke-width="0.3" />
<circle cx="356.47" cy="172.01" r="0.62" fill="none" stroke="#ec7e6e" stroke-width="0.3" />
<circle cx="374.95" cy="165.26" r="0.62" fill="none" stroke="#ec7e6e" stroke-width="0.3" />
<circle cx="365.07" cy="159.35" r="0.62" fill="none" stroke="#86c486" stroke-width="0.3" />
<circle cx="363.32" cy="166.37" r="0.62" fill="none" stroke="#86c486" stroke-width="0.3" />
<circle cx="342.52" cy="167.32" r="0.62" fill="none" stroke="#ec7e6e" stroke-width="0.3" />
<circle cx="369.35" cy="159.54" r="0.62" fill="none" stroke="#86c486" stroke-width="0.3" />
<circle cx="369.63" cy="165.51" r="0.62" fill="none" stroke="#ec7e6e" stroke-width="0.3" />
<circle cx="357.44" cy="173.49" r="0.62" fill="none" stroke="#ec7e6e" stroke-width="0.3" />
<circle cx="342.67" cy="170.76" r="0.62" fill="none" stroke="#ec7e6e" stroke-width="0.3" />
<circle cx="340.43" cy="166.14" r="0.62" fill="none" stroke="#ec7e6e" stroke-width="0.3" />
<circle cx="359.11" cy="154.64" r="0.62" fill="none" stroke="#ec7e6e" stroke-width="0.3" />
<circle cx="368.11" cy="162.91" r="0.62" fill="none" stroke="#86c486" stroke-width="0.3" />
<circle cx="364.64" cy="176.03" r="0.62" fill="none" stroke="#ec7e6e" stroke-width="0.3" />
<circle cx="349.79" cy="147.85" r="0.62" fill="none" stroke="#ec7e6e" stroke-width="0.3" />
<circle cx="351.66" cy="168.52" r="0.62" fill="none" stroke="#ec7e6e" stroke-width="0.3" />
<circle cx="347.59" cy="152.76" r="0.62" fill="none" stroke="#ec7e6e" stroke-width="0.3" />
<circle cx="357.5" cy="175.14" r="0.62" fill="none" stroke="#86c486" stroke-width="0.3" />
<circle cx="352.74" cy="168.14" r="0.62" fill="none" stroke="#ec7e6e" stroke-width="0.3" />
<circle cx="347.42" cy="160.86" r="0.62" fill="none" stroke="#ec7e6e" stroke-width="0.3" />
<circle cx="375.64" cy="159.42" r="0.62" fill="none" stroke="#86c486" stroke-width="0.3" />
<circle cx="363.34" cy="157.31" r="0.62" fill="none" stroke="#86c486" stroke-width="0.3" />
<circle cx="344.84" cy="162.89" r="0.62" fill="none" stroke="#ec7e6e" stroke-width="0.3" />
<circle cx="350.66" cy="152.74" r="0.62" fill="none" stroke="#86c486" stroke-width="0.3" />
<circle cx="357.86" cy="156.03" r="0.62" fill="none" stroke="#ec7e6e" stroke-width="0.3" />
<circle cx="348.06" cy="160.33" r="0.62" fill="none" stroke="#86c486" stroke-width="0.3" />
<circle cx="365.11" cy="162.81" r="0.62" fill="none" stroke="#86c486" stroke-width="0.3" />
<circle cx="352.26" cy="173.51" r="0.62" fill="none" stroke="#86c486" stroke-width="0.3" />
<circle cx="379.86" cy="161.53" r="0.62" fill="none" stroke="#86c486" stroke-width="0.3" />
<circle cx="342.29" cy="148.48" r="0.62" fill="none" stroke="#ec7e6e" stroke-width="0.3" />
<circle cx="368.54" cy="165.19" r="0.62" fill="none" stroke="#86c486" stroke-width="0.3" />
<circle cx="351.99" cy="172.04" r="0.62" fill="none" stroke="#86c486" stroke-width="0.3" />
<circle cx="373.55" cy="154.86" r="0.62" fill="none" stroke="#ec7e6e" stroke-width="0.3" />
<circle cx="345.03" cy="148.96" r="0.62" fill="none" stroke="#ec7e6e" stroke-width="0.3" />
<circle cx="365.25" cy="161.34" r="0.62" fill="none" stroke="#86c486" stroke-width="0.3" />
<circle cx="365.28" cy="167.81" r="0.62" fill="none" stroke="#ec7e6e" stroke-width="0.3" />
<circle cx="367.54" cy="153.68" r="0.62" fill="none" stroke="#ec7e6e" stroke-width="0.3" />
<circle cx="358.87" cy="153.04" r="0.62" fill="none" stroke="#86c486" stroke-width="0.3" />
<circle cx="339.65" cy="162.14" r="0.62" fill="none" stroke="#ec7e6e" stroke-width="0.3" />
<circle cx="368.77" cy="153.05" r="0.62" fill="none" stroke="#86c486" stroke-width="0.3" />
<circle cx="350.48" cy="158.22" r="0.62" fill="none" stroke="#ec7e6e" stroke-width="0.3" />
<circle cx="368.07" cy="163.63" r="0.62" fill="none" stroke="#86c486" stroke-width="0.3" />
<circle cx="364.64" cy="170.94" r="0.62" fill="none" stroke="#ec7e6e" stroke-width="0.3" />
<circle cx="355.49" cy="172.05" r="0.62" fill="none" stroke="#86c486" stroke-width="0.3" />
<circle cx="344.58" cy="161.56" r="0.62" fill="none" stroke="#ec7e6e" stroke-width="0.3" />
<circle cx="365.1" cy="175.71" r="0.62" fill="none" stroke="#ec7e6e" stroke-width="0.3" />
<circle cx="354.8" cy="165.13" r="0.62" fill="none" stroke="#86c486" stroke-width="0.3" />
<circle cx="378.29" cy="161.87" r="0.62" fill="none" stroke="#ec7e6e" stroke-width="0.3" />
<circle cx="366.16" cy="153.85" r="0.62" fill="none" stroke="#ec7e6e" stroke-width="0.3" />
<circle cx="369.09" cy="172.87" r="0.62" fill="none" stroke="#ec7e6e" stroke-width="0.3" />
<circle cx="365.76" cy="169.75" r="0.62" fill="none" stroke="#ec7e6e" stroke-width="0.3" />
<circle cx="348.03" cy="175.4" r="0.62" fill="none" stroke="#86c486" stroke-width="0.3" />
<circle cx="361.43" cy="172.01" r="0.62" fill="none" stroke="#ec7e6e" stroke-width="0.3" />
<circle cx="352.46" cy="175.71" r="0.62" fill="none" stroke="#ec7e6e" stroke-width="0.3" />
<circle cx="374.63" cy="158.3" r="0.62" fill="none" stroke="#ec7e6e" stroke-width="0.3" />
<circle cx="342.63" cy="161.17" r="0.62" fill="none" stroke="#ec7e6e" stroke-width="0.3" />
<circle cx="361.98" cy="171.32" r="0.62" fill="none" stroke="#86c486" stroke-width="0.3" />
<circle cx="353.07" cy="171.93" r="0.62" fill="none" stroke="#86c486" stroke-width="0.3" />
<circle cx="345.02" cy="152.11" r="0.62" fill="none" stroke="#ec7e6e" stroke-width="0.3" />
<circle cx="360.58" cy="169.93" r="0.62" fill="none" stroke="#86c486" stroke-width="0.3" />
<circle cx="373.98" cy="168.87" r="0.62" fill="none" stroke="#86c486" stroke-width="0.3" />
<circle cx="378.35" cy="162.77" r="0.62" fill="none" stroke="#86c486" stroke-width="0.3" />
<circle cx="348.37" cy="163.83" r="0.62" fill="none" stroke="#ec7e6e" stroke-width="0.3" />
<circle cx="351.21" cy="170.09" r="0.62" fill="none" stroke="#ec7e6e" stroke-width="0.3" />
<circle cx="365.65" cy="163.71" r="0.62" fill="none" stroke="#ec7e6e" stroke-width="0.3" />
<circle cx="374.13" cy="164.86" r="0.62" fill="none" stroke="#86c486" stroke-width="0.3" />
<circle cx="352.1" cy="159.32" r="0.62" fill="none" stroke="#ec7e6e" stroke-width="0.3" />
<circle cx="347.82" cy="173.87" r="0.62" fill="none" stroke="#ec7e6e" stroke-width="0.3" />
<circle cx="379.29" cy="163.75" r="0.62" fill="none" stroke="#ec7e6e" stroke-width="0.3" />
<circle cx="362.92" cy="153.73" r="0.62" fill="none" stroke="#86c486" stroke-width="0.3" />
<circle cx="361.39" cy="163.1" r="0.62" fill="none" stroke="#ec7e6e" stroke-width="0.3" />
<circle cx="379.33" cy="163.5" r="0.62" fill="none" stroke="#ec7e6e" stroke-width="0.3" />
<circle cx="355.78" cy="172.33" r="0.62" fill="none" stroke="#86c486" stroke-width="0.3" />
<circle cx="362.5" cy="162.72" r="0.62" fill="none" stroke="#ec7e6e" stroke-width="0.3" />
<circle cx="361.5" cy="160.33" r="0.62" fill="none" stroke="#86c486" stroke-width="0.3" />
<circle cx="350.35" cy="162.17" r="0.62" fill="none" stroke="#86c486" stroke-width="0.3" />
<circle cx="344.46" cy="160.94" r="0.62" fill="none" stroke="#ec7e6e" stroke-width="0.3" />
<circle cx="358.93" cy="157.33" r="0.62" fill="none" stroke="#ec7e6e" stroke-width="0.3" />
<circle cx="347.13" cy="166.65" r="0.62" fill="none" stroke="#ec7e6e" stroke-width="0.3" />
<circle cx="347.24" cy="154.55" r="0.62" fill="none" stroke="#86c486" stroke-width="0.3" />
<circle cx="367.64" cy="157.48" r="0.62" fill="none" stroke="#86c486" stroke-width="0.3" />
<circle cx="353.91" cy="166.71" r="0.62" fill="none" stroke="#86c486" stroke-width="0.3" />
<circle cx="343.54" cy="170.16" r="0.62" fill="none" stroke="#ec7e6e" stroke-width="0.3" />
<circle cx="344.28" cy="163.32" r="0.62" fill="none" stroke="#ec7e6e" stroke-width="0.3" />
<circle cx="349.57" cy="153.63" r="0.62" fill="none" stroke="#ec7e6e" stroke-width="0.3" />
<circle cx="361.16" cy="161.04" r="0.62" fill="none" stroke="#86c486" stroke-width="0.3" />
<circle cx="354.76" cy="160.32" r="0.62" fill="none" stroke="#ec7e6e" stroke-width="0.3" />
<circle cx="361.11" cy="152.45" r="0.62" fill="none" stroke="#ec7e6e" stroke-width="0.3" />
<circle cx="347.66" cy="167.07" r="0.62" fill="none" stroke="#ec7e6e" stroke-width="0.3" />
<circle cx="365.63" cy="163.92" r="0.62" fill="none" stroke="#86c486" stroke-width="0.3" />
<circle cx="374.44" cy="166.46" r="0.62" fill="none" stroke="#ec7e6e" stroke-width="0.3" />
<circle cx="369.87" cy="172.63" r="0.62" fill="none" stroke="#ec7e6e" stroke-width="0.3" />
<circle cx="376.57" cy="157.29" r="0.62" fill="none" stroke="#ec7e6e" stroke-width="0.3" />
<circle cx="352.24" cy="176.11" r="0.62" fill="none" stroke="#ec7e6e" stroke-width="0.3" />
<circle cx="349.11" cy="170.02" r="0.62" fill="none" stroke="#ec7e6e" stroke-width="0.3" />
<circle cx="349.94" cy="150.51" r="0.62" fill="none" stroke="#ec7e6e" stroke-width="0.3" />
<circle cx="373.65" cy="160.57" r="0.62" fill="none" stroke="#ec7e6e" stroke-width="0.3" />
<circle cx="355.88" cy="168.74" r="0.62" fill="none" stroke="#86c486" stroke-width="0.3" />
<circle cx="360.14" cy="171" r="0.62" fill="none" stroke="#86c486" stroke-width="0.3" />
<circle cx="360.02" cy="168.76" r="0.62" fill="none" stroke="#86c486" stroke-width="0.3" />
<circle cx="347.02" cy="149.69" r="0.62" fill="none" stroke="#ec7e6e" stroke-width="0.3" />
<circle cx="343.6" cy="148.66" r="0.62" fill="none" stroke="#ec7e6e" stroke-width="0.3" />
<circle cx="362.04" cy="163.46" r="0.62" fill="none" stroke="#86c486" stroke-width="0.3" />
<circle cx="362.75" cy="152.04" r="0.62" fill="none" stroke="#86c486" stroke-width="0.3" />
<circle cx="346.84" cy="153.82" r="0.62" fill="none" stroke="#ec7e6e" stroke-width="0.3" />
<circle cx="358.33" cy="171.21" r="0.62" fill="none" stroke="#86c486" stroke-width="0.3" />
<circle cx="352.73" cy="161.98" r="0.62" fill="none" stroke="#ec7e6e" stroke-width="0.3" />
<circle cx="360.53" cy="160.83" r="0.62" fill="none" stroke="#86c486" stroke-width="0.3" />
<circle cx="368.22" cy="173.67" r="0.62" fill="none" stroke="#ec7e6e" stroke-width="0.3" />
<circle cx="346.7" cy="161.57" r="0.62" fill="none" stroke="#ec7e6e" stroke-width="0.3" />
<circle cx="369.81" cy="160.06" r="0.62" fill="none" stroke="#86c486" stroke-width="0.3" />
<circle cx="347.28" cy="152.62" r="0.62" fill="none" stroke="#ec7e6e" stroke-width="0.3" />
<circle cx="368.37" cy="174.18" r="0.62" fill="none" stroke="#ec7e6e" stroke-width="0.3" />
<circle cx="365.26" cy="160.04" r="0.62" fill="none" stroke="#86c486" stroke-width="0.3" />
<circle cx="364.02" cy="163.13" r="0.62" fill="none" stroke="#86c486" stroke-width="0.3" />
<circle cx="349.89" cy="175.75" r="0.62" fill="none" stroke="#86c486" stroke-width="0.3" />
<circle cx="370.02" cy="171.62" r="0.62" fill="none" stroke="#ec7e6e" stroke-width="0.3" />
<circle cx="372.93" cy="160.07" r="0.62" fill="none" stroke="#86c486" stroke-width="0.3" />
<circle cx="367.96" cy="171.29" r="0.62" fill="none" stroke="#86c486" stroke-width="0.3" />
<circle cx="370.88" cy="160.08" r="0.62" fill="none" stroke="#86c486" stroke-width="0.3" />
<circle cx="353.35" cy="162.03" r="0.62" fill="none" stroke="#ec7e6e" stroke-width="0.3" />
<circle cx="339.64" cy="158.52" r="0.62" fill="none" stroke="#ec7e6e" stroke-width="0.3" />
<circle cx="365.64" cy="166.84" r="0.62" fill="none" stroke="#86c486" stroke-width="0.3" />
<circle cx="366.78" cy="157.97" r="0.62" fill="none" stroke="#ec7e6e" stroke-width="0.3" />
<circle cx="366.51" cy="165.16" r="0.62" fill="none" stroke="#86c486" stroke-width="0.3" />
<circle cx="361.27" cy="159.58" r="0.62" fill="none" stroke="#86c486" stroke-width="0.3" />
<circle cx="368.23" cy="171.11" r="0.62" fill="none" stroke="#ec7e6e" stroke-width="0.3" />
<circle cx="364.68" cy="170.4" r="0.62" fill="none" stroke="#86c486" stroke-width="0.3" />
<circle cx="349.82" cy="159.95" r="0.62" fill="none" stroke="#86c486" stroke-width="0.3" />
<circle cx="341.29" cy="153.56" r="0.62" fill="none" stroke="#ec7e6e" stroke-width="0.3" />
<circle cx="354.75" cy="150.55" r="0.62" fill="none" stroke="#ec7e6e" stroke-width="0.3" />
<circle cx="349.59" cy="175.57" r="0.62" fill="none" stroke="#ec7e6e" stroke-width="0.3" />
<circle cx="361.97" cy="163.24" r="0.62" fill="none" stroke="#86c486" stroke-width="0.3" />
<circle cx="363.94" cy="171.04" r="0.62" fill="none" stroke="#ec7e6e" stroke-width="0.3" />
<circle cx="345.82" cy="162.12" r="0.62" fill="none" stroke="#ec7e6e" stroke-width="0.3" />
<circle cx="346.2" cy="162.86" r="0.62" fill="none" stroke="#ec7e6e" stroke-width="0.3" />
<circle cx="378.33" cy="160.54" r="0.62" fill="none" stroke="#86c486" stroke-width="0.3" />
<circle cx="361.01" cy="166.03" r="0.62" fill="none" stroke="#ec7e6e" stroke-width="0.3" />
<circle cx="354.33" cy="156.36" r="0.62" fill="none" stroke="#ec7e6e" stroke-width="0.3" />
<circle cx="366.32" cy="164.88" r="0.62" fill="none" stroke="#86c486" stroke-width="0.3" />
<circle cx="350.94" cy="169.71" r="0.62" fill="none" stroke="#86c486" stroke-width="0.3" />
<circle cx="351.46" cy="147.93" r="0.62" fill="none" stroke="#86c486" stroke-width="0.3" />
<circle cx="349.34" cy="148.83" r="0.62" fill="none" stroke="#86c486" stroke-width="0.3" />
<circle cx="345.68" cy="170.89" r="0.62" fill="none" stroke="#86c486" stroke-width="0.3" />
<circle cx="355.34" cy="175.32" r="0.62" fill="none" stroke="#86c486" stroke-width="0.3" />
<circle cx="356.98" cy="162.31" r="0.62" fill="none" stroke="#ec7e6e" stroke-width="0.3" />
<circle cx="360.87" cy="176.56" r="0.62" fill="none" stroke="#ec7e6e" stroke-width="0.3" />
<circle cx="369.12" cy="162.02" r="0.62" fill="none" stroke="#86c486" stroke-width="0.3" />
<circle cx="364.19" cy="151.07" r="0.62" fill="none" stroke="#86c486" stroke-width="0.3" />
<circle cx="365.04" cy="161.63" r="0.62" fill="none" stroke="#86c486" stroke-width="0.3" />
<circle cx="347.63" cy="149.11" r="0.62" fill="none" stroke="#ec7e6e" stroke-width="0.3" />
<circle cx="361.06" cy="151.35" r="0.62" fill="none" stroke="#86c486" stroke-width="0.3" />
<circle cx="357.53" cy="168.2" r="0.62" fill="none" stroke="#86c486" stroke-width="0.3" />
<circle cx="358.06" cy="155.63" r="0.62" fill="none" stroke="#ec7e6e" stroke-width="0.3" />
<circle cx="363.3" cy="160.51" r="0.62" fill="none" stroke="#ec7e6e" stroke-width="0.3" />
<circle cx="371.41" cy="163.95" r="0.62" fill="none" stroke="#ec7e6e" stroke-width="0.3" />
<circle cx="369.6" cy="154.89" r="0.62" fill="none" stroke="#86c486" stroke-width="0.3" />
<circle cx="371.67" cy="166.87" r="0.62" fill="none" stroke="#ec7e6e" stroke-width="0.3" />
<circle cx="354.07" cy="155.92" r="0.62" fill="none" stroke="#ec7e6e" stroke-width="0.3" />
<circle cx="367.56" cy="165.01" r="0.62" fill="none" stroke="#ec7e6e" stroke-width="0.3" />
<circle cx="363.7" cy="167.13" r="0.62" fill="none" stroke="#ec7e6e" stroke-width="0.3" />
<circle cx="370.39" cy="153.38" r="0.62" fill="none" stroke="#86c486" stroke-width="0.3" />
<circle cx="350.42" cy="160.68" r="0.62" fill="none" stroke="#ec7e6e" stroke-width="0.3" />
<circle cx="365.01" cy="150.68" r="0.62" fill="none" stroke="#86c486" stroke-width="0.3" />
<circle cx="361.62" cy="149.75" r="0.62" fill="none" stroke="#ec7e6e" stroke-width="0.3" />
<circle cx="342.78" cy="168.46" r="0.62" fill="none" stroke="#ec7e6e" stroke-width="0.3" />
<circle cx="362" cy="167.06" r="0.62" fill="none" stroke="#ec7e6e" stroke-width="0.3" />
<circle cx="354.65" cy="162.34" r="0.62" fill="none" stroke="#86c486" stroke-width="0.3" />
<circle cx="347.92" cy="158.15" r="0.62" fill="none" stroke="#ec7e6e" stroke-width="0.3" />
<circle cx="342.28" cy="151.21" r="0.62" fill="none" stroke="#ec7e6e" stroke-width="0.3" />
<circle cx="372.7" cy="166.84" r="0.62" fill="none" stroke="#ec7e6e" stroke-width="0.3" />
<circle cx="371.03" cy="154.11" r="0.62" fill="none" stroke="#86c486" stroke-width="0.3" />
<circle cx="356.77" cy="155.5" r="0.62" fill="none" stroke="#ec7e6e" stroke-width="0.3" />
<circle cx="372.73" cy="158.94" r="0.62" fill="none" stroke="#ec7e6e" stroke-width="0.3" />
<circle cx="352.67" cy="164.51" r="0.62" fill="none" stroke="#86c486" stroke-width="0.3" />
<circle cx="356.9" cy="158.95" r="0.62" fill="none" stroke="#ec7e6e" stroke-width="0.3" />
<circle cx="342.45" cy="150.07" r="0.62" fill="none" stroke="#ec7e6e" stroke-width="0.3" />
<circle cx="362.56" cy="162.53" r="0.62" fill="none" stroke="#86c486" stroke-width="0.3" />
<circle cx="367.57" cy="156.76" r="0.62" fill="none" stroke="#ec7e6e" stroke-width="0.3" />
<circle cx="348.03" cy="168.03" r="0.62" fill="none" stroke="#86c486" stroke-width="0.3" />
<circle cx="342.58" cy="156.92" r="0.62" fill="none" stroke="#86c486" stroke-width="0.3" />
<circle cx="369.21" cy="169.01" r="0.62" fill="none" stroke="#ec7e6e" stroke-width="0.3" />
<circle cx="350.91" cy="151.93" r="0.62" fill="none" stroke="#ec7e6e" stroke-width="0.3" />
<circle cx="354.01" cy="170.01" r="0.62" fill="none" stroke="#86c486" stroke-width="0.3" />
<circle cx="354.37" cy="151.14" r="0.62" fill="none" stroke="#ec7e6e" stroke-width="0.3" />
<circle cx="368.56" cy="165.15" r="0.62" fill="none" stroke="#86c486" stroke-width="0.3" />
<circle cx="377.01" cy="161.08" r="0.62" fill="none" stroke="#ec7e6e" stroke-width="0.3" />
<circle cx="372.45" cy="156.95" r="0.62" fill="none" stroke="#86c486" stroke-width="0.3" />
<circle cx="352.35" cy="159.89" r="0.62" fill="none" stroke="#86c486" stroke-width="0.3" />
<circle cx="349.48" cy="158.71" r="0.62" fill="none" stroke="#86c486" stroke-width="0.3" />
<circle cx="354.33" cy="158.76" r="0.62" fill="none" stroke="#ec7e6e" stroke-width="0.3" />
<circle cx="355.58" cy="159.51" r="0.62" fill="none" stroke="#ec7e6e" stroke-width="0.3" />
<circle cx="347.27" cy="164.98" r="0.62" fill="none" stroke="#86c486" stroke-width="0.3" />
<circle cx="372.2" cy="164.26" r="0.62" fill="none" stroke="#86c486" stroke-width="0.3" />
<circle cx="373.83" cy="164.95" r="0.62" fill="none" stroke="#86c486" stroke-width="0.3" />
<circle cx="346.51" cy="171.03" r="0.62" fill="none" stroke="#ec7e6e" stroke-width="0.3" />
<circle cx="375.67" cy="156.23" r="0.62" fill="none" stroke="#86c486" stroke-width="0.3" />
<circle cx="340.12" cy="163.48" r="0.62" fill="none" stroke="#ec7e6e" stroke-width="0.3" />
<circle cx="361.73" cy="165.09" r="0.62" fill="none" stroke="#86c486" stroke-width="0.3" />
<circle cx="361.84" cy="171.93" r="0.62" fill="none" stroke="#ec7e6e" stroke-width="0.3" />
<circle cx="342.68" cy="150.03" r="0.62" fill="none" stroke="#ec7e6e" stroke-width="0.3" />
<circle cx="342.71" cy="167.16" r="0.62" fill="none" stroke="#ec7e6e" stroke-width="0.3" />
<circle cx="345.16" cy="170.62" r="0.62" fill="none" stroke="#86c486" stroke-width="0.3" />
<circle cx="366.07" cy="155.11" r="0.62" fill="none" stroke="#ec7e6e" stroke-width="0.3" />
<circle cx="348.33" cy="171.23" r="0.62" fill="none" stroke="#86c486" stroke-width="0.3" />
<circle cx="360.79" cy="171.21" r="0.62" fill="none" stroke="#ec7e6e" stroke-width="0.3" />
<circle cx="355.53" cy="157.97" r="0.62" fill="none" stroke="#86c486" stroke-width="0.3" />
<circle cx="359.64" cy="164.16" r="0.62" fill="none" stroke="#86c486" stroke-width="0.3" />
<circle cx="369.05" cy="169.45" r="0.62" fill="none" stroke="#ec7e6e" stroke-width="0.3" />
<circle cx="377.08" cy="160.23" r="0.62" fill="none" stroke="#86c486" stroke-width="0.3" />
<circle cx="373.41" cy="168.17" r="0.62" fill="none" stroke="#ec7e6e" stroke-width="0.3" />
<circle cx="360.89" cy="169.51" r="0.62" fill="none" stroke="#ec7e6e" stroke-width="0.3" />
<circle cx="372.41" cy="160.57" r="0.62" fill="none" stroke="#ec7e6e" stroke-width="0.3" />
<circle cx="356.61" cy="152.03" r="0.62" fill="none" stroke="#ec7e6e" stroke-width="0.3" />
<circle cx="354.75" cy="152.7" r="0.62" fill="none" stroke="#86c486" stroke-width="0.3" />
<circle cx="347.66" cy="160.67" r="0.62" fill="none" stroke="#ec7e6e" stroke-width="0.3" />
<circle cx="341.65" cy="157.06" r="0.62" fill="none" stroke="#ec7e6e" stroke-width="0.3" />
<circle cx="343.95" cy="167.59" r="0.62" fill="none" stroke="#86c486" stroke-width="0.3" />
<circle cx="371.32" cy="153.06" r="0.62" fill="none" stroke="#ec7e6e" stroke-width="0.3" />
<circle cx="341.78" cy="161.72" r="0.62" fill="none" stroke="#ec7e6e" stroke-width="0.3" />
<circle cx="363.38" cy="175.69" r="0.62" fill="none" stroke="#ec7e6e" stroke-width="0.3" />
<circle cx="346.84" cy="154.24" r="0.62" fill="none" stroke="#86c486" stroke-width="0.3" />
<circle cx="348.95" cy="169.73" r="0.62" fill="none" stroke="#ec7e6e" stroke-width="0.3" />
<circle cx="363.82" cy="154.44" r="0.62" fill="none" stroke="#ec7e6e" stroke-width="0.3" />
<circle cx="346.86" cy="156.21" r="0.62" fill="none" stroke="#ec7e6e" stroke-width="0.3" />
<circle cx="346.34" cy="170.98" r="0.62" fill="none" stroke="#ec7e6e" stroke-width="0.3" />
<circle cx="352.11" cy="164.5" r="0.62" fill="none" stroke="#86c486" stroke-width="0.3" />
<circle cx="373.03" cy="162.36" r="0.62" fill="none" stroke="#86c486" stroke-width="0.3" />
<circle cx="349.98" cy="175.01" r="0.62" fill="none" stroke="#86c486" stroke-width="0.3" />
<circle cx="377.05" cy="158.1" r="0.62" fill="none" stroke="#ec7e6e" stroke-width="0.3" />
<circle cx="361.86" cy="177.17" r="0.62" fill="none" stroke="#ec7e6e" stroke-width="0.3" />
<circle cx="359.18" cy="154.35" r="0.62" fill="none" stroke="#86c486" stroke-width="0.3" />
<circle cx="372.38" cy="159.43" r="0.62" fill="none" stroke="#ec7e6e" stroke-width="0.3" />
<circle cx="361.04" cy="163.49" r="0.62" fill="none" stroke="#86c486" stroke-width="0.3" />
<circle cx="366.42" cy="154.87" r="0.62" fill="none" stroke="#86c486" stroke-width="0.3" />
<circle cx="339.65" cy="162.15" r="0.62" fill="none" stroke="#ec7e6e" stroke-width="0.3" />
<circle cx="354.58" cy="172.2" r="0.62" fill="none" stroke="#ec7e6e" stroke-width="0.3" />
<circle cx="368.73" cy="166.29" r="0.62" fill="none" stroke="#ec7e6e" stroke-width="0.3" />
<circle cx="345.71" cy="152.36" r="0.62" fill="none" stroke="#ec7e6e" stroke-width="0.3" />
<circle cx="352.52" cy="155.54" r="0.62" fill="none" stroke="#86c486" stroke-width="0.3" />
<circle cx="375.19" cy="163.5" r="0.62" fill="none" stroke="#ec7e6e" stroke-width="0.3" />
<circle cx="350.23" cy="164.07" r="0.62" fill="none" stroke="#86c486" stroke-width="0.3" />
<circle cx="345.44" cy="171.38" r="0.62" fill="none" stroke="#ec7e6e" stroke-width="0.3" />
<circle cx="342.61" cy="155.87" r="0.62" fill="none" stroke="#ec7e6e" stroke-width="0.3" />
<circle cx="359.08" cy="162.03" r="0.62" fill="none" stroke="#ec7e6e" stroke-width="0.3" />
<circle cx="374.69" cy="156.91" r="0.62" fill="none" stroke="#86c486" stroke-width="0.3" />
<circle cx="371.88" cy="160.43" r="0.62" fill="none" stroke="#86c486" stroke-width="0.3" />
<circle cx="361.7" cy="163.8" r="0.62" fill="none" stroke="#ec7e6e" stroke-width="0.3" />
<circle cx="345.72" cy="173.29" r="0.62" fill="none" stroke="#ec7e6e" stroke-width="0.3" />
<circle cx="352.09" cy="157.13" r="0.62" fill="none" stroke="#ec7e6e" stroke-width="0.3" />
<circle cx="342.35" cy="156.98" r="0.62" fill="none" stroke="#ec7e6e" stroke-width="0.3" />
<circle cx="358.54" cy="169.67" r="0.62" fill="none" stroke="#ec7e6e" stroke-width="0.3" />
<circle cx="354.09" cy="168.8" r="0.62" fill="none" stroke="#86c486" stroke-width="0.3" />
<circle cx="343.58" cy="159.72" r="0.62" fill="none" stroke="#ec7e6e" stroke-width="0.3" />
<circle cx="358.32" cy="177.47" r="0.62" fill="none" stroke="#86c486" stroke-width="0.3" />
<circle cx="373.55" cy="167.77" r="0.62" fill="none" stroke="#ec7e6e" stroke-width="0.3" />
<circle cx="339.71" cy="159.19" r="0.62" fill="none" stroke="#ec7e6e" stroke-width="0.3" />
<circle cx="368.59" cy="154.86" r="0.62" fill="none" stroke="#86c486" stroke-width="0.3" />
<circle cx="362.55" cy="161.7" r="0.62" fill="none" stroke="#ec7e6e" stroke-width="0.3" />
<circle cx="372.3" cy="153.91" r="0.62" fill="none" stroke="#ec7e6e" stroke-width="0.3" />
<circle cx="364.71" cy="156.5" r="0.62" fill="none" stroke="#ec7e6e" stroke-width="0.3" />
<circle cx="354.77" cy="164.23" r="0.62" fill="none" stroke="#ec7e6e" stroke-width="0.3" />
<circle cx="351.55" cy="157.96" r="0.62" fill="none" stroke="#ec7e6e" stroke-width="0.3" />
<circle cx="355.44" cy="168.17" r="0.62" fill="none" stroke="#86c486" stroke-width="0.3" />
<circle cx="349.82" cy="153.7" r="0.62" fill="none" stroke="#ec7e6e" stroke-width="0.3" />
<circle cx="369.48" cy="157.71" r="0.62" fill="none" stroke="#86c486" stroke-width="0.3" />
<circle cx="378.32" cy="164.95" r="0.62" fill="none" stroke="#ec7e6e" stroke-width="0.3" />
<circle cx="369.16" cy="157.78" r="0.62" fill="none" stroke="#ec7e6e" stroke-width="0.3" />
<circle cx="345.03" cy="150.43" r="0.62" fill="none" stroke="#ec7e6e" stroke-width="0.3" />
<circle cx="367.26" cy="169.46" r="0.62" fill="none" stroke="#ec7e6e" stroke-width="0.3" />
<circle cx="346.65" cy="159.97" r="0.62" fill="none" stroke="#ec7e6e" stroke-width="0.3" />
<circle cx="373.85" cy="165.87" r="0.62" fill="none" stroke="#86c486" stroke-width="0.3" />
<circle cx="342.93" cy="154.52" r="0.62" fill="none" stroke="#ec7e6e" stroke-width="0.3" />
<circle cx="345.7" cy="151.35" r="0.62" fill="none" stroke="#86c486" stroke-width="0.3" />
<circle cx="356.04" cy="149.75" r="0.62" fill="none" stroke="#ec7e6e" stroke-width="0.3" />
<circle cx="377.31" cy="160.74" r="0.62" fill="none" stroke="#ec7e6e" stroke-width="0.3" />
<circle cx="360.38" cy="167.56" r="0.62" fill="none" stroke="#86c486" stroke-width="0.3" />
<circle cx="355.18" cy="157.77" r="0.62" fill="none" stroke="#ec7e6e" stroke-width="0.3" />
<circle cx="355.79" cy="169.2" r="0.62" fill="none" stroke="#ec7e6e" stroke-width="0.3" />
<circle cx="366.53" cy="166.37" r="0.62" fill="none" stroke="#ec7e6e" stroke-width="0.3" />
<circle cx="339.97" cy="157.76" r="0.62" fill="none" stroke="#ec7e6e" stroke-width="0.3" />
<circle cx="353.37" cy="167.67" r="0.62" fill="none" stroke="#ec7e6e" stroke-width="0.3" />
<circle cx="343.6" cy="159.21" r="0.62" fill="none" stroke="#ec7e6e" stroke-width="0.3" />
<circle cx="360.29" cy="171.95" r="0.62" fill="none" stroke="#ec7e6e" stroke-width="0.3" />
<circle cx="373.36" cy="166.45" r="0.62" fill="none" stroke="#ec7e6e" stroke-width="0.3" />
<circle cx="345.76" cy="171.26" r="0.62" fill="none" stroke="#ec7e6e" stroke-width="0.3" />
<circle cx="376.58" cy="164.5" r="0.62" fill="none" stroke="#ec7e6e" stroke-width="0.3" />
<circle cx="353.8" cy="163.01" r="0.62" fill="none" stroke="#86c486" stroke-width="0.3" />
<circle cx="345.07" cy="169.62" r="0.62" fill="none" stroke="#ec7e6e" stroke-width="0.3" />
<circle cx="368.82" cy="173.4" r="0.62" fill="none" stroke="#86c486" stroke-width="0.3" />
<circle cx="365.16" cy="153.63" r="0.62" fill="none" stroke="#86c486" stroke-width="0.3" />
<circle cx="342.65" cy="155.08" r="0.62" fill="none" stroke="#ec7e6e" stroke-width="0.3" />
<circle cx="363.07" cy="169.11" r="0.62" fill="none" stroke="#ec7e6e" stroke-width="0.3" />
<circle cx="352.83" cy="176.3" r="0.62" fill="none" stroke="#ec7e6e" stroke-width="0.3" />
<circle cx="354.15" cy="161.85" r="0.62" fill="none" stroke="#86c486" stroke-width="0.3" />
<circle cx="361.7" cy="164.88" r="0.62" fill="none" stroke="#86c486" stroke-width="0.3" />
<circle cx="362.4" cy="155.7" r="0.62" fill="none" stroke="#86c486" stroke-width="0.3" />
<circle cx="373.04" cy="166.15" r="0.62" fill="none" stroke="#ec7e6e" stroke-width="0.3" />
<circle cx="344.28" cy="173.06" r="0.62" fill="none" stroke="#ec7e6e" stroke-width="0.3" />
<circle cx="351.15" cy="175.31" r="0.62" fill="none" stroke="#ec7e6e" stroke-width="0.3" />
<circle cx="349.17" cy="165.28" r="0.62" fill="none" stroke="#86c486" stroke-width="0.3" />
<circle cx="361.88" cy="149.86" r="0.62" fill="none" stroke="#ec7e6e" stroke-width="0.3" />
<circle cx="340.53" cy="153.08" r="0.62" fill="none" stroke="#86c486" stroke-width="0.3" />
<circle cx="366.46" cy="157.04" r="0.62" fill="none" stroke="#ec7e6e" stroke-width="0.3" />
<circle cx="366.99" cy="170.37" r="0.62" fill="none" stroke="#ec7e6e" stroke-width="0.3" />
<circle cx="355" cy="165.85" r="0.62" fill="none" stroke="#ec7e6e" stroke-width="0.3" />
<circle cx="347.46" cy="162.01" r="0.62" fill="none" stroke="#86c486" stroke-width="0.3" />
<circle cx="345.12" cy="159.48" r="0.62" fill="none" stroke="#ec7e6e" stroke-width="0.3" />
<circle cx="362.78" cy="152.88" r="0.62" fill="none" stroke="#86c486" stroke-width="0.3" />
<circle cx="360.72" cy="155.67" r="0.62" fill="none" stroke="#86c486" stroke-width="0.3" />
<circle cx="362.72" cy="157.8" r="0.62" fill="none" stroke="#86c486" stroke-width="0.3" />
<circle cx="366.98" cy="151.99" r="0.62" fill="none" stroke="#86c486" stroke-width="0.3" />
<circle cx="358.65" cy="160.25" r="0.62" fill="none" stroke="#ec7e6e" stroke-width="0.3" />
<circle cx="365.03" cy="168.87" r="0.62" fill="none" stroke="#86c486" stroke-width="0.3" />
<circle cx="370.58" cy="170.8" r="0.62" fill="none" stroke="#ec7e6e" stroke-width="0.3" />
<circle cx="359.31" cy="178.33" r="0.62" fill="none" stroke="#ec7e6e" stroke-width="0.3" />
<circle cx="356.13" cy="160.95" r="0.62" fill="none" stroke="#86c486" stroke-width="0.3" />
<circle cx="362.63" cy="175.56" r="0.62" fill="none" stroke="#86c486" stroke-width="0.3" />
<circle cx="360.98" cy="163.78" r="0.62" fill="none" stroke="#ec7e6e" stroke-width="0.3" />
<circle cx="357.09" cy="175.53" r="0.62" fill="none" stroke="#86c486" stroke-width="0.3" />
<circle cx="352.48" cy="149.2" r="0.62" fill="none" stroke="#86c486" stroke-width="0.3" />
<circle cx="369.51" cy="166.02" r="0.62" fill="none" stroke="#86c486" stroke-width="0.3" />
<circle cx="370.33" cy="156.95" r="0.62" fill="none" stroke="#ec7e6e" stroke-width="0.3" />
<circle cx="363.77" cy="149.66" r="0.62" fill="none" stroke="#ec7e6e" stroke-width="0.3" />
<circle cx="344.35" cy="161.36" r="0.62" fill="none" stroke="#ec7e6e" stroke-width="0.3" />
<circle cx="360.01" cy="159.8" r="0.62" fill="none" stroke="#86c486" stroke-width="0.3" />
<circle cx="341.35" cy="169.04" r="0.62" fill="none" stroke="#ec7e6e" stroke-width="0.3" />
<circle cx="360.99" cy="154.91" r="0.62" fill="none" stroke="#ec7e6e" stroke-width="0.3" />
<circle cx="351.88" cy="159.76" r="0.62" fill="none" stroke="#ec7e6e" stroke-width="0.3" />
<circle cx="348.97" cy="149.62" r="0.62" fill="none" stroke="#ec7e6e" stroke-width="0.3" />
<circle cx="366.76" cy="174.36" r="0.62" fill="none" stroke="#ec7e6e" stroke-width="0.3" />
<circle cx="356.65" cy="172.46" r="0.62" fill="none" stroke="#86c486" stroke-width="0.3" />
<circle cx="348.38" cy="170.65" r="0.62" fill="none" stroke="#86c486" stroke-width="0.3" />
<circle cx="362.67" cy="175.51" r="0.62" fill="none" stroke="#ec7e6e" stroke-width="0.3" />
<circle cx="343.28" cy="172.06" r="0.62" fill="none" stroke="#ec7e6e" stroke-width="0.3" />
<circle cx="344.33" cy="164.17" r="0.62" fill="none" stroke="#ec7e6e" stroke-width="0.3" />
<circle cx="349.3" cy="156.78" r="0.62" fill="none" stroke="#ec7e6e" stroke-width="0.3" />
<circle cx="352.65" cy="149.44" r="0.62" fill="none" stroke="#ec7e6e" stroke-width="0.3" />
<circle cx="355.65" cy="158.55" r="0.62" fill="none" stroke="#ec7e6e" stroke-width="0.3" />
<circle cx="351.94" cy="162.95" r="0.62" fill="none" stroke="#ec7e6e" stroke-width="0.3" />
<circle cx="358.77" cy="153.9" r="0.62" fill="none" stroke="#86c486" stroke-width="0.3" />
<circle cx="351.43" cy="176.1" r="0.62" fill="none" stroke="#ec7e6e" stroke-width="0.3" />
<circle cx="373.89" cy="158.48" r="0.62" fill="none" stroke="#86c486" stroke-width="0.3" />
<circle cx="358.76" cy="152.83" r="0.62" fill="none" stroke="#86c486" stroke-width="0.3" />
<circle cx="347.56" cy="167.1" r="0.62" fill="none" stroke="#ec7e6e" stroke-width="0.3" />
<circle cx="347.13" cy="174.79" r="0.62" fill="none" stroke="#ec7e6e" stroke-width="0.3" />
<circle cx="341.27" cy="150.79" r="0.62" fill="none" stroke="#ec7e6e" stroke-width="0.3" />
<circle cx="369.25" cy="157.2" r="0.62" fill="none" stroke="#ec7e6e" stroke-width="0.3" />
<circle cx="368.72" cy="151.68" r="0.62" fill="none" stroke="#ec7e6e" stroke-width="0.3" />
<circle cx="357.63" cy="149.95" r="0.62" fill="none" stroke="#ec7e6e" stroke-width="0.3" />
<circle cx="348.44" cy="157.02" r="0.62" fill="none" stroke="#ec7e6e" stroke-width="0.3" />
<circle cx="368.62" cy="153.59" r="0.62" fill="none" stroke="#86c486" stroke-width="0.3" />
<circle cx="346.69" cy="154.8" r="0.62" fill="none" stroke="#ec7e6e" stroke-width="0.3" />
<circle cx="366.71" cy="172.01" r="0.62" fill="none" stroke="#ec7e6e" stroke-width="0.3" />
<circle cx="354.62" cy="168.02" r="0.62" fill="none" stroke="#86c486" stroke-width="0.3" />
<circle cx="375.82" cy="165.79" r="0.62" fill="none" stroke="#86c486" stroke-width="0.3" />
<circle cx="348.68" cy="156.83" r="0.62" fill="none" stroke="#ec7e6e" stroke-width="0.3" />
<circle cx="350.66" cy="167.34" r="0.62" fill="none" stroke="#86c486" stroke-width="0.3" />
<circle cx="357.43" cy="163.88" r="0.62" fill="none" stroke="#86c486" stroke-width="0.3" />
<circle cx="361.18" cy="148.91" r="0.62" fill="none" stroke="#ec7e6e" stroke-width="0.3" />
<circle cx="364.03" cy="156.32" r="0.62" fill="none" stroke="#86c486" stroke-width="0.3" />
<circle cx="349.59" cy="172.4" r="0.62" fill="none" stroke="#ec7e6e" stroke-width="0.3" />
<circle cx="342.81" cy="156.34" r="0.62" fill="none" stroke="#ec7e6e" stroke-width="0.3" />
<circle cx="370.49" cy="155.12" r="0.62" fill="none" stroke="#86c486" stroke-width="0.3" />
<circle cx="371" cy="182.2" r="0.62" fill="none" stroke="#ec7e6e" stroke-width="0.3" />
<circle cx="374.26" cy="185.79" r="0.62" fill="none" stroke="#ec7e6e" stroke-width="0.3" />
<circle cx="374.95" cy="175.68" r="0.62" fill="none" stroke="#ec7e6e" stroke-width="0.3" />
<circle cx="375.95" cy="183.92" r="0.62" fill="none" stroke="#ec7e6e" stroke-width="0.3" />
<circle cx="372.44" cy="184.15" r="0.62" fill="none" stroke="#ec7e6e" stroke-width="0.3" />
<circle cx="380.02" cy="181.65" r="0.62" fill="none" stroke="#ec7e6e" stroke-width="0.3" />
<circle cx="375.05" cy="187.46" r="0.62" fill="none" stroke="#ec7e6e" stroke-width="0.3" />
<circle cx="378.25" cy="181.71" r="0.62" fill="none" stroke="#ec7e6e" stroke-width="0.3" />
<circle cx="376.88" cy="176.67" r="0.62" fill="none" stroke="#ec7e6e" stroke-width="0.3" />
<circle cx="373.88" cy="186.18" r="0.62" fill="none" stroke="#ec7e6e" stroke-width="0.3" />
<circle cx="380.08" cy="186.5" r="0.62" fill="none" stroke="#ec7e6e" stroke-width="0.3" />
<circle cx="370.22" cy="181.16" r="0.62" fill="none" stroke="#ec7e6e" stroke-width="0.3" />
<circle cx="369.96" cy="182.77" r="0.62" fill="none" stroke="#ec7e6e" stroke-width="0.3" />
<circle cx="376.68" cy="185.15" r="0.62" fill="none" stroke="#ec7e6e" stroke-width="0.3" />
<circle cx="376.25" cy="187.95" r="0.62" fill="none" stroke="#ec7e6e" stroke-width="0.3" />
<circle cx="369.22" cy="175.19" r="0.62" fill="none" stroke="#ec7e6e" stroke-width="0.3" />
<circle cx="366.32" cy="181.28" r="0.62" fill="none" stroke="#ec7e6e" stroke-width="0.3" />
<circle cx="373.78" cy="180.32" r="0.62" fill="none" stroke="#ec7e6e" stroke-width="0.3" />
<circle cx="376.18" cy="182.12" r="0.62" fill="none" stroke="#ec7e6e" stroke-width="0.3" />
<circle cx="368.62" cy="178" r="0.62" fill="none" stroke="#ec7e6e" stroke-width="0.3" />
<circle cx="377.12" cy="181.8" r="0.62" fill="none" stroke="#86c486" stroke-width="0.3" />
<circle cx="370.74" cy="182.92" r="0.62" fill="none" stroke="#ec7e6e" stroke-width="0.3" />
<circle cx="369.07" cy="177.01" r="0.62" fill="none" stroke="#ec7e6e" stroke-width="0.3" />
<circle cx="380.87" cy="186.42" r="0.62" fill="none" stroke="#ec7e6e" stroke-width="0.3" />
<circle cx="367.09" cy="179.77" r="0.62" fill="none" stroke="#ec7e6e" stroke-width="0.3" />
<circle cx="372.52" cy="176.33" r="0.62" fill="none" stroke="#ec7e6e" stroke-width="0.3" />
<circle cx="374.76" cy="185.97" r="0.62" fill="none" stroke="#ec7e6e" stroke-width="0.3" />
<circle cx="374.15" cy="185.69" r="0.62" fill="none" stroke="#ec7e6e" stroke-width="0.3" />
<circle cx="373.03" cy="177.78" r="0.62" fill="none" stroke="#ec7e6e" stroke-width="0.3" />
<circle cx="373.6" cy="173.85" r="0.62" fill="none" stroke="#ec7e6e" stroke-width="0.3" />
<circle cx="379.66" cy="185.49" r="0.62" fill="none" stroke="#ec7e6e" stroke-width="0.3" />
<circle cx="370.11" cy="176.98" r="0.62" fill="none" stroke="#ec7e6e" stroke-width="0.3" />
<circle cx="375.88" cy="176.78" r="0.62" fill="none" stroke="#ec7e6e" stroke-width="0.3" />
<circle cx="372.52" cy="178.47" r="0.62" fill="none" stroke="#ec7e6e" stroke-width="0.3" />
<circle cx="366.71" cy="179.63" r="0.62" fill="none" stroke="#ec7e6e" stroke-width="0.3" />
<circle cx="372.14" cy="184.8" r="0.62" fill="none" stroke="#ec7e6e" stroke-width="0.3" />
<circle cx="381.47" cy="182.95" r="0.62" fill="none" stroke="#ec7e6e" stroke-width="0.3" />
<circle cx="373.03" cy="187.42" r="0.62" fill="none" stroke="#ec7e6e" stroke-width="0.3" />
<circle cx="372.82" cy="186.33" r="0.62" fill="none" stroke="#ec7e6e" stroke-width="0.3" />
<circle cx="369.86" cy="178.65" r="0.62" fill="none" stroke="#ec7e6e" stroke-width="0.3" />
<circle cx="369.29" cy="182.23" r="0.62" fill="none" stroke="#ec7e6e" stroke-width="0.3" />
<circle cx="368.93" cy="176.1" r="0.62" fill="none" stroke="#ec7e6e" stroke-width="0.3" />
<circle cx="369.84" cy="180.78" r="0.62" fill="none" stroke="#ec7e6e" stroke-width="0.3" />
<circle cx="371.52" cy="180.41" r="0.62" fill="none" stroke="#ec7e6e" stroke-width="0.3" />
<circle cx="383.78" cy="184.52" r="0.62" fill="none" stroke="#ec7e6e" stroke-width="0.3" />
<circle cx="372.85" cy="173.79" r="0.62" fill="none" stroke="#ec7e6e" stroke-width="0.3" />
<circle cx="378.38" cy="178.92" r="0.62" fill="none" stroke="#ec7e6e" stroke-width="0.3" />
<circle cx="369.26" cy="177.14" r="0.62" fill="none" stroke="#ec7e6e" stroke-width="0.3" />
<circle cx="378.8" cy="177.25" r="0.62" fill="none" stroke="#ec7e6e" stroke-width="0.3" />
<circle cx="372.46" cy="175.22" r="0.62" fill="none" stroke="#ec7e6e" stroke-width="0.3" />
<circle cx="379.71" cy="185.31" r="0.62" fill="none" stroke="#ec7e6e" stroke-width="0.3" />
<circle cx="371.77" cy="179.3" r="0.62" fill="none" stroke="#ec7e6e" stroke-width="0.3" />
<circle cx="371.82" cy="186.14" r="0.62" fill="none" stroke="#ec7e6e" stroke-width="0.3" />
<circle cx="373.05" cy="176.72" r="0.62" fill="none" stroke="#ec7e6e" stroke-width="0.3" />
<circle cx="371.59" cy="180.01" r="0.62" fill="none" stroke="#ec7e6e" stroke-width="0.3" />
<circle cx="375.74" cy="174.91" r="0.62" fill="none" stroke="#ec7e6e" stroke-width="0.3" />
<circle cx="378.65" cy="177.11" r="0.62" fill="none" stroke="#ec7e6e" stroke-width="0.3" />
<circle cx="378.99" cy="184.29" r="0.62" fill="none" stroke="#ec7e6e" stroke-width="0.3" />
<circle cx="368.63" cy="176.13" r="0.62" fill="none" stroke="#86c486" stroke-width="0.3" />
<circle cx="371.02" cy="185.12" r="0.62" fill="none" stroke="#ec7e6e" stroke-width="0.3" />
<circle cx="373.26" cy="179.34" r="0.62" fill="none" stroke="#ec7e6e" stroke-width="0.3" />
<circle cx="371.23" cy="178.61" r="0.62" fill="none" stroke="#ec7e6e" stroke-width="0.3" />
<circle cx="376.13" cy="186.82" r="0.62" fill="none" stroke="#86c486" stroke-width="0.3" />
<circle cx="378" cy="188.77" r="0.62" fill="none" stroke="#ec7e6e" stroke-width="0.3" />
<circle cx="369.87" cy="184.7" r="0.62" fill="none" stroke="#ec7e6e" stroke-width="0.3" />
<circle cx="377.93" cy="189.41" r="0.62" fill="none" stroke="#ec7e6e" stroke-width="0.3" />
<circle cx="373.66" cy="179.45" r="0.62" fill="none" stroke="#ec7e6e" stroke-width="0.3" />
<circle cx="367.08" cy="179.29" r="0.62" fill="none" stroke="#ec7e6e" stroke-width="0.3" />
<circle cx="371.87" cy="181.3" r="0.62" fill="none" stroke="#ec7e6e" stroke-width="0.3" />
<circle cx="371.01" cy="175.31" r="0.62" fill="none" stroke="#ec7e6e" stroke-width="0.3" />
<circle cx="353.1" cy="129.2" r="1.1" fill="#e06a60" stroke="none" stroke-width="0.5" />
<text x="356.5" y="131" font-size="5.4" fill="#262626" textLength="32.3" lengthAdjust="spacingAndGlyphs">Pre–abatacept</text>
<circle cx="353.1" cy="136.1" r="1.1" fill="#7ab87a" stroke="none" stroke-width="0.5" />
<text x="356.5" y="137.9" font-size="5.4" fill="#262626" textLength="34.1" lengthAdjust="spacingAndGlyphs">Post–abatacept</text>
<line x1="443.9" y1="154.8" x2="443.9" y2="184.7" stroke="#222" stroke-width="0.9" />
<line x1="443.9" y1="184.7" x2="506.5" y2="184.7" stroke="#222" stroke-width="0.9" />
<line x1="458.9" y1="184.7" x2="458.9" y2="186.2" stroke="#222" stroke-width="0.6" />
<text x="458.9" y="195.6" font-size="5.18" text-anchor="middle" fill="#262626" textLength="8.8" lengthAdjust="spacingAndGlyphs">0.25</text>
<line x1="474.3" y1="184.7" x2="474.3" y2="186.2" stroke="#222" stroke-width="0.6" />
<text x="474.3" y="195.6" font-size="5.18" text-anchor="middle" fill="#262626" textLength="8.8" lengthAdjust="spacingAndGlyphs">0.50</text>
<line x1="489.7" y1="184.7" x2="489.7" y2="186.2" stroke="#222" stroke-width="0.6" />
<text x="489.7" y="195.6" font-size="5.18" text-anchor="middle" fill="#262626" textLength="8.8" lengthAdjust="spacingAndGlyphs">0.75</text>
<line x1="505.1" y1="184.7" x2="505.1" y2="186.2" stroke="#222" stroke-width="0.6" />
<text x="505.1" y="195.6" font-size="5.18" text-anchor="middle" fill="#262626" textLength="8.8" lengthAdjust="spacingAndGlyphs">1.00</text>
<text x="476.8" y="204.2" font-size="6.26" text-anchor="middle" font-weight="bold" fill="#262626" textLength="49.6" lengthAdjust="spacingAndGlyphs">Fraction representation</text>
<rect x="444.3" y="160.1" width="14.6" height="7.8" fill="#8a8ed0" stroke="none" stroke-width="0.8" />
<rect x="458.9" y="160.1" width="7.4" height="7.8" fill="#4d6b31" stroke="none" stroke-width="0.8" />
<rect x="466.3" y="160.1" width="39.5" height="7.8" fill="#dcbc98" stroke="none" stroke-width="0.8" />
<rect x="444.3" y="173.2" width="1.1" height="7.9" fill="#8a8ed0" stroke="none" stroke-width="0.8" />
<rect x="445.4" y="173.2" width="8.9" height="7.9" fill="#4d6b31" stroke="none" stroke-width="0.8" />
<rect x="454.3" y="173.2" width="51.5" height="7.9" fill="#dcbc98" stroke="none" stroke-width="0.8" />
<line x1="441.7" y1="164.2" x2="443.9" y2="164.2" stroke="#222" stroke-width="0.7" />
<line x1="441.7" y1="177.3" x2="443.9" y2="177.3" stroke="#222" stroke-width="0.7" />
<text x="434.2" y="166.1" font-size="5.4" text-anchor="end" fill="#262626" textLength="31.8" lengthAdjust="spacingAndGlyphs">Pre–abatacept</text>
<rect x="436.6" y="163.3" width="2" height="2" fill="#b07060" stroke="none" stroke-width="0.8" />
<text x="433" y="179.4" font-size="5.4" text-anchor="end" fill="#262626" textLength="33.6" lengthAdjust="spacingAndGlyphs">Post–abatacept</text>
<rect x="436.6" y="176.5" width="2" height="2" fill="#80a080" stroke="none" stroke-width="0.8" />
<rect x="460.5" y="129" width="5.2" height="5" fill="#dcbc98" stroke="none" stroke-width="0.8" />
<text x="467.4" y="133.2" font-size="5.08" fill="#262626" textLength="21.5" lengthAdjust="spacingAndGlyphs">CCR7+ FO</text>
<rect x="460.5" y="138.3" width="5.2" height="5" fill="#4d6b31" stroke="none" stroke-width="0.8" />
<text x="467.4" y="142.5" font-size="5.08" fill="#262626" textLength="22.2" lengthAdjust="spacingAndGlyphs">CD38+ T/B</text>
<rect x="460.5" y="147.1" width="5.2" height="5" fill="#8a8ed0" stroke="none" stroke-width="0.8" />
<text x="467.4" y="151.3" font-size="5.08" fill="#262626" textLength="21.5" lengthAdjust="spacingAndGlyphs">ITGAX+ aN</text>
<text x="236.6" y="230.2" font-size="6.26" text-anchor="middle" fill="#262626" textLength="69.6" lengthAdjust="spacingAndGlyphs">CD40L (total cellular levels)</text>
<text x="238.5" y="237.4" font-size="6.26" text-anchor="middle" fill="#262626" textLength="77.3" lengthAdjust="spacingAndGlyphs">assayed unstimulated TEMRA</text>
<text x="238.6" y="244.3" font-size="6.26" text-anchor="middle" fill="#262626" textLength="34.8" lengthAdjust="spacingAndGlyphs">CD4+ T cells</text>
<path d="M212,324.51 L212.5,324.43 L213,324.34 L213.5,324.25 L214,324.14 L214.5,324.01 L215,323.88 L215.5,323.73 L216,323.57 L216.5,323.4 L217,323.21 L217.5,323 L218,322.77 L218.5,322.5 L219,322.19 L219.5,321.83 L220,321.37 L220.5,320.8 L221,320.05 L221.5,319.07 L222,317.79 L222.5,316.14 L223,314.03 L223.5,311.4 L224,308.21 L224.5,304.47 L225,300.22 L225.5,295.57 L226,290.71 L226.5,285.88 L227,281.35 L227.5,277.43 L228,274.39 L228.5,272.46 L229,271.8 L229.5,272.68 L230,275.21 L230.5,279.15 L231,278.73 L231.5,274.57 L232,271.34 L232.5,269.3 L233,268.6 L233.5,269.53 L234,272.22 L234.5,276.39 L235,281.62 L235.5,287.45 L236,293.41 L236.5,299.09 L237,304.2 L237.5,308.58 L238,312.15 L238.5,314.97 L239,317.12 L239.5,318.71 L240,319.89 L240.5,320.75 L241,321.39 L241.5,321.88 L242,322.28 L242.5,322.61 L243,322.9 L243.5,323.15 L244,323.38 L244.5,323.58 L245,323.77 L245.5,323.93 L246,324.08 L246.5,324.22 L247,324.33 L247.5,324.44 L248,324.53 L248.5,324.61 L249,324.67 L249.5,324.73 L250,324.78 L250.5,324.82 L251,324.85 L251.5,324.88 L252,324.91 Z" fill="#d89a76" stroke="none" stroke-width="0.8" />
<path d="M212,324.87 L212.5,324.84 L213,324.81 L213.5,324.77 L214,324.73 L214.5,324.68 L215,324.62 L215.5,324.56 L216,324.48 L216.5,324.4 L217,324.3 L217.5,324.2 L218,324.08 L218.5,323.96 L219,323.81 L219.5,323.66 L220,323.49 L220.5,323.3 L221,323.1 L221.5,322.88 L222,322.63 L222.5,322.35 L223,322.03 L223.5,321.64 L224,321.15 L224.5,320.54 L225,319.75 L225.5,318.71 L226,317.36 L226.5,315.6 L227,313.37 L227.5,310.58 L228,307.2 L228.5,303.23 L229,298.72 L229.5,293.8 L230,288.65 L230.5,283.53 L231,284.09 L231.5,289.58 L232,295.2 L232.5,300.56 L233,305.38 L233.5,309.51 L234,312.88 L234.5,315.54 L235,317.56 L235.5,319.07 L236,320.18 L236.5,320.99 L237,321.59 L237.5,322.06 L238,322.44 L238.5,322.75 L239,323.02 L239.5,323.25 L240,323.47 L240.5,323.66 L241,323.84 L241.5,323.99 L242,324.14 L242.5,324.26 L243,324.37 L243.5,324.47 L244,324.55 L244.5,324.63 L245,324.69 L245.5,324.75 L246,324.79 L246.5,324.83 L247,324.86 L247.5,324.89 L248,324.91 L248.5,324.93 L249,324.94 L249.5,324.96 L250,324.97 L250.5,324.97 L251,324.98 L251.5,324.98 L252,324.99 Z" fill="#cc8a60" stroke="none" stroke-width="0.8" />
<path d="M212,324.51 L212.5,324.43 L213,324.34 L213.5,324.25 L214,324.14 L214.5,324.01 L215,323.88 L215.5,323.73 L216,323.57 L216.5,323.4 L217,323.21 L217.5,323 L218,322.77 L218.5,322.5 L219,322.19 L219.5,321.83 L220,321.37 L220.5,320.8 L221,320.05 L221.5,319.07 L222,317.79 L222.5,316.14 L223,314.03 L223.5,311.4 L224,308.21 L224.5,304.47 L225,300.22 L225.5,295.57 L226,290.71 L226.5,285.88 L227,281.35 L227.5,277.43 L228,274.39 L228.5,272.46 L229,271.8 L229.5,272.68 L230,275.21 L230.5,279.15 L231,284.09 L231.5,289.58 L232,295.2 L232.5,300.56 L233,305.38 L233.5,309.51 L234,312.88 L234.5,315.54 L235,317.56 L235.5,319.07 L236,320.18 L236.5,320.99 L237,321.59 L237.5,322.06 L238,322.44 L238.5,322.75 L239,323.02 L239.5,323.25 L240,323.47 L240.5,323.66 L241,323.84 L241.5,323.99 L242,324.14 L242.5,324.26 L243,324.37 L243.5,324.47 L244,324.55 L244.5,324.63 L245,324.69 L245.5,324.75 L246,324.79 L246.5,324.83 L247,324.86 L247.5,324.89 L248,324.91 L248.5,324.93 L249,324.94 L249.5,324.96 L250,324.97 L250.5,324.97 L251,324.98 L251.5,324.98 L252,324.99" fill="none" stroke="#88c880" stroke-width="0.6" />
<path d="M212,324.87 L212.5,324.84 L213,324.81 L213.5,324.77 L214,324.73 L214.5,324.68 L215,324.62 L215.5,324.56 L216,324.48 L216.5,324.4 L217,324.3 L217.5,324.2 L218,324.08 L218.5,323.96 L219,323.81 L219.5,323.66 L220,323.49 L220.5,323.3 L221,323.1 L221.5,322.88 L222,322.63 L222.5,322.35 L223,322.03 L223.5,321.64 L224,321.15 L224.5,320.54 L225,319.75 L225.5,318.71 L226,317.36 L226.5,315.6 L227,313.37 L227.5,310.58 L228,307.2 L228.5,303.23 L229,298.72 L229.5,293.8 L230,288.65 L230.5,283.53 L231,278.73 L231.5,274.57 L232,271.34 L232.5,269.3 L233,268.6 L233.5,269.53 L234,272.22 L234.5,276.39 L235,281.62 L235.5,287.45 L236,293.41 L236.5,299.09 L237,304.2 L237.5,308.58 L238,312.15 L238.5,314.97 L239,317.12 L239.5,318.71 L240,319.89 L240.5,320.75 L241,321.39 L241.5,321.88 L242,322.28 L242.5,322.61 L243,322.9 L243.5,323.15 L244,323.38 L244.5,323.58 L245,323.77 L245.5,323.93 L246,324.08 L246.5,324.22 L247,324.33 L247.5,324.44 L248,324.53 L248.5,324.61 L249,324.67 L249.5,324.73 L250,324.78 L250.5,324.82 L251,324.85 L251.5,324.88 L252,324.91" fill="none" stroke="#ea7c8c" stroke-width="0.6" />
<rect x="189.1" y="249.1" width="98.2" height="75.9" fill="none" stroke="#222" stroke-width="0.9" />
<line x1="187.3" y1="325" x2="189.1" y2="325" stroke="#222" stroke-width="0.7" />
<text x="186.1" y="326.6" font-size="5.62" text-anchor="end" fill="#262626" textLength="2.89" lengthAdjust="spacingAndGlyphs">0</text>
<line x1="188.1" y1="317.75" x2="189.1" y2="317.75" stroke="#222" stroke-width="0.45" />
<line x1="187.3" y1="310.5" x2="189.1" y2="310.5" stroke="#222" stroke-width="0.7" />
<text x="186.1" y="312.1" font-size="5.62" text-anchor="end" fill="#262626" textLength="5.78" lengthAdjust="spacingAndGlyphs">20</text>
<line x1="188.1" y1="303.25" x2="189.1" y2="303.25" stroke="#222" stroke-width="0.45" />
<line x1="187.3" y1="296" x2="189.1" y2="296" stroke="#222" stroke-width="0.7" />
<text x="186.1" y="297.6" font-size="5.62" text-anchor="end" fill="#262626" textLength="5.78" lengthAdjust="spacingAndGlyphs">40</text>
<line x1="188.1" y1="288.75" x2="189.1" y2="288.75" stroke="#222" stroke-width="0.45" />
<line x1="187.3" y1="281.5" x2="189.1" y2="281.5" stroke="#222" stroke-width="0.7" />
<text x="186.1" y="283.1" font-size="5.62" text-anchor="end" fill="#262626" textLength="5.78" lengthAdjust="spacingAndGlyphs">60</text>
<line x1="188.1" y1="274.25" x2="189.1" y2="274.25" stroke="#222" stroke-width="0.45" />
<line x1="187.3" y1="267" x2="189.1" y2="267" stroke="#222" stroke-width="0.7" />
<text x="186.1" y="268.6" font-size="5.62" text-anchor="end" fill="#262626" textLength="5.78" lengthAdjust="spacingAndGlyphs">80</text>
<line x1="188.1" y1="259.75" x2="189.1" y2="259.75" stroke="#222" stroke-width="0.45" />
<line x1="187.3" y1="252.5" x2="189.1" y2="252.5" stroke="#222" stroke-width="0.7" />
<text x="186.1" y="254.1" font-size="5.62" text-anchor="end" fill="#262626" textLength="8.68" lengthAdjust="spacingAndGlyphs">100</text>
<line x1="195.2" y1="325" x2="195.2" y2="326.8" stroke="#222" stroke-width="0.7" />
<text x="195.2" y="335.6" font-size="5.2" text-anchor="middle" fill="#262626">−10<tspan dy="-1.5" font-size="2.8">3</tspan></text>
<line x1="211.3" y1="325" x2="211.3" y2="326.8" stroke="#222" stroke-width="0.7" />
<text x="211.3" y="335.6" font-size="5.2" text-anchor="middle" fill="#262626">0</text>
<line x1="227.5" y1="325" x2="227.5" y2="326.8" stroke="#222" stroke-width="0.7" />
<text x="227.5" y="335.6" font-size="5.2" text-anchor="middle" fill="#262626">10<tspan dy="-1.5" font-size="2.8">3</tspan></text>
<line x1="253.7" y1="325" x2="253.7" y2="326.8" stroke="#222" stroke-width="0.7" />
<text x="253.7" y="335.6" font-size="5.2" text-anchor="middle" fill="#262626">10<tspan dy="-1.5" font-size="2.8">4</tspan></text>
<line x1="277" y1="325" x2="277" y2="326.8" stroke="#222" stroke-width="0.7" />
<text x="277" y="335.6" font-size="5.2" text-anchor="middle" fill="#262626">10<tspan dy="-1.5" font-size="2.8">5</tspan></text>
<line x1="191" y1="325" x2="191" y2="326" stroke="#222" stroke-width="0.45" />
<line x1="193" y1="325" x2="193" y2="326" stroke="#222" stroke-width="0.45" />
<line x1="197" y1="325" x2="197" y2="326" stroke="#222" stroke-width="0.45" />
<line x1="199" y1="325" x2="199" y2="326" stroke="#222" stroke-width="0.45" />
<line x1="201" y1="325" x2="201" y2="326" stroke="#222" stroke-width="0.45" />
<line x1="203" y1="325" x2="203" y2="326" stroke="#222" stroke-width="0.45" />
<line x1="205" y1="325" x2="205" y2="326" stroke="#222" stroke-width="0.45" />
<line x1="207" y1="325" x2="207" y2="326" stroke="#222" stroke-width="0.45" />
<line x1="209" y1="325" x2="209" y2="326" stroke="#222" stroke-width="0.45" />
<line x1="210.3" y1="325" x2="210.3" y2="326" stroke="#222" stroke-width="0.45" />
<line x1="212.3" y1="325" x2="212.3" y2="326" stroke="#222" stroke-width="0.45" />
<line x1="214" y1="325" x2="214" y2="326" stroke="#222" stroke-width="0.45" />
<line x1="216" y1="325" x2="216" y2="326" stroke="#222" stroke-width="0.45" />
<line x1="218" y1="325" x2="218" y2="326" stroke="#222" stroke-width="0.45" />
<line x1="220" y1="325" x2="220" y2="326" stroke="#222" stroke-width="0.45" />
<line x1="222" y1="325" x2="222" y2="326" stroke="#222" stroke-width="0.45" />
<line x1="224" y1="325" x2="224" y2="326" stroke="#222" stroke-width="0.45" />
<line x1="226" y1="325" x2="226" y2="326" stroke="#222" stroke-width="0.45" />
<line x1="230" y1="325" x2="230" y2="326" stroke="#222" stroke-width="0.45" />
<line x1="233" y1="325" x2="233" y2="326" stroke="#222" stroke-width="0.45" />
<line x1="236" y1="325" x2="236" y2="326" stroke="#222" stroke-width="0.45" />
<line x1="239" y1="325" x2="239" y2="326" stroke="#222" stroke-width="0.45" />
<line x1="242" y1="325" x2="242" y2="326" stroke="#222" stroke-width="0.45" />
<line x1="245" y1="325" x2="245" y2="326" stroke="#222" stroke-width="0.45" />
<line x1="248" y1="325" x2="248" y2="326" stroke="#222" stroke-width="0.45" />
<line x1="251" y1="325" x2="251" y2="326" stroke="#222" stroke-width="0.45" />
<line x1="256" y1="325" x2="256" y2="326" stroke="#222" stroke-width="0.45" />
<line x1="259" y1="325" x2="259" y2="326" stroke="#222" stroke-width="0.45" />
<line x1="262" y1="325" x2="262" y2="326" stroke="#222" stroke-width="0.45" />
<line x1="265" y1="325" x2="265" y2="326" stroke="#222" stroke-width="0.45" />
<line x1="268" y1="325" x2="268" y2="326" stroke="#222" stroke-width="0.45" />
<line x1="271" y1="325" x2="271" y2="326" stroke="#222" stroke-width="0.45" />
<line x1="274" y1="325" x2="274" y2="326" stroke="#222" stroke-width="0.45" />
<line x1="280" y1="325" x2="280" y2="326" stroke="#222" stroke-width="0.45" />
<line x1="283" y1="325" x2="283" y2="326" stroke="#222" stroke-width="0.45" />
<line x1="286" y1="325" x2="286" y2="326" stroke="#222" stroke-width="0.45" />
<rect x="209.4" y="324.7" width="3.6" height="1.9" fill="#111" stroke="none" stroke-width="0.8" />
<line x1="189.1" y1="325" x2="287.3" y2="325" stroke="#111" stroke-width="1.2" />
<line x1="189.1" y1="249.1" x2="189.1" y2="325" stroke="#111" stroke-width="1.2" />
<text x="191.6" y="263.7" font-size="4.97" fill="#262626" textLength="37" lengthAdjust="spacingAndGlyphs">CTLA4 deficiency</text>
<text x="192.6" y="270.5" font-size="4.97" fill="#262626" textLength="34" lengthAdjust="spacingAndGlyphs">(post-abatacept)</text>
<text x="258" y="292.2" font-size="4.97" text-anchor="middle" fill="#262626" textLength="37" lengthAdjust="spacingAndGlyphs">CTLA4 deficiency</text>
<text x="258" y="298.8" font-size="4.97" text-anchor="middle" fill="#262626" textLength="33" lengthAdjust="spacingAndGlyphs">(pre-abatacept)</text>
<line x1="171.5" y1="312.7" x2="171.5" y2="339.8" stroke="#2a2a2a" stroke-width="1.2" />
<line x1="170.9" y1="339.2" x2="199.5" y2="339.2" stroke="#2a2a2a" stroke-width="1.2" />
<path d="M169.5,313.3 L171.5,309.2 L173.5,313.3 Z" fill="#2a2a2a" stroke="none" stroke-width="0.8" />
<path d="M198.9,337.2 L203.0,339.2 L198.9,341.2 Z" fill="#2a2a2a" stroke="none" stroke-width="0.8" />
<text x="187.7" y="348.6" font-size="6.48" text-anchor="middle" font-weight="bold" fill="#262626" textLength="13.8" lengthAdjust="spacingAndGlyphs">CD40L</text>
<text x="167.6" y="323" font-size="6.48" text-anchor="middle" font-weight="bold" fill="#262626" textLength="13.8" lengthAdjust="spacingAndGlyphs" transform="rotate(-90 167.6 323)">Count</text>
<line x1="330.9" y1="252.5" x2="330.9" y2="309.5" stroke="#222" stroke-width="0.9" />
<line x1="330.9" y1="309.5" x2="429.5" y2="309.5" stroke="#222" stroke-width="0.9" />
<line x1="329.1" y1="309.5" x2="330.9" y2="309.5" stroke="#222" stroke-width="0.7" />
<text x="327.9" y="311" font-size="5.18" text-anchor="end" fill="#262626" textLength="8.01" lengthAdjust="spacingAndGlyphs">500</text>
<line x1="329.1" y1="292.27" x2="330.9" y2="292.27" stroke="#222" stroke-width="0.7" />
<text x="327.9" y="293.77" font-size="5.18" text-anchor="end" fill="#262626" textLength="10.68" lengthAdjust="spacingAndGlyphs">1000</text>
<line x1="329.1" y1="275.03" x2="330.9" y2="275.03" stroke="#222" stroke-width="0.7" />
<text x="327.9" y="276.53" font-size="5.18" text-anchor="end" fill="#262626" textLength="10.68" lengthAdjust="spacingAndGlyphs">1500</text>
<line x1="329.1" y1="257.8" x2="330.9" y2="257.8" stroke="#222" stroke-width="0.7" />
<text x="327.9" y="259.3" font-size="5.18" text-anchor="end" fill="#262626" textLength="10.68" lengthAdjust="spacingAndGlyphs">2000</text>
<line x1="364.6" y1="309.5" x2="364.6" y2="313.7" stroke="#222" stroke-width="0.8" />
<line x1="397.4" y1="309.5" x2="397.4" y2="313.7" stroke="#222" stroke-width="0.8" />
<text x="300.6" y="284.5" font-size="5.62" text-anchor="middle" font-weight="bold" fill="#262626" textLength="28.3" lengthAdjust="spacingAndGlyphs" transform="rotate(-90 300.6 284.5)">CD40L (MFI)</text>
<text x="309.9" y="283.9" font-size="5.62" text-anchor="middle" font-weight="bold" fill="#262626" textLength="75.8" lengthAdjust="spacingAndGlyphs" transform="rotate(-90 309.9 283.9)">assayed unstimulated CD4+ T cells</text>
<circle cx="337.12" cy="296.4" r="0.9" fill="#38a8d6" stroke="none" stroke-width="0.5" />
<circle cx="337.91" cy="294.33" r="0.9" fill="#38a8d6" stroke="none" stroke-width="0.5" />
<circle cx="337.46" cy="292.96" r="0.9" fill="#38a8d6" stroke="none" stroke-width="0.5" />
<circle cx="338.07" cy="292.27" r="0.9" fill="#38a8d6" stroke="none" stroke-width="0.5" />
<circle cx="338.13" cy="291.58" r="0.9" fill="#38a8d6" stroke="none" stroke-width="0.5" />
<circle cx="336.67" cy="290.54" r="0.9" fill="#38a8d6" stroke="none" stroke-width="0.5" />
<circle cx="336.53" cy="289.51" r="0.9" fill="#38a8d6" stroke="none" stroke-width="0.5" />
<circle cx="338.68" cy="288.13" r="0.9" fill="#38a8d6" stroke="none" stroke-width="0.5" />
<circle cx="337.17" cy="286.75" r="0.9" fill="#38a8d6" stroke="none" stroke-width="0.5" />
<circle cx="337.11" cy="285.03" r="0.9" fill="#38a8d6" stroke="none" stroke-width="0.5" />
<line x1="337.8" y1="283.65" x2="337.8" y2="297.44" stroke="#38a8d6" stroke-width="0.7" />
<line x1="334.2" y1="290.54" x2="341.4" y2="290.54" stroke="#38a8d6" stroke-width="0.8" />
<line x1="336.1" y1="283.65" x2="339.5" y2="283.65" stroke="#38a8d6" stroke-width="0.7" />
<line x1="336.1" y1="297.44" x2="339.5" y2="297.44" stroke="#38a8d6" stroke-width="0.7" />
<circle cx="348.79" cy="290.54" r="0.9" fill="#a8102c" stroke="none" stroke-width="0.5" />
<circle cx="347.42" cy="288.82" r="0.9" fill="#a8102c" stroke="none" stroke-width="0.5" />
<circle cx="348.37" cy="287.1" r="0.9" fill="#a8102c" stroke="none" stroke-width="0.5" />
<circle cx="347.44" cy="286.06" r="0.9" fill="#a8102c" stroke="none" stroke-width="0.5" />
<circle cx="347.86" cy="284.68" r="0.9" fill="#a8102c" stroke="none" stroke-width="0.5" />
<circle cx="346.59" cy="283.31" r="0.9" fill="#a8102c" stroke="none" stroke-width="0.5" />
<circle cx="347.85" cy="281.24" r="0.9" fill="#a8102c" stroke="none" stroke-width="0.5" />
<circle cx="348.46" cy="274.69" r="0.9" fill="#a8102c" stroke="none" stroke-width="0.5" />
<line x1="347.5" y1="278.82" x2="347.5" y2="290.54" stroke="#a8102c" stroke-width="0.7" />
<line x1="343.9" y1="285.37" x2="351.1" y2="285.37" stroke="#a8102c" stroke-width="0.8" />
<line x1="345.8" y1="278.82" x2="349.2" y2="278.82" stroke="#a8102c" stroke-width="0.7" />
<line x1="345.8" y1="290.54" x2="349.2" y2="290.54" stroke="#a8102c" stroke-width="0.7" />
<circle cx="357.26" cy="295.02" r="0.9" fill="#358f3c" stroke="none" stroke-width="0.5" />
<circle cx="357.83" cy="292.27" r="0.9" fill="#358f3c" stroke="none" stroke-width="0.5" />
<circle cx="357.65" cy="289.51" r="0.9" fill="#358f3c" stroke="none" stroke-width="0.5" />
<circle cx="356.07" cy="287.79" r="0.9" fill="#358f3c" stroke="none" stroke-width="0.5" />
<circle cx="357.87" cy="285.37" r="0.9" fill="#358f3c" stroke="none" stroke-width="0.5" />
<circle cx="357.44" cy="281.93" r="0.9" fill="#358f3c" stroke="none" stroke-width="0.5" />
<line x1="357.2" y1="279.51" x2="357.2" y2="295.02" stroke="#358f3c" stroke-width="0.7" />
<line x1="353.6" y1="287.79" x2="360.8" y2="287.79" stroke="#358f3c" stroke-width="0.8" />
<line x1="355.5" y1="279.51" x2="358.9" y2="279.51" stroke="#358f3c" stroke-width="0.7" />
<line x1="355.5" y1="295.02" x2="358.9" y2="295.02" stroke="#358f3c" stroke-width="0.7" />
<circle cx="370.18" cy="287.1" r="0.9" fill="#38a8d6" stroke="none" stroke-width="0.5" />
<circle cx="369.48" cy="285.37" r="0.9" fill="#38a8d6" stroke="none" stroke-width="0.5" />
<circle cx="371.65" cy="283.65" r="0.9" fill="#38a8d6" stroke="none" stroke-width="0.5" />
<circle cx="370.63" cy="282.62" r="0.9" fill="#38a8d6" stroke="none" stroke-width="0.5" />
<circle cx="371.27" cy="281.93" r="0.9" fill="#38a8d6" stroke="none" stroke-width="0.5" />
<circle cx="371.68" cy="280.89" r="0.9" fill="#38a8d6" stroke="none" stroke-width="0.5" />
<circle cx="371.26" cy="279.17" r="0.9" fill="#38a8d6" stroke="none" stroke-width="0.5" />
<circle cx="371.79" cy="277.79" r="0.9" fill="#38a8d6" stroke="none" stroke-width="0.5" />
<circle cx="370.43" cy="267.45" r="0.9" fill="#38a8d6" stroke="none" stroke-width="0.5" />
<line x1="370.7" y1="277.1" x2="370.7" y2="287.79" stroke="#38a8d6" stroke-width="0.7" />
<line x1="367.1" y1="281.93" x2="374.3" y2="281.93" stroke="#38a8d6" stroke-width="0.8" />
<line x1="369" y1="277.1" x2="372.4" y2="277.1" stroke="#38a8d6" stroke-width="0.7" />
<line x1="369" y1="287.79" x2="372.4" y2="287.79" stroke="#38a8d6" stroke-width="0.7" />
<circle cx="380.78" cy="280.2" r="0.9" fill="#a8102c" stroke="none" stroke-width="0.5" />
<circle cx="379.86" cy="277.79" r="0.9" fill="#a8102c" stroke="none" stroke-width="0.5" />
<circle cx="381.13" cy="275.72" r="0.9" fill="#a8102c" stroke="none" stroke-width="0.5" />
<circle cx="380.99" cy="275.03" r="0.9" fill="#a8102c" stroke="none" stroke-width="0.5" />
<circle cx="378.95" cy="274" r="0.9" fill="#a8102c" stroke="none" stroke-width="0.5" />
<circle cx="379.05" cy="272.97" r="0.9" fill="#a8102c" stroke="none" stroke-width="0.5" />
<circle cx="379.26" cy="271.59" r="0.9" fill="#a8102c" stroke="none" stroke-width="0.5" />
<circle cx="381.21" cy="266.07" r="0.9" fill="#a8102c" stroke="none" stroke-width="0.5" />
<line x1="380" y1="268.14" x2="380" y2="282.27" stroke="#a8102c" stroke-width="0.7" />
<line x1="376.4" y1="275.03" x2="383.6" y2="275.03" stroke="#a8102c" stroke-width="0.8" />
<line x1="378.3" y1="268.14" x2="381.7" y2="268.14" stroke="#a8102c" stroke-width="0.7" />
<line x1="378.3" y1="282.27" x2="381.7" y2="282.27" stroke="#a8102c" stroke-width="0.7" />
<circle cx="389.53" cy="286.41" r="0.9" fill="#358f3c" stroke="none" stroke-width="0.5" />
<circle cx="390.03" cy="284.68" r="0.9" fill="#358f3c" stroke="none" stroke-width="0.5" />
<circle cx="389.18" cy="283.31" r="0.9" fill="#358f3c" stroke="none" stroke-width="0.5" />
<circle cx="389.72" cy="281.93" r="0.9" fill="#358f3c" stroke="none" stroke-width="0.5" />
<circle cx="389.4" cy="279.86" r="0.9" fill="#358f3c" stroke="none" stroke-width="0.5" />
<circle cx="389.31" cy="277.45" r="0.9" fill="#358f3c" stroke="none" stroke-width="0.5" />
<line x1="389.7" y1="277.79" x2="389.7" y2="287.1" stroke="#358f3c" stroke-width="0.7" />
<line x1="386.1" y1="281.93" x2="393.3" y2="281.93" stroke="#358f3c" stroke-width="0.8" />
<line x1="388" y1="277.79" x2="391.4" y2="277.79" stroke="#358f3c" stroke-width="0.7" />
<line x1="388" y1="287.1" x2="391.4" y2="287.1" stroke="#358f3c" stroke-width="0.7" />
<circle cx="403.32" cy="292.61" r="0.9" fill="#38a8d6" stroke="none" stroke-width="0.5" />
<circle cx="403.32" cy="289.51" r="0.9" fill="#38a8d6" stroke="none" stroke-width="0.5" />
<circle cx="404.15" cy="287.1" r="0.9" fill="#38a8d6" stroke="none" stroke-width="0.5" />
<circle cx="403.57" cy="285.37" r="0.9" fill="#38a8d6" stroke="none" stroke-width="0.5" />
<circle cx="404.22" cy="283.65" r="0.9" fill="#38a8d6" stroke="none" stroke-width="0.5" />
<circle cx="404.03" cy="281.93" r="0.9" fill="#38a8d6" stroke="none" stroke-width="0.5" />
<circle cx="404.38" cy="280.2" r="0.9" fill="#38a8d6" stroke="none" stroke-width="0.5" />
<circle cx="403.55" cy="278.48" r="0.9" fill="#38a8d6" stroke="none" stroke-width="0.5" />
<line x1="403.1" y1="278.48" x2="403.1" y2="292.27" stroke="#38a8d6" stroke-width="0.7" />
<line x1="399.5" y1="285.03" x2="406.7" y2="285.03" stroke="#38a8d6" stroke-width="0.8" />
<line x1="401.4" y1="278.48" x2="404.8" y2="278.48" stroke="#38a8d6" stroke-width="0.7" />
<line x1="401.4" y1="292.27" x2="404.8" y2="292.27" stroke="#38a8d6" stroke-width="0.7" />
<circle cx="411.92" cy="289.51" r="0.9" fill="#a8102c" stroke="none" stroke-width="0.5" />
<circle cx="413.74" cy="285.37" r="0.9" fill="#a8102c" stroke="none" stroke-width="0.5" />
<circle cx="414.01" cy="281.93" r="0.9" fill="#a8102c" stroke="none" stroke-width="0.5" />
<circle cx="413.85" cy="280.2" r="0.9" fill="#a8102c" stroke="none" stroke-width="0.5" />
<circle cx="412.98" cy="278.48" r="0.9" fill="#a8102c" stroke="none" stroke-width="0.5" />
<circle cx="413.36" cy="276.76" r="0.9" fill="#a8102c" stroke="none" stroke-width="0.5" />
<circle cx="412.05" cy="274.34" r="0.9" fill="#a8102c" stroke="none" stroke-width="0.5" />
<circle cx="413.66" cy="268.83" r="0.9" fill="#a8102c" stroke="none" stroke-width="0.5" />
<line x1="412.8" y1="272.97" x2="412.8" y2="288.82" stroke="#a8102c" stroke-width="0.7" />
<line x1="409.2" y1="279.17" x2="416.4" y2="279.17" stroke="#a8102c" stroke-width="0.8" />
<line x1="411.1" y1="272.97" x2="414.5" y2="272.97" stroke="#a8102c" stroke-width="0.7" />
<line x1="411.1" y1="288.82" x2="414.5" y2="288.82" stroke="#a8102c" stroke-width="0.7" />
<circle cx="423.09" cy="290.89" r="0.9" fill="#358f3c" stroke="none" stroke-width="0.5" />
<circle cx="422.34" cy="287.1" r="0.9" fill="#358f3c" stroke="none" stroke-width="0.5" />
<circle cx="421.76" cy="282.62" r="0.9" fill="#358f3c" stroke="none" stroke-width="0.5" />
<circle cx="423.82" cy="278.48" r="0.9" fill="#358f3c" stroke="none" stroke-width="0.5" />
<circle cx="424.17" cy="273.31" r="0.9" fill="#358f3c" stroke="none" stroke-width="0.5" />
<line x1="422.9" y1="273.65" x2="422.9" y2="290.54" stroke="#358f3c" stroke-width="0.7" />
<line x1="419.3" y1="282.27" x2="426.5" y2="282.27" stroke="#358f3c" stroke-width="0.8" />
<line x1="421.2" y1="273.65" x2="424.6" y2="273.65" stroke="#358f3c" stroke-width="0.7" />
<line x1="421.2" y1="290.54" x2="424.6" y2="290.54" stroke="#358f3c" stroke-width="0.7" />
<line x1="337.3" y1="263.4" x2="357.2" y2="263.4" stroke="#222" stroke-width="0.8" />
<text x="347.3" y="261" font-size="4.9" text-anchor="middle" fill="#262626"><tspan font-style="italic">P</tspan> = .10</text>
<line x1="402.7" y1="263.6" x2="422.9" y2="263.6" stroke="#222" stroke-width="0.8" />
<text x="412.8" y="261" font-size="4.9" text-anchor="middle" fill="#262626"><tspan font-style="italic">P</tspan> = .12</text>
<path d="M369.5,247.2 L369.5,245.3 L390.9,245.3 L390.9,247.2" fill="none" stroke="#222" stroke-width="0.8" />
<text x="380.2" y="243.4" font-size="4.75" text-anchor="middle" fill="#262626" textLength="4.65" lengthAdjust="spacingAndGlyphs">ns</text>
<path d="M369.5,257 L369.5,255 L390.9,255 L390.9,257 M380,255 L380,257" fill="none" stroke="#222" stroke-width="0.8" />
<text x="375.2" y="254.9" font-size="4.75" text-anchor="middle" fill="#262626" textLength="1.71" lengthAdjust="spacingAndGlyphs">*</text>
<text x="385.7" y="254.9" font-size="4.75" text-anchor="middle" fill="#262626" textLength="1.71" lengthAdjust="spacingAndGlyphs">*</text>
<text x="349.6" y="316" font-size="5.4" text-anchor="middle" fill="#262626" textLength="14" lengthAdjust="spacingAndGlyphs">CD4+</text>
<text x="349.6" y="322" font-size="4.97" text-anchor="middle" fill="#262626" textLength="8.69" lengthAdjust="spacingAndGlyphs">total</text>
<text x="380.5" y="316" font-size="5.4" text-anchor="middle" fill="#262626" textLength="14" lengthAdjust="spacingAndGlyphs">CD4+</text>
<text x="380.5" y="322" font-size="4.97" text-anchor="middle" fill="#262626" textLength="16.1" lengthAdjust="spacingAndGlyphs">TEMRA</text>
<text x="413.5" y="316" font-size="5.4" text-anchor="middle" fill="#262626" textLength="14" lengthAdjust="spacingAndGlyphs">CD4+</text>
<text x="413.5" y="322" font-size="4.97" text-anchor="middle" fill="#262626" textLength="6.9" lengthAdjust="spacingAndGlyphs">EM</text>
<circle cx="346.6" cy="329.3" r="2.1" fill="#3ab4dc" stroke="#333" stroke-width="0.35" stroke-opacity="0.5"/>
<text x="351.2" y="331" font-size="5.29" fill="#262626" textLength="54.2" lengthAdjust="spacingAndGlyphs">Healthy controls (n = 10)</text>
<circle cx="346.6" cy="336.3" r="2.1" fill="#b8102e" stroke="#333" stroke-width="0.35" stroke-opacity="0.5"/>
<text x="351.2" y="338" font-size="5.29" fill="#262626" textLength="57.6" lengthAdjust="spacingAndGlyphs">CTLA4 pre-abatacept (n = 8)</text>
<circle cx="346.6" cy="343.9" r="2.1" fill="#3a9a3e" stroke="#333" stroke-width="0.35" stroke-opacity="0.5"/>
<text x="351.2" y="345.6" font-size="5.29" fill="#262626" textLength="61.5" lengthAdjust="spacingAndGlyphs">CTLA4 post-abatacept (n = 6)</text>
<line x1="482.5" y1="253" x2="482.5" y2="309.3" stroke="#222" stroke-width="0.9" />
<line x1="482.5" y1="309.3" x2="513.1" y2="309.3" stroke="#222" stroke-width="0.9" />
<line x1="480.7" y1="309.3" x2="482.5" y2="309.3" stroke="#222" stroke-width="0.7" />
<text x="479.5" y="310.8" font-size="5.18" text-anchor="end" fill="#262626" textLength="8.01" lengthAdjust="spacingAndGlyphs">500</text>
<line x1="480.7" y1="292.3" x2="482.5" y2="292.3" stroke="#222" stroke-width="0.7" />
<text x="479.5" y="293.8" font-size="5.18" text-anchor="end" fill="#262626" textLength="10.68" lengthAdjust="spacingAndGlyphs">1000</text>
<line x1="480.7" y1="275.3" x2="482.5" y2="275.3" stroke="#222" stroke-width="0.7" />
<text x="479.5" y="276.8" font-size="5.18" text-anchor="end" fill="#262626" textLength="10.68" lengthAdjust="spacingAndGlyphs">1500</text>
<line x1="480.7" y1="258.3" x2="482.5" y2="258.3" stroke="#222" stroke-width="0.7" />
<text x="479.5" y="259.8" font-size="5.18" text-anchor="end" fill="#262626" textLength="10.68" lengthAdjust="spacingAndGlyphs">2000</text>
<line x1="490.9" y1="309.3" x2="490.9" y2="311.1" stroke="#222" stroke-width="0.7" />
<line x1="504.6" y1="309.3" x2="504.6" y2="311.1" stroke="#222" stroke-width="0.7" />
<line x1="490.9" y1="274.62" x2="504.6" y2="282.1" stroke="url(#pg2)" stroke-width="0.5" />
<line x1="490.9" y1="277" x2="504.6" y2="283.8" stroke="url(#pg2)" stroke-width="0.5" />
<line x1="490.9" y1="280.4" x2="504.6" y2="285.5" stroke="url(#pg2)" stroke-width="0.5" />
<line x1="490.9" y1="278.7" x2="504.6" y2="287.2" stroke="url(#pg2)" stroke-width="0.5" />
<rect x="489.9" y="273.62" width="2" height="2" fill="#a8102c" stroke="none" stroke-width="0.8" />
<rect x="489.9" y="276" width="2" height="2" fill="#a8102c" stroke="none" stroke-width="0.8" />
<rect x="489.9" y="279.4" width="2" height="2" fill="#a8102c" stroke="none" stroke-width="0.8" />
<rect x="489.9" y="277.7" width="2" height="2" fill="#a8102c" stroke="none" stroke-width="0.8" />
<rect x="503.6" y="281.1" width="2" height="2" fill="#4aa84a" stroke="none" stroke-width="0.8" />
<rect x="503.6" y="282.8" width="2" height="2" fill="#4aa84a" stroke="none" stroke-width="0.8" />
<rect x="503.6" y="284.5" width="2" height="2" fill="#4aa84a" stroke="none" stroke-width="0.8" />
<rect x="503.6" y="286.2" width="2" height="2" fill="#4aa84a" stroke="none" stroke-width="0.8" />
<path d="M490.9,259.9 L490.9,257.5 L504.6,257.5 L504.6,259.9" fill="none" stroke="#222" stroke-width="0.8" />
<text x="497.6" y="247.9" font-size="4.9" text-anchor="middle" fill="#262626"><tspan font-style="italic">P</tspan> = .13</text>
<text x="497.7" y="253.5" font-size="5.18" text-anchor="middle" fill="#262626" textLength="29.9" lengthAdjust="spacingAndGlyphs">(paired, n = 4)</text>
<text x="444.4" y="283.8" font-size="5.62" text-anchor="middle" font-weight="bold" fill="#262626" textLength="28.5" lengthAdjust="spacingAndGlyphs" transform="rotate(-90 444.4 283.8)">CD40L (MFI)</text>
<text x="452.2" y="283.3" font-size="5.62" text-anchor="middle" font-weight="bold" fill="#262626" textLength="45.4" lengthAdjust="spacingAndGlyphs" transform="rotate(-90 452.2 283.3)">assayed unstimulated</text>
<text x="459.3" y="283.3" font-size="5.62" text-anchor="middle" font-weight="bold" fill="#262626" textLength="45.4" lengthAdjust="spacingAndGlyphs" transform="rotate(-90 459.3 283.3)">TEMRA CD4+ T cells</text>
<text x="455.9" y="353.55" font-size="5.4" fill="#333" textLength="52.27" lengthAdjust="spacingAndGlyphs" transform="rotate(-46.16 455.9 353.55)">CTLA4 (pre-abatacept)</text>
<text x="466.66" y="355.88" font-size="5.4" fill="#333" textLength="53.81" lengthAdjust="spacingAndGlyphs" transform="rotate(-44.47 466.66 355.88)">CTLA4 (post-abatacept)</text>
<line x1="291.6" y1="385.5" x2="291.6" y2="440.8" stroke="#222" stroke-width="0.9" />
<line x1="291.6" y1="440.8" x2="369.8" y2="440.8" stroke="#222" stroke-width="0.9" />
<line x1="289.8" y1="440.8" x2="291.6" y2="440.8" stroke="#222" stroke-width="0.7" />
<text x="288.6" y="442.3" font-size="5.18" text-anchor="end" fill="#262626" textLength="8.01" lengthAdjust="spacingAndGlyphs">500</text>
<line x1="289.8" y1="423.33" x2="291.6" y2="423.33" stroke="#222" stroke-width="0.7" />
<text x="288.6" y="424.83" font-size="5.18" text-anchor="end" fill="#262626" textLength="10.68" lengthAdjust="spacingAndGlyphs">1000</text>
<line x1="289.8" y1="405.87" x2="291.6" y2="405.87" stroke="#222" stroke-width="0.7" />
<text x="288.6" y="407.37" font-size="5.18" text-anchor="end" fill="#262626" textLength="10.68" lengthAdjust="spacingAndGlyphs">1500</text>
<line x1="289.8" y1="388.4" x2="291.6" y2="388.4" stroke="#222" stroke-width="0.7" />
<text x="288.6" y="389.9" font-size="5.18" text-anchor="end" fill="#262626" textLength="10.68" lengthAdjust="spacingAndGlyphs">2000</text>
<line x1="291.9" y1="440.8" x2="291.9" y2="442.6" stroke="#222" stroke-width="0.7" />
<text x="291.9" y="450.4" font-size="5.18" text-anchor="middle" fill="#262626" textLength="2.67" lengthAdjust="spacingAndGlyphs">0</text>
<line x1="307.08" y1="440.8" x2="307.08" y2="442.6" stroke="#222" stroke-width="0.7" />
<text x="307.08" y="450.4" font-size="5.18" text-anchor="middle" fill="#262626" textLength="5.34" lengthAdjust="spacingAndGlyphs">20</text>
<line x1="322.26" y1="440.8" x2="322.26" y2="442.6" stroke="#222" stroke-width="0.7" />
<text x="322.26" y="450.4" font-size="5.18" text-anchor="middle" fill="#262626" textLength="5.34" lengthAdjust="spacingAndGlyphs">40</text>
<line x1="337.44" y1="440.8" x2="337.44" y2="442.6" stroke="#222" stroke-width="0.7" />
<text x="337.44" y="450.4" font-size="5.18" text-anchor="middle" fill="#262626" textLength="5.34" lengthAdjust="spacingAndGlyphs">60</text>
<line x1="352.62" y1="440.8" x2="352.62" y2="442.6" stroke="#222" stroke-width="0.7" />
<text x="352.62" y="450.4" font-size="5.18" text-anchor="middle" fill="#262626" textLength="5.34" lengthAdjust="spacingAndGlyphs">80</text>
<line x1="367.8" y1="440.8" x2="367.8" y2="442.6" stroke="#222" stroke-width="0.7" />
<text x="367.8" y="450.4" font-size="5.18" text-anchor="middle" fill="#262626" textLength="8.01" lengthAdjust="spacingAndGlyphs">100</text>
<text x="333.8" y="459.2" font-size="6.7" text-anchor="middle" fill="#262626" textLength="19.5" lengthAdjust="spacingAndGlyphs">FO B cells</text>
<text x="331.2" y="467.8" font-size="6.7" text-anchor="middle" fill="#262626" textLength="66.9" lengthAdjust="spacingAndGlyphs">(MTG-CD10– as % IgD+CD27–)</text>
<text x="252.9" y="414.6" font-size="5.62" text-anchor="middle" font-weight="bold" fill="#262626" textLength="28.3" lengthAdjust="spacingAndGlyphs" transform="rotate(-90 252.9 414.6)">CD40L (MFI)</text>
<text x="260.9" y="414.3" font-size="5.62" text-anchor="middle" font-weight="bold" fill="#262626" textLength="51.6" lengthAdjust="spacingAndGlyphs" transform="rotate(-90 260.9 414.3)">assayed in unstimulated</text>
<text x="268.5" y="414.6" font-size="5.62" text-anchor="middle" font-weight="bold" fill="#262626" textLength="45.3" lengthAdjust="spacingAndGlyphs" transform="rotate(-90 268.5 414.6)">TEMRA CD4+ T cells</text>
<line x1="304" y1="399.2" x2="358" y2="422.3" stroke="#c8a8a8" stroke-width="0.55" />
<line x1="304" y1="410.5" x2="358" y2="412.2" stroke="#a8ccd4" stroke-width="0.55" />
<line x1="304" y1="404.8" x2="359" y2="416.5" stroke="#222" stroke-width="0.8" />
<circle cx="315.8" cy="416.5" r="1.1" fill="#37953f" stroke="none" stroke-width="0.5" />
<circle cx="320.8" cy="412.7" r="1.1" fill="#37953f" stroke="none" stroke-width="0.5" />
<circle cx="323.4" cy="418.6" r="1.1" fill="#37953f" stroke="none" stroke-width="0.5" />
<circle cx="330.3" cy="411.7" r="1.1" fill="#37953f" stroke="none" stroke-width="0.5" />
<circle cx="335.2" cy="415.1" r="1.1" fill="#37953f" stroke="none" stroke-width="0.5" />
<circle cx="337.8" cy="412.5" r="1.1" fill="#37953f" stroke="none" stroke-width="0.5" />
<circle cx="339.7" cy="398.4" r="1.1" fill="#42b0d8" stroke="none" stroke-width="0.5" />
<circle cx="338.6" cy="409.3" r="1.1" fill="#42b0d8" stroke="none" stroke-width="0.5" />
<circle cx="340.4" cy="411.3" r="1.1" fill="#42b0d8" stroke="none" stroke-width="0.5" />
<circle cx="339" cy="416.2" r="1.1" fill="#42b0d8" stroke="none" stroke-width="0.5" />
<circle cx="340.7" cy="416.5" r="1.1" fill="#42b0d8" stroke="none" stroke-width="0.5" />
<circle cx="340.4" cy="419.1" r="1.1" fill="#42b0d8" stroke="none" stroke-width="0.5" />
<circle cx="345.6" cy="420.3" r="1.1" fill="#42b0d8" stroke="none" stroke-width="0.5" />
<circle cx="347.6" cy="416.5" r="1.1" fill="#42b0d8" stroke="none" stroke-width="0.5" />
<circle cx="348.2" cy="414.5" r="1.1" fill="#42b0d8" stroke="none" stroke-width="0.5" />
<circle cx="359" cy="411.7" r="1.1" fill="#42b0d8" stroke="none" stroke-width="0.5" />
<circle cx="304.4" cy="404.8" r="1.1" fill="#a3122c" stroke="none" stroke-width="0.5" />
<circle cx="308" cy="402.7" r="1.1" fill="#a3122c" stroke="none" stroke-width="0.5" />
<circle cx="310.1" cy="403" r="1.1" fill="#a3122c" stroke="none" stroke-width="0.5" />
<circle cx="319.1" cy="396.6" r="1.1" fill="#a3122c" stroke="none" stroke-width="0.5" />
<circle cx="323.4" cy="408.7" r="1.1" fill="#a3122c" stroke="none" stroke-width="0.5" />
<circle cx="327" cy="405.8" r="1.1" fill="#a3122c" stroke="none" stroke-width="0.5" />
<circle cx="328.6" cy="404.8" r="1.1" fill="#a3122c" stroke="none" stroke-width="0.5" />
<circle cx="337.2" cy="411.7" r="1.1" fill="#a3122c" stroke="none" stroke-width="0.5" />
<circle cx="376.2" cy="390.8" r="2.1" fill="#42b0d8" stroke="#333" stroke-width="0.35" stroke-opacity="0.5"/>
<text x="381.2" y="392.5" font-size="5.29" fill="#262626" textLength="54.2" lengthAdjust="spacingAndGlyphs">Healthy controls (n = 10)</text>
<circle cx="376.2" cy="400.6" r="2.1" fill="#a3122c" stroke="#333" stroke-width="0.35" stroke-opacity="0.5"/>
<text x="381.2" y="402.3" font-size="5.29" fill="#262626" textLength="62.8" lengthAdjust="spacingAndGlyphs">CTLA4 pre-abatacept (n = 8)</text>
<circle cx="376.2" cy="410.2" r="2.1" fill="#37953f" stroke="#333" stroke-width="0.35" stroke-opacity="0.5"/>
<text x="381.2" y="411.9" font-size="5.29" fill="#262626" textLength="65.7" lengthAdjust="spacingAndGlyphs">CTLA4 post-abatacept (n = 6)</text>
<line x1="396" y1="425.4" x2="401.7" y2="425.4" stroke="#222" stroke-width="0.8" />
<circle cx="398.9" cy="425.4" r="0.9" fill="#222" stroke="none" stroke-width="0.5" />
<text x="405.6" y="427" font-size="4.9" fill="#262626"><tspan font-style="italic">P</tspan> = .0208</text>
<text x="405.6" y="436.6" font-size="4.9" fill="#262626">R<tspan dy="-1.8" font-size="3">2</tspan><tspan dy="1.8"> = 0.2206</tspan></text>
<line x1="29.6" y1="226.5" x2="29.6" y2="309.5" stroke="#222" stroke-width="0.9" />
<line x1="29.6" y1="309.5" x2="149.5" y2="309.5" stroke="#222" stroke-width="0.9" />
<line x1="27.8" y1="309.5" x2="29.6" y2="309.5" stroke="#222" stroke-width="0.7" />
<text x="26.6" y="311" font-size="5.18" text-anchor="end" fill="#262626" textLength="2.67" lengthAdjust="spacingAndGlyphs">0</text>
<line x1="27.8" y1="293.28" x2="29.6" y2="293.28" stroke="#222" stroke-width="0.7" />
<text x="26.6" y="294.78" font-size="5.18" text-anchor="end" fill="#262626" textLength="5.34" lengthAdjust="spacingAndGlyphs">20</text>
<line x1="27.8" y1="277.06" x2="29.6" y2="277.06" stroke="#222" stroke-width="0.7" />
<text x="26.6" y="278.56" font-size="5.18" text-anchor="end" fill="#262626" textLength="5.34" lengthAdjust="spacingAndGlyphs">40</text>
<line x1="27.8" y1="260.84" x2="29.6" y2="260.84" stroke="#222" stroke-width="0.7" />
<text x="26.6" y="262.34" font-size="5.18" text-anchor="end" fill="#262626" textLength="5.34" lengthAdjust="spacingAndGlyphs">60</text>
<line x1="27.8" y1="244.62" x2="29.6" y2="244.62" stroke="#222" stroke-width="0.7" />
<text x="26.6" y="246.12" font-size="5.18" text-anchor="end" fill="#262626" textLength="5.34" lengthAdjust="spacingAndGlyphs">80</text>
<line x1="27.8" y1="228.4" x2="29.6" y2="228.4" stroke="#222" stroke-width="0.7" />
<text x="26.6" y="229.9" font-size="5.18" text-anchor="end" fill="#262626" textLength="8.01" lengthAdjust="spacingAndGlyphs">100</text>
<line x1="71.5" y1="309.5" x2="71.5" y2="313.8" stroke="#222" stroke-width="0.8" />
<line x1="108.4" y1="309.5" x2="108.4" y2="313.8" stroke="#222" stroke-width="0.8" />
<text x="14" y="267.6" font-size="5.94" text-anchor="middle" font-weight="bold" fill="#2a2a2a" textLength="79.8" lengthAdjust="spacingAndGlyphs" transform="rotate(-90 14 267.6)">Naive B cell subsets (% IgD+CD27−)</text>
<circle cx="38.94" cy="305.44" r="0.9" fill="#38a8d6" stroke="none" stroke-width="0.5" />
<circle cx="39.65" cy="304.63" r="0.9" fill="#38a8d6" stroke="none" stroke-width="0.5" />
<circle cx="39.97" cy="304.23" r="0.9" fill="#38a8d6" stroke="none" stroke-width="0.5" />
<circle cx="40.85" cy="303.82" r="0.9" fill="#38a8d6" stroke="none" stroke-width="0.5" />
<circle cx="39.64" cy="303.82" r="0.9" fill="#38a8d6" stroke="none" stroke-width="0.5" />
<circle cx="40.73" cy="303.42" r="0.9" fill="#38a8d6" stroke="none" stroke-width="0.5" />
<circle cx="35.37" cy="303.01" r="0.9" fill="#38a8d6" stroke="none" stroke-width="0.5" />
<circle cx="37.99" cy="303.01" r="0.9" fill="#38a8d6" stroke="none" stroke-width="0.5" />
<circle cx="40.86" cy="302.61" r="0.9" fill="#38a8d6" stroke="none" stroke-width="0.5" />
<circle cx="39.09" cy="302.2" r="0.9" fill="#38a8d6" stroke="none" stroke-width="0.5" />
<circle cx="40.61" cy="301.8" r="0.9" fill="#38a8d6" stroke="none" stroke-width="0.5" />
<circle cx="35.88" cy="301.39" r="0.9" fill="#38a8d6" stroke="none" stroke-width="0.5" />
<circle cx="38.01" cy="304.63" r="0.9" fill="#38a8d6" stroke="none" stroke-width="0.5" />
<circle cx="36.68" cy="303.42" r="0.9" fill="#38a8d6" stroke="none" stroke-width="0.5" />
<circle cx="38.46" cy="302.61" r="0.9" fill="#38a8d6" stroke="none" stroke-width="0.5" />
<circle cx="38.64" cy="305.04" r="0.9" fill="#38a8d6" stroke="none" stroke-width="0.5" />
<line x1="38.2" y1="301.8" x2="38.2" y2="305.04" stroke="#38a8d6" stroke-width="0.7" />
<line x1="34.6" y1="303.42" x2="41.8" y2="303.42" stroke="#38a8d6" stroke-width="0.8" />
<line x1="36.5" y1="301.8" x2="39.9" y2="301.8" stroke="#38a8d6" stroke-width="0.7" />
<line x1="36.5" y1="305.04" x2="39.9" y2="305.04" stroke="#38a8d6" stroke-width="0.7" />
<circle cx="50.23" cy="306.26" r="0.9" fill="#a8102c" stroke="none" stroke-width="0.5" />
<circle cx="50.76" cy="305.44" r="0.9" fill="#a8102c" stroke="none" stroke-width="0.5" />
<circle cx="50.93" cy="303.01" r="0.9" fill="#a8102c" stroke="none" stroke-width="0.5" />
<circle cx="52.58" cy="301.39" r="0.9" fill="#a8102c" stroke="none" stroke-width="0.5" />
<circle cx="52.19" cy="299.77" r="0.9" fill="#a8102c" stroke="none" stroke-width="0.5" />
<circle cx="50.61" cy="298.96" r="0.9" fill="#a8102c" stroke="none" stroke-width="0.5" />
<circle cx="52.27" cy="297.33" r="0.9" fill="#a8102c" stroke="none" stroke-width="0.5" />
<circle cx="50.56" cy="293.28" r="0.9" fill="#a8102c" stroke="none" stroke-width="0.5" />
<circle cx="51.81" cy="291.66" r="0.9" fill="#a8102c" stroke="none" stroke-width="0.5" />
<circle cx="50.53" cy="279.49" r="0.9" fill="#a8102c" stroke="none" stroke-width="0.5" />
<circle cx="50.2" cy="275.44" r="0.9" fill="#a8102c" stroke="none" stroke-width="0.5" />
<line x1="51.5" y1="291.66" x2="51.5" y2="305.85" stroke="#a8102c" stroke-width="0.7" />
<line x1="47.9" y1="299.36" x2="55.1" y2="299.36" stroke="#a8102c" stroke-width="0.8" />
<line x1="49.8" y1="291.66" x2="53.2" y2="291.66" stroke="#a8102c" stroke-width="0.7" />
<line x1="49.8" y1="305.85" x2="53.2" y2="305.85" stroke="#a8102c" stroke-width="0.7" />
<circle cx="65.57" cy="309.09" r="0.9" fill="#358f3c" stroke="none" stroke-width="0.5" />
<circle cx="63.84" cy="308.69" r="0.9" fill="#358f3c" stroke="none" stroke-width="0.5" />
<circle cx="63.86" cy="306.26" r="0.9" fill="#358f3c" stroke="none" stroke-width="0.5" />
<circle cx="65.85" cy="303.82" r="0.9" fill="#358f3c" stroke="none" stroke-width="0.5" />
<circle cx="65.57" cy="299.77" r="0.9" fill="#358f3c" stroke="none" stroke-width="0.5" />
<circle cx="64.05" cy="293.28" r="0.9" fill="#358f3c" stroke="none" stroke-width="0.5" />
<circle cx="65.8" cy="297.33" r="0.9" fill="#358f3c" stroke="none" stroke-width="0.5" />
<circle cx="64.7" cy="307.88" r="0.9" fill="#358f3c" stroke="none" stroke-width="0.5" />
<line x1="64.6" y1="293.28" x2="64.6" y2="309.26" stroke="#358f3c" stroke-width="0.7" />
<line x1="61" y1="303.82" x2="68.2" y2="303.82" stroke="#358f3c" stroke-width="0.8" />
<line x1="62.9" y1="293.28" x2="66.3" y2="293.28" stroke="#358f3c" stroke-width="0.7" />
<line x1="62.9" y1="309.26" x2="66.3" y2="309.26" stroke="#358f3c" stroke-width="0.7" />
<circle cx="77.67" cy="257.6" r="0.9" fill="#38a8d6" stroke="none" stroke-width="0.5" />
<circle cx="76.16" cy="256.79" r="0.9" fill="#38a8d6" stroke="none" stroke-width="0.5" />
<circle cx="78.51" cy="255.97" r="0.9" fill="#38a8d6" stroke="none" stroke-width="0.5" />
<circle cx="77.71" cy="255.16" r="0.9" fill="#38a8d6" stroke="none" stroke-width="0.5" />
<circle cx="78.59" cy="254.35" r="0.9" fill="#38a8d6" stroke="none" stroke-width="0.5" />
<circle cx="78.36" cy="253.54" r="0.9" fill="#38a8d6" stroke="none" stroke-width="0.5" />
<circle cx="76.46" cy="252.73" r="0.9" fill="#38a8d6" stroke="none" stroke-width="0.5" />
<circle cx="76.66" cy="252.73" r="0.9" fill="#38a8d6" stroke="none" stroke-width="0.5" />
<circle cx="76.03" cy="251.92" r="0.9" fill="#38a8d6" stroke="none" stroke-width="0.5" />
<circle cx="75.97" cy="251.11" r="0.9" fill="#38a8d6" stroke="none" stroke-width="0.5" />
<circle cx="75.71" cy="250.3" r="0.9" fill="#38a8d6" stroke="none" stroke-width="0.5" />
<circle cx="76.46" cy="249.49" r="0.9" fill="#38a8d6" stroke="none" stroke-width="0.5" />
<circle cx="77.43" cy="248.68" r="0.9" fill="#38a8d6" stroke="none" stroke-width="0.5" />
<circle cx="75.51" cy="255.97" r="0.9" fill="#38a8d6" stroke="none" stroke-width="0.5" />
<circle cx="77.67" cy="254.35" r="0.9" fill="#38a8d6" stroke="none" stroke-width="0.5" />
<circle cx="76.58" cy="238.13" r="0.9" fill="#38a8d6" stroke="none" stroke-width="0.5" />
<line x1="77.1" y1="249.49" x2="77.1" y2="257.6" stroke="#38a8d6" stroke-width="0.7" />
<line x1="73.5" y1="253.54" x2="80.7" y2="253.54" stroke="#38a8d6" stroke-width="0.8" />
<line x1="75.4" y1="249.49" x2="78.8" y2="249.49" stroke="#38a8d6" stroke-width="0.7" />
<line x1="75.4" y1="257.6" x2="78.8" y2="257.6" stroke="#38a8d6" stroke-width="0.7" />
<circle cx="89.51" cy="296.52" r="0.9" fill="#a8102c" stroke="none" stroke-width="0.5" />
<circle cx="90.83" cy="294.9" r="0.9" fill="#a8102c" stroke="none" stroke-width="0.5" />
<circle cx="89.95" cy="291.66" r="0.9" fill="#a8102c" stroke="none" stroke-width="0.5" />
<circle cx="89.52" cy="289.23" r="0.9" fill="#a8102c" stroke="none" stroke-width="0.5" />
<circle cx="89.95" cy="286.79" r="0.9" fill="#a8102c" stroke="none" stroke-width="0.5" />
<circle cx="90.53" cy="283.55" r="0.9" fill="#a8102c" stroke="none" stroke-width="0.5" />
<circle cx="88.85" cy="280.3" r="0.9" fill="#a8102c" stroke="none" stroke-width="0.5" />
<circle cx="91.24" cy="275.44" r="0.9" fill="#a8102c" stroke="none" stroke-width="0.5" />
<circle cx="88.76" cy="270.57" r="0.9" fill="#a8102c" stroke="none" stroke-width="0.5" />
<circle cx="90.65" cy="267.33" r="0.9" fill="#a8102c" stroke="none" stroke-width="0.5" />
<circle cx="90.9" cy="260.84" r="0.9" fill="#a8102c" stroke="none" stroke-width="0.5" />
<line x1="90" y1="267.33" x2="90" y2="293.28" stroke="#a8102c" stroke-width="0.7" />
<line x1="86.4" y1="280.3" x2="93.6" y2="280.3" stroke="#a8102c" stroke-width="0.8" />
<line x1="88.3" y1="267.33" x2="91.7" y2="267.33" stroke="#a8102c" stroke-width="0.7" />
<line x1="88.3" y1="293.28" x2="91.7" y2="293.28" stroke="#a8102c" stroke-width="0.7" />
<circle cx="101.75" cy="284.36" r="0.9" fill="#358f3c" stroke="none" stroke-width="0.5" />
<circle cx="103.75" cy="277.06" r="0.9" fill="#358f3c" stroke="none" stroke-width="0.5" />
<circle cx="102.65" cy="273" r="0.9" fill="#358f3c" stroke="none" stroke-width="0.5" />
<circle cx="103.2" cy="268.95" r="0.9" fill="#358f3c" stroke="none" stroke-width="0.5" />
<circle cx="101.72" cy="266.52" r="0.9" fill="#358f3c" stroke="none" stroke-width="0.5" />
<circle cx="101.82" cy="263.27" r="0.9" fill="#358f3c" stroke="none" stroke-width="0.5" />
<circle cx="102.17" cy="260.84" r="0.9" fill="#358f3c" stroke="none" stroke-width="0.5" />
<circle cx="104.18" cy="257.6" r="0.9" fill="#358f3c" stroke="none" stroke-width="0.5" />
<line x1="103" y1="260.84" x2="103" y2="277.87" stroke="#358f3c" stroke-width="0.7" />
<line x1="99.4" y1="268.95" x2="106.6" y2="268.95" stroke="#358f3c" stroke-width="0.8" />
<line x1="101.3" y1="260.84" x2="104.7" y2="260.84" stroke="#358f3c" stroke-width="0.7" />
<line x1="101.3" y1="277.87" x2="104.7" y2="277.87" stroke="#358f3c" stroke-width="0.7" />
<circle cx="113.38" cy="307.88" r="0.9" fill="#38a8d6" stroke="none" stroke-width="0.5" />
<circle cx="117.29" cy="307.47" r="0.9" fill="#38a8d6" stroke="none" stroke-width="0.5" />
<circle cx="118.51" cy="307.07" r="0.9" fill="#38a8d6" stroke="none" stroke-width="0.5" />
<circle cx="118.59" cy="307.07" r="0.9" fill="#38a8d6" stroke="none" stroke-width="0.5" />
<circle cx="114.41" cy="306.66" r="0.9" fill="#38a8d6" stroke="none" stroke-width="0.5" />
<circle cx="114.48" cy="307.07" r="0.9" fill="#38a8d6" stroke="none" stroke-width="0.5" />
<circle cx="115.67" cy="307.47" r="0.9" fill="#38a8d6" stroke="none" stroke-width="0.5" />
<circle cx="117.43" cy="306.26" r="0.9" fill="#38a8d6" stroke="none" stroke-width="0.5" />
<circle cx="112.76" cy="307.07" r="0.9" fill="#38a8d6" stroke="none" stroke-width="0.5" />
<circle cx="117.24" cy="306.66" r="0.9" fill="#38a8d6" stroke="none" stroke-width="0.5" />
<circle cx="117.58" cy="307.88" r="0.9" fill="#38a8d6" stroke="none" stroke-width="0.5" />
<circle cx="118.02" cy="307.07" r="0.9" fill="#38a8d6" stroke="none" stroke-width="0.5" />
<circle cx="112.26" cy="306.26" r="0.9" fill="#38a8d6" stroke="none" stroke-width="0.5" />
<circle cx="118.62" cy="307.47" r="0.9" fill="#38a8d6" stroke="none" stroke-width="0.5" />
<circle cx="112.64" cy="307.07" r="0.9" fill="#38a8d6" stroke="none" stroke-width="0.5" />
<circle cx="114.39" cy="306.66" r="0.9" fill="#38a8d6" stroke="none" stroke-width="0.5" />
<line x1="115.5" y1="306.26" x2="115.5" y2="307.88" stroke="#38a8d6" stroke-width="0.7" />
<line x1="111.9" y1="307.07" x2="119.1" y2="307.07" stroke="#38a8d6" stroke-width="0.8" />
<line x1="113.8" y1="306.26" x2="117.2" y2="306.26" stroke="#38a8d6" stroke-width="0.7" />
<line x1="113.8" y1="307.88" x2="117.2" y2="307.88" stroke="#38a8d6" stroke-width="0.7" />
<circle cx="128.91" cy="307.07" r="0.9" fill="#a8102c" stroke="none" stroke-width="0.5" />
<circle cx="130.88" cy="306.26" r="0.9" fill="#a8102c" stroke="none" stroke-width="0.5" />
<circle cx="127.18" cy="305.85" r="0.9" fill="#a8102c" stroke="none" stroke-width="0.5" />
<circle cx="130.91" cy="305.44" r="0.9" fill="#a8102c" stroke="none" stroke-width="0.5" />
<circle cx="128.49" cy="305.04" r="0.9" fill="#a8102c" stroke="none" stroke-width="0.5" />
<circle cx="127" cy="304.23" r="0.9" fill="#a8102c" stroke="none" stroke-width="0.5" />
<circle cx="127.03" cy="303.42" r="0.9" fill="#a8102c" stroke="none" stroke-width="0.5" />
<circle cx="126.14" cy="302.61" r="0.9" fill="#a8102c" stroke="none" stroke-width="0.5" />
<circle cx="125.5" cy="301.39" r="0.9" fill="#a8102c" stroke="none" stroke-width="0.5" />
<circle cx="125.95" cy="295.71" r="0.9" fill="#a8102c" stroke="none" stroke-width="0.5" />
<circle cx="129.41" cy="294.5" r="0.9" fill="#a8102c" stroke="none" stroke-width="0.5" />
<line x1="128.2" y1="301.39" x2="128.2" y2="306.26" stroke="#a8102c" stroke-width="0.7" />
<line x1="124.6" y1="303.82" x2="131.8" y2="303.82" stroke="#a8102c" stroke-width="0.8" />
<line x1="126.5" y1="301.39" x2="129.9" y2="301.39" stroke="#a8102c" stroke-width="0.7" />
<line x1="126.5" y1="306.26" x2="129.9" y2="306.26" stroke="#a8102c" stroke-width="0.7" />
<circle cx="144.48" cy="307.07" r="0.9" fill="#358f3c" stroke="none" stroke-width="0.5" />
<circle cx="138.63" cy="306.26" r="0.9" fill="#358f3c" stroke="none" stroke-width="0.5" />
<circle cx="137.84" cy="305.85" r="0.9" fill="#358f3c" stroke="none" stroke-width="0.5" />
<circle cx="144.41" cy="305.44" r="0.9" fill="#358f3c" stroke="none" stroke-width="0.5" />
<circle cx="141.23" cy="305.04" r="0.9" fill="#358f3c" stroke="none" stroke-width="0.5" />
<circle cx="140.34" cy="304.63" r="0.9" fill="#358f3c" stroke="none" stroke-width="0.5" />
<circle cx="139.16" cy="304.23" r="0.9" fill="#358f3c" stroke="none" stroke-width="0.5" />
<circle cx="141.66" cy="306.26" r="0.9" fill="#358f3c" stroke="none" stroke-width="0.5" />
<line x1="141" y1="304.39" x2="141" y2="306.66" stroke="#358f3c" stroke-width="0.7" />
<line x1="137.4" y1="305.44" x2="144.6" y2="305.44" stroke="#358f3c" stroke-width="0.8" />
<line x1="139.3" y1="304.39" x2="142.7" y2="304.39" stroke="#358f3c" stroke-width="0.7" />
<line x1="139.3" y1="306.66" x2="142.7" y2="306.66" stroke="#358f3c" stroke-width="0.7" />
<path d="M39.6,267.29999999999995 L39.6,265.4 L63.3,265.4 L63.3,267.29999999999995" fill="none" stroke="#222" stroke-width="0.8" />
<text x="51.5" y="263.6" font-size="4.75" text-anchor="middle" fill="#262626" textLength="4.65" lengthAdjust="spacingAndGlyphs">ns</text>
<path d="M39.6,276.7 L39.6,274.8 L64.6,274.8 L64.6,276.7 M51.5,274.8 L51.5,276.7" fill="none" stroke="#222" stroke-width="0.8" />
<text x="44.5" y="274.4" font-size="4.75" text-anchor="middle" fill="#262626" textLength="1.71" lengthAdjust="spacingAndGlyphs">*</text>
<text x="57.5" y="273.3" font-size="4.7" text-anchor="middle" fill="#262626"><tspan font-style="italic">P</tspan> = .08</text>
<path d="M77.1,225.3 L77.1,223.4 L100.5,223.4 L100.5,225.3" fill="none" stroke="#222" stroke-width="0.8" />
<text x="88.8" y="223.6" font-size="4.75" text-anchor="middle" fill="#262626" textLength="5.14" lengthAdjust="spacingAndGlyphs">***</text>
<path d="M77.1,236.0 L77.1,234.1 L88.9,234.1 L88.9,236.0" fill="none" stroke="#222" stroke-width="0.8" />
<text x="83" y="233.8" font-size="4.75" text-anchor="middle" fill="#262626" textLength="6.85" lengthAdjust="spacingAndGlyphs">****</text>
<path d="M89.6,251.1 L89.6,249.2 L102.6,249.2 L102.6,251.1" fill="none" stroke="#222" stroke-width="0.8" />
<text x="96.1" y="248.9" font-size="4.75" text-anchor="middle" fill="#262626" textLength="1.71" lengthAdjust="spacingAndGlyphs">*</text>
<path d="M116.4,282.79999999999995 L116.4,280.9 L139.6,280.9 L139.6,282.79999999999995" fill="none" stroke="#222" stroke-width="0.8" />
<text x="128" y="279.2" font-size="4.75" text-anchor="middle" fill="#262626" textLength="4.65" lengthAdjust="spacingAndGlyphs">ns</text>
<path d="M116.4,292.5 L116.4,290.6 L140.9,290.6 L140.9,292.5 M128.2,290.6 L128.2,292.5" fill="none" stroke="#222" stroke-width="0.8" />
<text x="121.9" y="290.3" font-size="4.75" text-anchor="middle" fill="#262626" textLength="5.14" lengthAdjust="spacingAndGlyphs">***</text>
<text x="134.6" y="290.3" font-size="4.75" text-anchor="middle" fill="#262626" textLength="1.71" lengthAdjust="spacingAndGlyphs">*</text>
<text x="50" y="316.3" font-size="5.18" text-anchor="middle" fill="#262626" textLength="9.6" lengthAdjust="spacingAndGlyphs">T1/2</text>
<text x="90" y="316.3" font-size="5.18" text-anchor="middle" fill="#262626" textLength="6.67" lengthAdjust="spacingAndGlyphs">FO</text>
<text x="129" y="316.3" font-size="5.18" text-anchor="middle" fill="#262626" textLength="8.27" lengthAdjust="spacingAndGlyphs">T3a</text>
<circle cx="55.6" cy="325.7" r="2.1" fill="#3ab4dc" stroke="#333" stroke-width="0.35" stroke-opacity="0.5"/>
<text x="59.7" y="327.4" font-size="5.29" fill="#262626" textLength="54.5" lengthAdjust="spacingAndGlyphs">Healthy controls (n = 16)</text>
<circle cx="55.6" cy="333.2" r="2.1" fill="#b8102e" stroke="#333" stroke-width="0.35" stroke-opacity="0.5"/>
<text x="59.7" y="334.9" font-size="5.29" fill="#262626" textLength="61.3" lengthAdjust="spacingAndGlyphs">CTLA4 pre-abatacept (n = 11)</text>
<circle cx="55.6" cy="341" r="2.1" fill="#3a9a3e" stroke="#333" stroke-width="0.35" stroke-opacity="0.5"/>
<text x="59.7" y="342.7" font-size="5.29" fill="#262626" textLength="65.3" lengthAdjust="spacingAndGlyphs">CTLA4 post-abatacept (n = 8)</text>
<line x1="33.4" y1="390.5" x2="33.4" y2="443.5" stroke="#222" stroke-width="0.9" />
<line x1="33.4" y1="443.5" x2="71.4" y2="443.5" stroke="#222" stroke-width="0.9" />
<line x1="31.6" y1="443.5" x2="33.4" y2="443.5" stroke="#222" stroke-width="0.7" />
<text x="30.4" y="445" font-size="5.18" text-anchor="end" fill="#262626" textLength="2.67" lengthAdjust="spacingAndGlyphs">0</text>
<line x1="31.6" y1="430.93" x2="33.4" y2="430.93" stroke="#222" stroke-width="0.7" />
<text x="30.4" y="432.43" font-size="5.18" text-anchor="end" fill="#262626" textLength="5.34" lengthAdjust="spacingAndGlyphs">10</text>
<line x1="31.6" y1="418.35" x2="33.4" y2="418.35" stroke="#222" stroke-width="0.7" />
<text x="30.4" y="419.85" font-size="5.18" text-anchor="end" fill="#262626" textLength="5.34" lengthAdjust="spacingAndGlyphs">20</text>
<line x1="31.6" y1="405.77" x2="33.4" y2="405.77" stroke="#222" stroke-width="0.7" />
<text x="30.4" y="407.27" font-size="5.18" text-anchor="end" fill="#262626" textLength="5.34" lengthAdjust="spacingAndGlyphs">30</text>
<line x1="31.6" y1="393.2" x2="33.4" y2="393.2" stroke="#222" stroke-width="0.7" />
<text x="30.4" y="394.7" font-size="5.18" text-anchor="end" fill="#262626" textLength="5.34" lengthAdjust="spacingAndGlyphs">40</text>
<line x1="44.4" y1="443.5" x2="44.4" y2="445.3" stroke="#222" stroke-width="0.7" />
<line x1="61.2" y1="443.5" x2="61.2" y2="445.3" stroke="#222" stroke-width="0.7" />
<line x1="44.4" y1="396.97" x2="61.2" y2="442.24" stroke="url(#pg3)" stroke-width="0.5" />
<line x1="44.4" y1="416.46" x2="61.2" y2="418.35" stroke="url(#pg3)" stroke-width="0.5" />
<line x1="44.4" y1="419.61" x2="61.2" y2="442.75" stroke="url(#pg3)" stroke-width="0.5" />
<line x1="44.4" y1="430.3" x2="61.2" y2="430.93" stroke="url(#pg3)" stroke-width="0.5" />
<line x1="44.4" y1="435.95" x2="61.2" y2="424.01" stroke="url(#pg3)" stroke-width="0.5" />
<line x1="44.4" y1="438.47" x2="61.2" y2="443" stroke="url(#pg3)" stroke-width="0.5" />
<rect x="43.4" y="395.97" width="2" height="2" fill="#a8102c" stroke="none" stroke-width="0.8" />
<rect x="43.4" y="415.46" width="2" height="2" fill="#a8102c" stroke="none" stroke-width="0.8" />
<rect x="43.4" y="418.61" width="2" height="2" fill="#a8102c" stroke="none" stroke-width="0.8" />
<rect x="43.4" y="429.3" width="2" height="2" fill="#a8102c" stroke="none" stroke-width="0.8" />
<rect x="43.4" y="434.95" width="2" height="2" fill="#a8102c" stroke="none" stroke-width="0.8" />
<rect x="43.4" y="437.47" width="2" height="2" fill="#a8102c" stroke="none" stroke-width="0.8" />
<rect x="60.2" y="417.35" width="2" height="2" fill="#4aa84a" stroke="none" stroke-width="0.8" />
<rect x="60.2" y="423.01" width="2" height="2" fill="#4aa84a" stroke="none" stroke-width="0.8" />
<rect x="60.2" y="429.93" width="2" height="2" fill="#4aa84a" stroke="none" stroke-width="0.8" />
<rect x="60.2" y="441.24" width="2" height="2" fill="#4aa84a" stroke="none" stroke-width="0.8" />
<rect x="60.2" y="441.75" width="2" height="2" fill="#4aa84a" stroke="none" stroke-width="0.8" />
<rect x="60.2" y="442" width="2" height="2" fill="#4aa84a" stroke="none" stroke-width="0.8" />
<path d="M44.4,395.8 L44.4,393.4 L61.2,393.4 L61.2,395.8" fill="none" stroke="#222" stroke-width="0.8" />
<text x="52.8" y="383.9" font-size="4.9" text-anchor="middle" fill="#262626"><tspan font-style="italic">P</tspan> = .31</text>
<text x="52.8" y="390.2" font-size="5.18" text-anchor="middle" fill="#262626" textLength="30.4" lengthAdjust="spacingAndGlyphs">(paired, n = 6)</text>
<text x="16.6" y="417.5" font-size="5.94" text-anchor="middle" font-weight="bold" fill="#2a2a2a" textLength="64.5" lengthAdjust="spacingAndGlyphs" transform="rotate(-90 16.6 417.5)">T1/2 B cells (% IgD+CD27−)</text>
<text x="9.37" y="486.67" font-size="5.4" fill="#333" textLength="51.41" lengthAdjust="spacingAndGlyphs" transform="rotate(-45.08 9.37 486.67)">CTLA4 (pre-abatacept)</text>
<text x="24.46" y="487.49" font-size="5.4" fill="#333" textLength="53.18" lengthAdjust="spacingAndGlyphs" transform="rotate(-44.39 24.46 487.49)">CTLA4 (post-abatacept)</text>
<line x1="108.4" y1="390.5" x2="108.4" y2="443.5" stroke="#222" stroke-width="0.9" />
<line x1="108.4" y1="443.5" x2="146.4" y2="443.5" stroke="#222" stroke-width="0.9" />
<line x1="106.6" y1="443.5" x2="108.4" y2="443.5" stroke="#222" stroke-width="0.7" />
<text x="105.4" y="445" font-size="5.18" text-anchor="end" fill="#262626" textLength="2.67" lengthAdjust="spacingAndGlyphs">0</text>
<line x1="106.6" y1="430.93" x2="108.4" y2="430.93" stroke="#222" stroke-width="0.7" />
<text x="105.4" y="432.43" font-size="5.18" text-anchor="end" fill="#262626" textLength="5.34" lengthAdjust="spacingAndGlyphs">20</text>
<line x1="106.6" y1="418.35" x2="108.4" y2="418.35" stroke="#222" stroke-width="0.7" />
<text x="105.4" y="419.85" font-size="5.18" text-anchor="end" fill="#262626" textLength="5.34" lengthAdjust="spacingAndGlyphs">40</text>
<line x1="106.6" y1="405.77" x2="108.4" y2="405.77" stroke="#222" stroke-width="0.7" />
<text x="105.4" y="407.27" font-size="5.18" text-anchor="end" fill="#262626" textLength="5.34" lengthAdjust="spacingAndGlyphs">60</text>
<line x1="106.6" y1="393.2" x2="108.4" y2="393.2" stroke="#222" stroke-width="0.7" />
<text x="105.4" y="394.7" font-size="5.18" text-anchor="end" fill="#262626" textLength="5.34" lengthAdjust="spacingAndGlyphs">80</text>
<line x1="119.4" y1="443.5" x2="119.4" y2="445.3" stroke="#222" stroke-width="0.7" />
<line x1="136.2" y1="443.5" x2="136.2" y2="445.3" stroke="#222" stroke-width="0.7" />
<line x1="119.4" y1="412.06" x2="136.2" y2="418.35" stroke="url(#pg4)" stroke-width="0.5" />
<line x1="119.4" y1="413.95" x2="136.2" y2="419.61" stroke="url(#pg4)" stroke-width="0.5" />
<line x1="119.4" y1="416.46" x2="136.2" y2="402.63" stroke="url(#pg4)" stroke-width="0.5" />
<line x1="119.4" y1="420.24" x2="136.2" y2="405.77" stroke="url(#pg4)" stroke-width="0.5" />
<line x1="119.4" y1="432.81" x2="136.2" y2="407.66" stroke="url(#pg4)" stroke-width="0.5" />
<line x1="119.4" y1="432.5" x2="136.2" y2="424.01" stroke="url(#pg4)" stroke-width="0.5" />
<rect x="118.4" y="411.06" width="2" height="2" fill="#a8102c" stroke="none" stroke-width="0.8" />
<rect x="118.4" y="412.95" width="2" height="2" fill="#a8102c" stroke="none" stroke-width="0.8" />
<rect x="118.4" y="415.46" width="2" height="2" fill="#a8102c" stroke="none" stroke-width="0.8" />
<rect x="118.4" y="419.24" width="2" height="2" fill="#a8102c" stroke="none" stroke-width="0.8" />
<rect x="118.4" y="431.81" width="2" height="2" fill="#a8102c" stroke="none" stroke-width="0.8" />
<rect x="118.4" y="431.5" width="2" height="2" fill="#a8102c" stroke="none" stroke-width="0.8" />
<rect x="135.2" y="401.63" width="2" height="2" fill="#4aa84a" stroke="none" stroke-width="0.8" />
<rect x="135.2" y="404.77" width="2" height="2" fill="#4aa84a" stroke="none" stroke-width="0.8" />
<rect x="135.2" y="406.66" width="2" height="2" fill="#4aa84a" stroke="none" stroke-width="0.8" />
<rect x="135.2" y="417.35" width="2" height="2" fill="#4aa84a" stroke="none" stroke-width="0.8" />
<rect x="135.2" y="418.61" width="2" height="2" fill="#4aa84a" stroke="none" stroke-width="0.8" />
<rect x="135.2" y="423.01" width="2" height="2" fill="#4aa84a" stroke="none" stroke-width="0.8" />
<path d="M119.4,395.8 L119.4,393.4 L136.20000000000002,393.4 L136.20000000000002,395.8" fill="none" stroke="#222" stroke-width="0.8" />
<text x="127.8" y="383.9" font-size="4.9" text-anchor="middle" fill="#262626"><tspan font-style="italic">P</tspan> = .16</text>
<text x="127.8" y="390.2" font-size="5.18" text-anchor="middle" fill="#262626" textLength="30.4" lengthAdjust="spacingAndGlyphs">(paired, n = 6)</text>
<text x="92.2" y="417.5" font-size="5.94" text-anchor="middle" font-weight="bold" fill="#2a2a2a" textLength="60" lengthAdjust="spacingAndGlyphs" transform="rotate(-90 92.2 417.5)">FO B cells (% IgD+CD27−)</text>
<text x="84.37" y="486.67" font-size="5.4" fill="#333" textLength="51.41" lengthAdjust="spacingAndGlyphs" transform="rotate(-45.08 84.37 486.67)">CTLA4 (pre-abatacept)</text>
<text x="99.46" y="487.49" font-size="5.4" fill="#333" textLength="53.18" lengthAdjust="spacingAndGlyphs" transform="rotate(-44.39 99.46 487.49)">CTLA4 (post-abatacept)</text>
<line x1="183.4" y1="390.5" x2="183.4" y2="443.5" stroke="#222" stroke-width="0.9" />
<line x1="183.4" y1="443.5" x2="221.4" y2="443.5" stroke="#222" stroke-width="0.9" />
<line x1="181.6" y1="443.5" x2="183.4" y2="443.5" stroke="#222" stroke-width="0.7" />
<text x="180.4" y="445" font-size="5.18" text-anchor="end" fill="#262626" textLength="2.67" lengthAdjust="spacingAndGlyphs">0</text>
<line x1="181.6" y1="430.93" x2="183.4" y2="430.93" stroke="#222" stroke-width="0.7" />
<text x="180.4" y="432.43" font-size="5.18" text-anchor="end" fill="#262626" textLength="2.67" lengthAdjust="spacingAndGlyphs">5</text>
<line x1="181.6" y1="418.35" x2="183.4" y2="418.35" stroke="#222" stroke-width="0.7" />
<text x="180.4" y="419.85" font-size="5.18" text-anchor="end" fill="#262626" textLength="5.34" lengthAdjust="spacingAndGlyphs">10</text>
<line x1="181.6" y1="405.77" x2="183.4" y2="405.77" stroke="#222" stroke-width="0.7" />
<text x="180.4" y="407.27" font-size="5.18" text-anchor="end" fill="#262626" textLength="5.34" lengthAdjust="spacingAndGlyphs">15</text>
<line x1="181.6" y1="393.2" x2="183.4" y2="393.2" stroke="#222" stroke-width="0.7" />
<text x="180.4" y="394.7" font-size="5.18" text-anchor="end" fill="#262626" textLength="5.34" lengthAdjust="spacingAndGlyphs">20</text>
<line x1="194.4" y1="443.5" x2="194.4" y2="445.3" stroke="#222" stroke-width="0.7" />
<line x1="211.2" y1="443.5" x2="211.2" y2="445.3" stroke="#222" stroke-width="0.7" />
<line x1="194.4" y1="399.49" x2="211.2" y2="439.73" stroke="url(#pg5)" stroke-width="0.5" />
<line x1="194.4" y1="403.26" x2="211.2" y2="434.7" stroke="url(#pg5)" stroke-width="0.5" />
<line x1="194.4" y1="422.88" x2="211.2" y2="425.89" stroke="url(#pg5)" stroke-width="0.5" />
<line x1="194.4" y1="427.15" x2="211.2" y2="435.95" stroke="url(#pg5)" stroke-width="0.5" />
<line x1="194.4" y1="434.19" x2="211.2" y2="437.21" stroke="url(#pg5)" stroke-width="0.5" />
<line x1="194.4" y1="434.7" x2="211.2" y2="435.45" stroke="url(#pg5)" stroke-width="0.5" />
<rect x="193.4" y="398.49" width="2" height="2" fill="#a8102c" stroke="none" stroke-width="0.8" />
<rect x="193.4" y="402.26" width="2" height="2" fill="#a8102c" stroke="none" stroke-width="0.8" />
<rect x="193.4" y="421.88" width="2" height="2" fill="#a8102c" stroke="none" stroke-width="0.8" />
<rect x="193.4" y="426.15" width="2" height="2" fill="#a8102c" stroke="none" stroke-width="0.8" />
<rect x="193.4" y="433.19" width="2" height="2" fill="#a8102c" stroke="none" stroke-width="0.8" />
<rect x="193.4" y="433.7" width="2" height="2" fill="#a8102c" stroke="none" stroke-width="0.8" />
<rect x="210.2" y="424.89" width="2" height="2" fill="#4aa84a" stroke="none" stroke-width="0.8" />
<rect x="210.2" y="433.7" width="2" height="2" fill="#4aa84a" stroke="none" stroke-width="0.8" />
<rect x="210.2" y="434.95" width="2" height="2" fill="#4aa84a" stroke="none" stroke-width="0.8" />
<rect x="210.2" y="436.21" width="2" height="2" fill="#4aa84a" stroke="none" stroke-width="0.8" />
<rect x="210.2" y="438.73" width="2" height="2" fill="#4aa84a" stroke="none" stroke-width="0.8" />
<rect x="210.2" y="434.45" width="2" height="2" fill="#4aa84a" stroke="none" stroke-width="0.8" />
<path d="M194.4,395.8 L194.4,393.4 L211.20000000000002,393.4 L211.20000000000002,395.8" fill="none" stroke="#222" stroke-width="0.8" />
<text x="202.8" y="383.9" font-size="4.9" text-anchor="middle" fill="#262626"><tspan font-style="italic">P</tspan> = .06</text>
<text x="202.8" y="390.2" font-size="5.18" text-anchor="middle" fill="#262626" textLength="30.4" lengthAdjust="spacingAndGlyphs">(paired, n = 6)</text>
<text x="167.2" y="417.5" font-size="5.94" text-anchor="middle" font-weight="bold" fill="#2a2a2a" textLength="62.7" lengthAdjust="spacingAndGlyphs" transform="rotate(-90 167.2 417.5)">T3a B cells (% IgD+CD27−)</text>
<text x="159.37" y="486.67" font-size="5.4" fill="#333" textLength="51.41" lengthAdjust="spacingAndGlyphs" transform="rotate(-45.08 159.37 486.67)">CTLA4 (pre-abatacept)</text>
<text x="174.46" y="487.49" font-size="5.4" fill="#333" textLength="53.18" lengthAdjust="spacingAndGlyphs" transform="rotate(-44.39 174.46 487.49)">CTLA4 (post-abatacept)</text>
</svg></body></html>
